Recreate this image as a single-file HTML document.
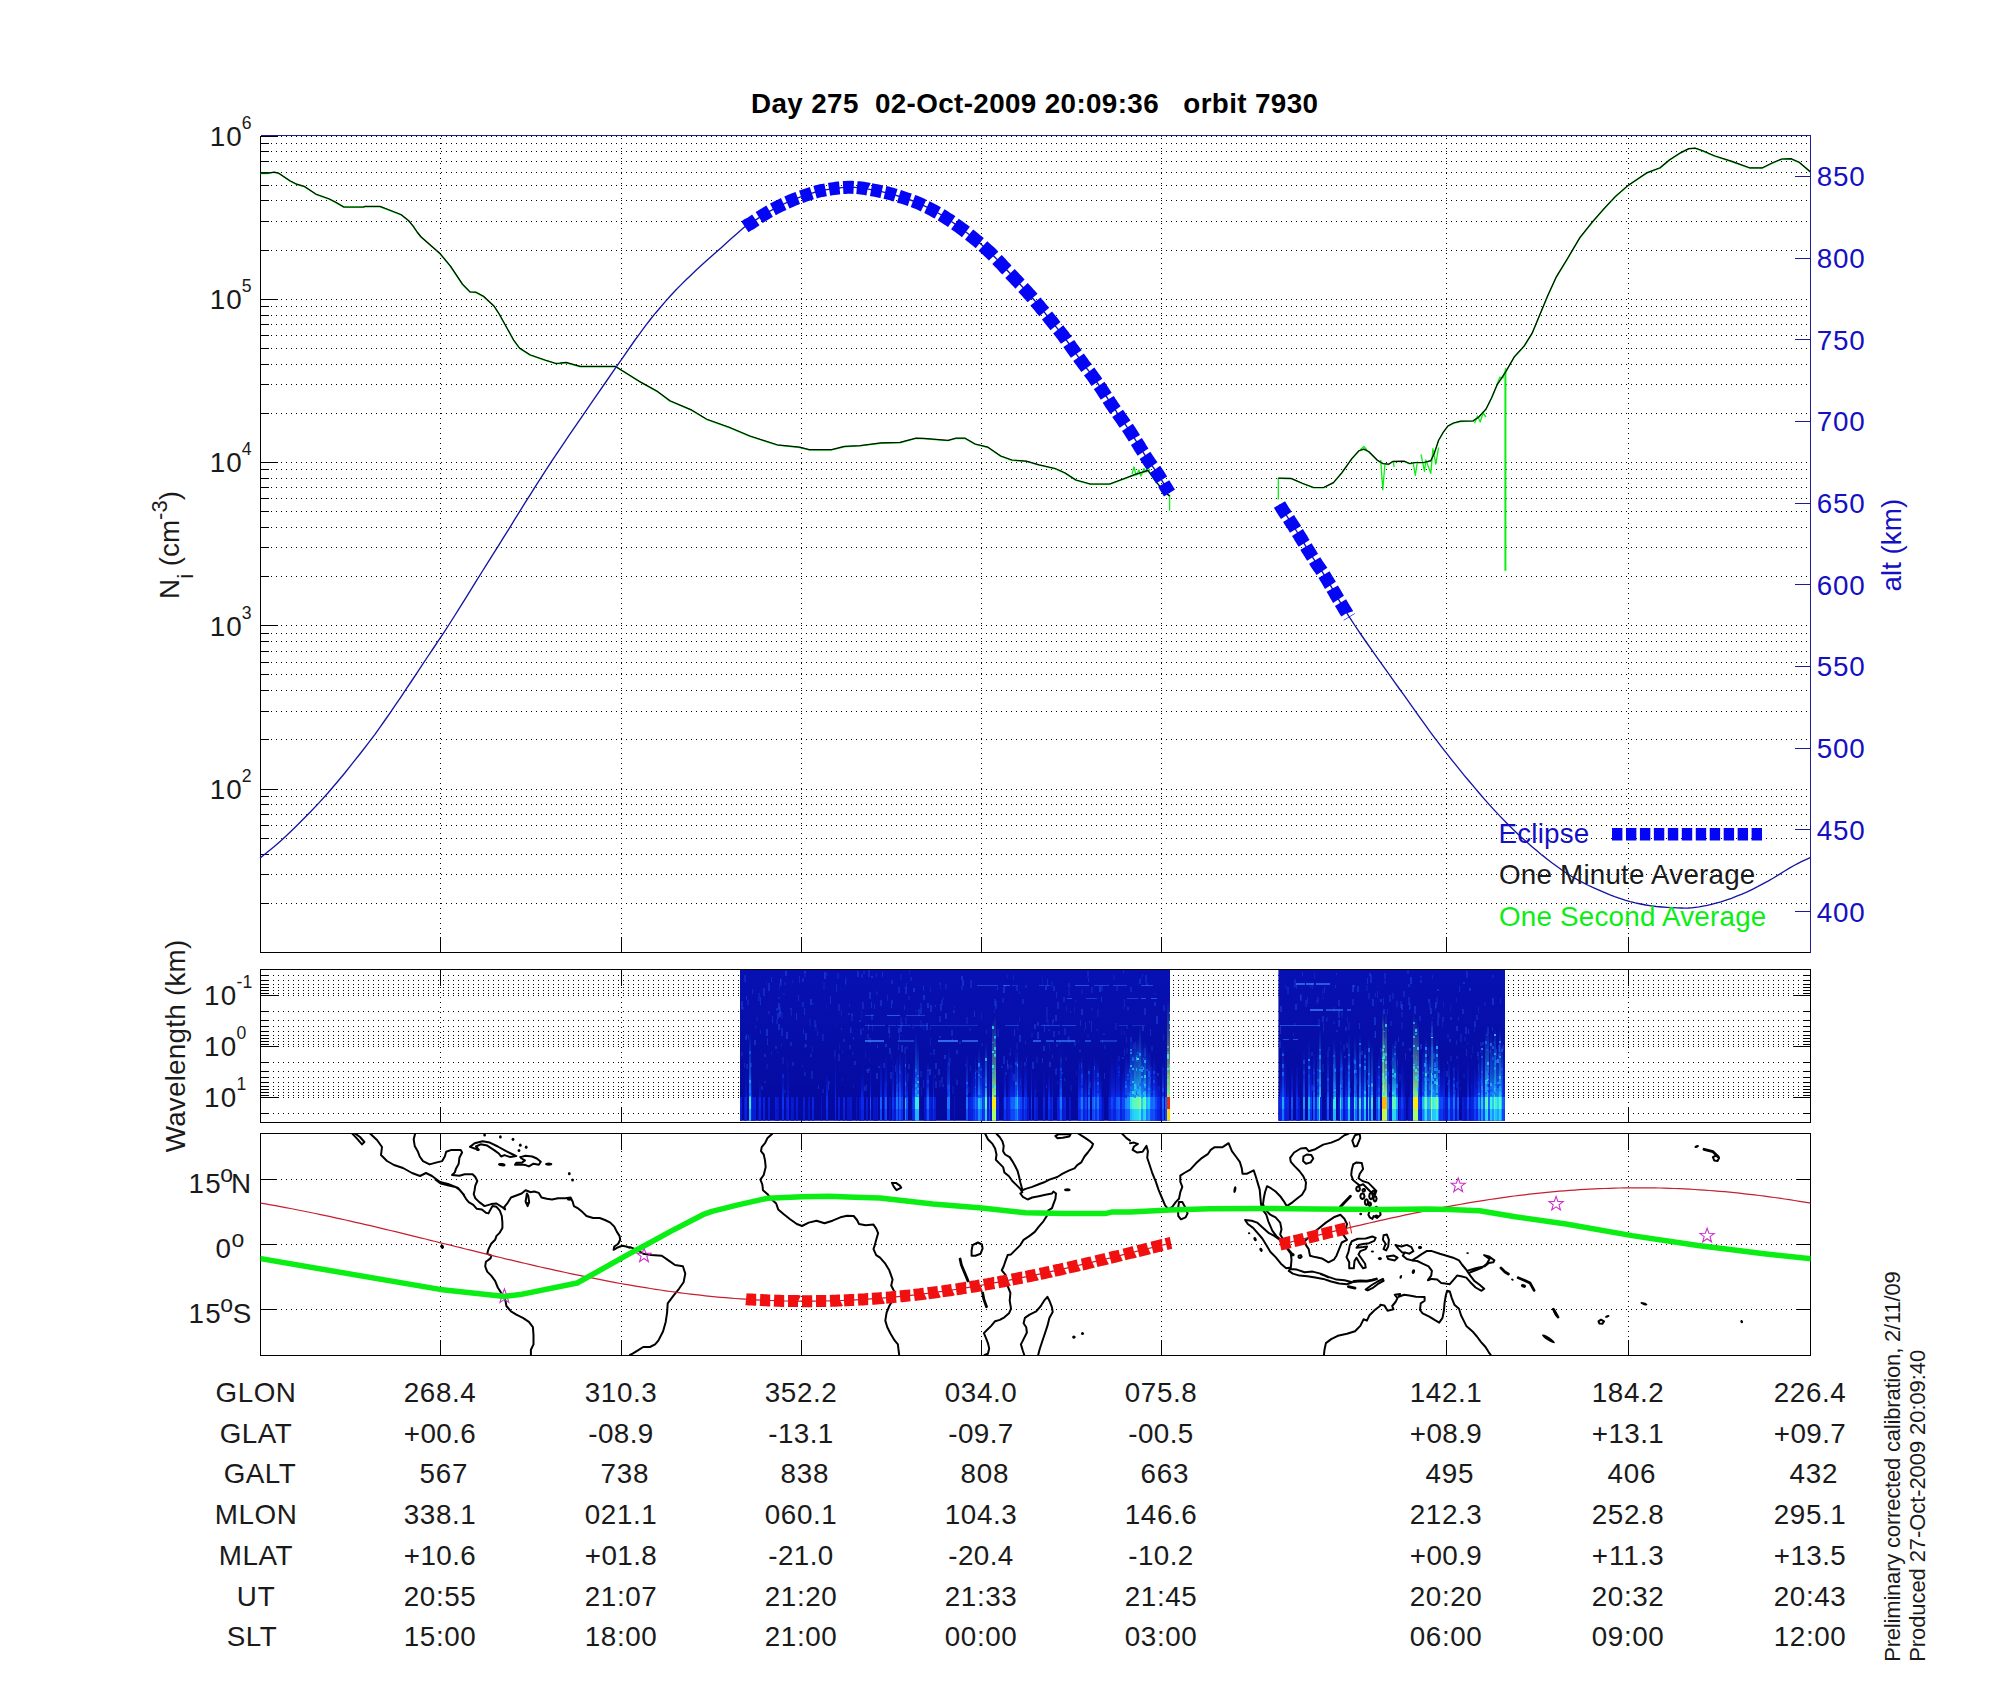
<!DOCTYPE html>
<html lang="en"><head><meta charset="utf-8"><title>Day 275 02-Oct-2009 orbit 7930</title>
<style>html,body{margin:0;padding:0;background:#fff}svg{display:block}</style></head>
<body>
<svg width="2000" height="1700" viewBox="0 0 2000 1700" font-family='"Liberation Sans", Arial, Helvetica, sans-serif' font-size="27.8" fill="#1a1a1a">
<rect width="2000" height="1700" fill="#fff"/>
<g stroke="#000" stroke-width="1" stroke-dasharray="1 4" shape-rendering="crispEdges">
<line x1="261" x2="1807" y1="136.5" y2="136.5"/>
<line x1="261" x2="1807" y1="143.5" y2="143.5"/>
<line x1="261" x2="1807" y1="151.5" y2="151.5"/>
<line x1="261" x2="1807" y1="161.5" y2="161.5"/>
<line x1="261" x2="1807" y1="172.5" y2="172.5"/>
<line x1="261" x2="1807" y1="185.5" y2="185.5"/>
<line x1="261" x2="1807" y1="200.5" y2="200.5"/>
<line x1="261" x2="1807" y1="221.5" y2="221.5"/>
<line x1="261" x2="1807" y1="250.5" y2="250.5"/>
<line x1="261" x2="1807" y1="299.5" y2="299.5"/>
<line x1="261" x2="1807" y1="306.5" y2="306.5"/>
<line x1="261" x2="1807" y1="315.5" y2="315.5"/>
<line x1="261" x2="1807" y1="324.5" y2="324.5"/>
<line x1="261" x2="1807" y1="335.5" y2="335.5"/>
<line x1="261" x2="1807" y1="348.5" y2="348.5"/>
<line x1="261" x2="1807" y1="364.5" y2="364.5"/>
<line x1="261" x2="1807" y1="384.5" y2="384.5"/>
<line x1="261" x2="1807" y1="413.5" y2="413.5"/>
<line x1="261" x2="1807" y1="462.5" y2="462.5"/>
<line x1="261" x2="1807" y1="469.5" y2="469.5"/>
<line x1="261" x2="1807" y1="478.5" y2="478.5"/>
<line x1="261" x2="1807" y1="487.5" y2="487.5"/>
<line x1="261" x2="1807" y1="498.5" y2="498.5"/>
<line x1="261" x2="1807" y1="511.5" y2="511.5"/>
<line x1="261" x2="1807" y1="527.5" y2="527.5"/>
<line x1="261" x2="1807" y1="547.5" y2="547.5"/>
<line x1="261" x2="1807" y1="576.5" y2="576.5"/>
<line x1="261" x2="1807" y1="625.5" y2="625.5"/>
<line x1="261" x2="1807" y1="633.5" y2="633.5"/>
<line x1="261" x2="1807" y1="641.5" y2="641.5"/>
<line x1="261" x2="1807" y1="651.5" y2="651.5"/>
<line x1="261" x2="1807" y1="662.5" y2="662.5"/>
<line x1="261" x2="1807" y1="674.5" y2="674.5"/>
<line x1="261" x2="1807" y1="690.5" y2="690.5"/>
<line x1="261" x2="1807" y1="711.5" y2="711.5"/>
<line x1="261" x2="1807" y1="739.5" y2="739.5"/>
<line x1="261" x2="1807" y1="789.5" y2="789.5"/>
<line x1="261" x2="1807" y1="796.5" y2="796.5"/>
<line x1="261" x2="1807" y1="804.5" y2="804.5"/>
<line x1="261" x2="1807" y1="814.5" y2="814.5"/>
<line x1="261" x2="1807" y1="825.5" y2="825.5"/>
<line x1="261" x2="1807" y1="838.5" y2="838.5"/>
<line x1="261" x2="1807" y1="854.5" y2="854.5"/>
<line x1="261" x2="1807" y1="874.5" y2="874.5"/>
<line x1="261" x2="1807" y1="903.5" y2="903.5"/>
<line x1="440.5" x2="440.5" y1="138" y2="952.5" stroke-dashoffset="0"/>
<line x1="621.5" x2="621.5" y1="138" y2="952.5" stroke-dashoffset="0"/>
<line x1="801.5" x2="801.5" y1="138" y2="952.5" stroke-dashoffset="0"/>
<line x1="981.5" x2="981.5" y1="138" y2="952.5" stroke-dashoffset="0"/>
<line x1="1161.5" x2="1161.5" y1="138" y2="952.5" stroke-dashoffset="0"/>
<line x1="1446.5" x2="1446.5" y1="138" y2="952.5" stroke-dashoffset="0"/>
<line x1="1628.5" x2="1628.5" y1="138" y2="952.5" stroke-dashoffset="0"/>
</g>
<g stroke="#000" stroke-width="1" stroke-dasharray="1 4" shape-rendering="crispEdges">
<line x1="263" x2="1810" y1="975.5" y2="975.5"/>
<line x1="263" x2="1810" y1="980.5" y2="980.5"/>
<line x1="263" x2="1810" y1="984.5" y2="984.5"/>
<line x1="263" x2="1810" y1="987.5" y2="987.5"/>
<line x1="263" x2="1810" y1="990.5" y2="990.5"/>
<line x1="263" x2="1810" y1="993.5" y2="993.5"/>
<line x1="263" x2="1810" y1="995.5" y2="995.5"/>
<line x1="263" x2="1810" y1="1011.5" y2="1011.5"/>
<line x1="263" x2="1810" y1="1020.5" y2="1020.5"/>
<line x1="263" x2="1810" y1="1026.5" y2="1026.5"/>
<line x1="263" x2="1810" y1="1031.5" y2="1031.5"/>
<line x1="263" x2="1810" y1="1035.5" y2="1035.5"/>
<line x1="263" x2="1810" y1="1038.5" y2="1038.5"/>
<line x1="263" x2="1810" y1="1041.5" y2="1041.5"/>
<line x1="263" x2="1810" y1="1044.5" y2="1044.5"/>
<line x1="263" x2="1810" y1="1046.5" y2="1046.5"/>
<line x1="263" x2="1810" y1="1062.5" y2="1062.5"/>
<line x1="263" x2="1810" y1="1071.5" y2="1071.5"/>
<line x1="263" x2="1810" y1="1077.5" y2="1077.5"/>
<line x1="263" x2="1810" y1="1082.5" y2="1082.5"/>
<line x1="263" x2="1810" y1="1086.5" y2="1086.5"/>
<line x1="263" x2="1810" y1="1089.5" y2="1089.5"/>
<line x1="263" x2="1810" y1="1092.5" y2="1092.5"/>
<line x1="263" x2="1810" y1="1095.5" y2="1095.5"/>
<line x1="263" x2="1810" y1="1097.5" y2="1097.5"/>
<line x1="263" x2="1810" y1="1113.5" y2="1113.5"/>
<line x1="440.5" x2="440.5" y1="972" y2="1122.5"/>
<line x1="621.5" x2="621.5" y1="972" y2="1122.5"/>
<line x1="801.5" x2="801.5" y1="972" y2="1122.5"/>
<line x1="981.5" x2="981.5" y1="972" y2="1122.5"/>
<line x1="1161.5" x2="1161.5" y1="972" y2="1122.5"/>
<line x1="1446.5" x2="1446.5" y1="972" y2="1122.5"/>
<line x1="1628.5" x2="1628.5" y1="972" y2="1122.5"/>
</g>
<g stroke="#000" stroke-width="1" stroke-dasharray="1 4" shape-rendering="crispEdges">
<line x1="261" x2="1810" y1="1179.5" y2="1179.5"/>
<line x1="261" x2="1810" y1="1244.5" y2="1244.5"/>
<line x1="261" x2="1810" y1="1309.5" y2="1309.5"/>
<line x1="440.5" x2="440.5" y1="1136" y2="1355.5"/>
<line x1="621.5" x2="621.5" y1="1136" y2="1355.5"/>
<line x1="801.5" x2="801.5" y1="1136" y2="1355.5"/>
<line x1="981.5" x2="981.5" y1="1136" y2="1355.5"/>
<line x1="1161.5" x2="1161.5" y1="1136" y2="1355.5"/>
<line x1="1446.5" x2="1446.5" y1="1136" y2="1355.5"/>
<line x1="1628.5" x2="1628.5" y1="1136" y2="1355.5"/>
<line x1="1810.5" x2="1810.5" y1="1136" y2="1355.5"/>
</g>
<g stroke="#000" stroke-width="1.2" fill="none" shape-rendering="crispEdges">
<path d="M260.5 135.5 V952.5 H1810.5"/>
<rect x="260.5" y="969.5" width="1550.0" height="153.0"/>
<rect x="260.5" y="1133.5" width="1550.0" height="222.0"/>
<path d="M440.5 952.5 v-16 M440.5 969.5 v16 M440.5 1122.5 v-16 M440.5 1133.5 v16 M440.5 1355.5 v-16 M621.5 952.5 v-16 M621.5 969.5 v16 M621.5 1122.5 v-16 M621.5 1133.5 v16 M621.5 1355.5 v-16 M801.5 952.5 v-16 M801.5 969.5 v16 M801.5 1122.5 v-16 M801.5 1133.5 v16 M801.5 1355.5 v-16 M981.5 952.5 v-16 M981.5 969.5 v16 M981.5 1122.5 v-16 M981.5 1133.5 v16 M981.5 1355.5 v-16 M1161.5 952.5 v-16 M1161.5 969.5 v16 M1161.5 1122.5 v-16 M1161.5 1133.5 v16 M1161.5 1355.5 v-16 M1446.5 952.5 v-16 M1446.5 969.5 v16 M1446.5 1122.5 v-16 M1446.5 1133.5 v16 M1446.5 1355.5 v-16 M1628.5 952.5 v-16 M1628.5 969.5 v16 M1628.5 1122.5 v-16 M1628.5 1133.5 v16 M1628.5 1355.5 v-16 M260.5 143.5 h8 M260.5 151.5 h8 M260.5 161.5 h8 M260.5 172.5 h8 M260.5 185.5 h8 M260.5 200.5 h8 M260.5 221.5 h8 M260.5 250.5 h8 M260.5 299.5 h17 M260.5 306.5 h8 M260.5 315.5 h8 M260.5 324.5 h8 M260.5 335.5 h8 M260.5 348.5 h8 M260.5 364.5 h8 M260.5 384.5 h8 M260.5 413.5 h8 M260.5 462.5 h17 M260.5 469.5 h8 M260.5 478.5 h8 M260.5 487.5 h8 M260.5 498.5 h8 M260.5 511.5 h8 M260.5 527.5 h8 M260.5 547.5 h8 M260.5 576.5 h8 M260.5 625.5 h17 M260.5 633.5 h8 M260.5 641.5 h8 M260.5 651.5 h8 M260.5 662.5 h8 M260.5 674.5 h8 M260.5 690.5 h8 M260.5 711.5 h8 M260.5 739.5 h8 M260.5 789.5 h17 M260.5 796.5 h8 M260.5 804.5 h8 M260.5 814.5 h8 M260.5 825.5 h8 M260.5 838.5 h8 M260.5 854.5 h8 M260.5 874.5 h8 M260.5 903.5 h8 M260.5 136.5 h17 M260.5 952.5 h17 M260.5 975.5 h8 M1810.5 975.5 h-8 M260.5 980.5 h8 M1810.5 980.5 h-8 M260.5 984.5 h8 M1810.5 984.5 h-8 M260.5 987.5 h8 M1810.5 987.5 h-8 M260.5 990.5 h8 M1810.5 990.5 h-8 M260.5 993.5 h8 M1810.5 993.5 h-8 M260.5 995.5 h17 M1810.5 995.5 h-17 M260.5 1011.5 h8 M1810.5 1011.5 h-8 M260.5 1020.5 h8 M1810.5 1020.5 h-8 M260.5 1026.5 h8 M1810.5 1026.5 h-8 M260.5 1031.5 h8 M1810.5 1031.5 h-8 M260.5 1035.5 h8 M1810.5 1035.5 h-8 M260.5 1038.5 h8 M1810.5 1038.5 h-8 M260.5 1041.5 h8 M1810.5 1041.5 h-8 M260.5 1044.5 h8 M1810.5 1044.5 h-8 M260.5 1046.5 h17 M1810.5 1046.5 h-17 M260.5 1062.5 h8 M1810.5 1062.5 h-8 M260.5 1071.5 h8 M1810.5 1071.5 h-8 M260.5 1077.5 h8 M1810.5 1077.5 h-8 M260.5 1082.5 h8 M1810.5 1082.5 h-8 M260.5 1086.5 h8 M1810.5 1086.5 h-8 M260.5 1089.5 h8 M1810.5 1089.5 h-8 M260.5 1092.5 h8 M1810.5 1092.5 h-8 M260.5 1095.5 h8 M1810.5 1095.5 h-8 M260.5 1097.5 h17 M1810.5 1097.5 h-17 M260.5 1113.5 h8 M1810.5 1113.5 h-8 M260.5 1179.5 h15 M1810.5 1179.5 h-15 M260.5 1244.5 h15 M1810.5 1244.5 h-15 M260.5 1309.5 h15 M1810.5 1309.5 h-15 "/>
</g>
<defs>
<linearGradient id="q1" x1="0" y1="0" x2="0" y2="1"><stop offset="0" stop-color="#0718ca" stop-opacity="0"/><stop offset="0.6" stop-color="#0718ca" stop-opacity="0.45"/><stop offset="1" stop-color="#0718ca" stop-opacity="0.95"/></linearGradient>
<linearGradient id="q2" x1="0" y1="0" x2="0" y2="1"><stop offset="0" stop-color="#0a28eb" stop-opacity="0"/><stop offset="0.6" stop-color="#0a28eb" stop-opacity="0.45"/><stop offset="1" stop-color="#0a28eb" stop-opacity="0.95"/></linearGradient>
<linearGradient id="q3" x1="0" y1="0" x2="0" y2="1"><stop offset="0" stop-color="#1255fa" stop-opacity="0"/><stop offset="0.6" stop-color="#1255fa" stop-opacity="0.45"/><stop offset="1" stop-color="#1255fa" stop-opacity="0.95"/></linearGradient>
<linearGradient id="q4" x1="0" y1="0" x2="0" y2="1"><stop offset="0" stop-color="#1991ff" stop-opacity="0"/><stop offset="0.6" stop-color="#1991ff" stop-opacity="0.45"/><stop offset="1" stop-color="#1991ff" stop-opacity="0.95"/></linearGradient>
<linearGradient id="q5" x1="0" y1="0" x2="0" y2="1"><stop offset="0" stop-color="#27cef6" stop-opacity="0"/><stop offset="0.6" stop-color="#27cef6" stop-opacity="0.45"/><stop offset="1" stop-color="#27cef6" stop-opacity="0.95"/></linearGradient>
<linearGradient id="q6" x1="0" y1="0" x2="0" y2="1"><stop offset="0" stop-color="#4cf7cf" stop-opacity="0"/><stop offset="0.6" stop-color="#4cf7cf" stop-opacity="0.45"/><stop offset="1" stop-color="#4cf7cf" stop-opacity="0.95"/></linearGradient>
<linearGradient id="q7" x1="0" y1="0" x2="0" y2="1"><stop offset="0" stop-color="#95fd80" stop-opacity="0"/><stop offset="0.6" stop-color="#95fd80" stop-opacity="0.45"/><stop offset="1" stop-color="#95fd80" stop-opacity="0.95"/></linearGradient>
<linearGradient id="q8" x1="0" y1="0" x2="0" y2="1"><stop offset="0" stop-color="#cdf644" stop-opacity="0"/><stop offset="0.6" stop-color="#cdf644" stop-opacity="0.45"/><stop offset="1" stop-color="#cdf644" stop-opacity="0.95"/></linearGradient>
<linearGradient id="q9" x1="0" y1="0" x2="0" y2="1"><stop offset="0" stop-color="#fae213" stop-opacity="0"/><stop offset="0.6" stop-color="#fae213" stop-opacity="0.45"/><stop offset="1" stop-color="#fae213" stop-opacity="0.95"/></linearGradient>
<linearGradient id="q10" x1="0" y1="0" x2="0" y2="1"><stop offset="0" stop-color="#fe940c" stop-opacity="0"/><stop offset="0.6" stop-color="#fe940c" stop-opacity="0.45"/><stop offset="1" stop-color="#fe940c" stop-opacity="0.95"/></linearGradient>
<linearGradient id="gbase" x1="0" y1="0" x2="0" y2="1"><stop offset="0" stop-color="#0711b2"/><stop offset="0.5" stop-color="#060ea8"/><stop offset="1" stop-color="#04099e"/></linearGradient>
<clipPath id="c2"><rect x="740" y="970" width="430.2" height="150.7"/><rect x="1278.4" y="970" width="226.8" height="150.7"/></clipPath>
</defs>
<g shape-rendering="crispEdges" clip-path="url(#c2)">
<rect x="740" y="970" width="430.2" height="150.7" fill="url(#gbase)"/>
<rect x="1278.4" y="970" width="226.8" height="150.7" fill="url(#gbase)"/>
<rect x="1006.7" y="1059.5" width="1.6" height="6.8" fill="#2e64ff" opacity="0.36"/>
<rect x="1056.8" y="1081.3" width="1.6" height="2.2" fill="#2e64ff" opacity="0.24"/>
<rect x="1143.9" y="1048.3" width="1.6" height="7.4" fill="#2e64ff" opacity="0.15"/>
<rect x="940.9" y="999.8" width="1.6" height="5.3" fill="#2e64ff" opacity="0.26"/>
<rect x="745.6" y="996.2" width="1.6" height="3.7" fill="#2e64ff" opacity="0.35"/>
<rect x="1067.9" y="989.3" width="1.6" height="6.8" fill="#2e64ff" opacity="0.15"/>
<rect x="1004.4" y="985.3" width="1.6" height="2" fill="#2e64ff" opacity="0.34"/>
<rect x="829.7" y="996" width="1.6" height="7.9" fill="#2e64ff" opacity="0.34"/>
<rect x="863.9" y="1086.1" width="1.6" height="5.2" fill="#2e64ff" opacity="0.29"/>
<rect x="827.7" y="1083.6" width="1.6" height="6.1" fill="#2e64ff" opacity="0.36"/>
<rect x="1122.7" y="1006.1" width="1.6" height="4.2" fill="#2e64ff" opacity="0.16"/>
<rect x="802.4" y="977.9" width="1.6" height="3.8" fill="#2e64ff" opacity="0.27"/>
<rect x="741.4" y="1051.8" width="1.6" height="4" fill="#2e64ff" opacity="0.20"/>
<rect x="1090.5" y="1028" width="1.6" height="3.9" fill="#2e64ff" opacity="0.24"/>
<rect x="1041.7" y="976.9" width="1.6" height="7.9" fill="#2e64ff" opacity="0.13"/>
<rect x="1061.1" y="1072" width="1.6" height="2.1" fill="#2e64ff" opacity="0.32"/>
<rect x="896.8" y="1039.8" width="1.6" height="2.1" fill="#2e64ff" opacity="0.13"/>
<rect x="817.5" y="1085.3" width="1.6" height="3.2" fill="#2e64ff" opacity="0.31"/>
<rect x="1138.1" y="1083.7" width="1.6" height="4.1" fill="#2e64ff" opacity="0.21"/>
<rect x="964.7" y="1063.6" width="1.6" height="2.6" fill="#2e64ff" opacity="0.31"/>
<rect x="1081.4" y="1073.8" width="1.6" height="2.2" fill="#2e64ff" opacity="0.36"/>
<rect x="779" y="1011.1" width="1.6" height="5.7" fill="#2e64ff" opacity="0.35"/>
<rect x="885.6" y="1081.6" width="1.6" height="5.3" fill="#2e64ff" opacity="0.20"/>
<rect x="875.7" y="991.4" width="1.6" height="2.5" fill="#2e64ff" opacity="0.16"/>
<rect x="1035.1" y="1090.3" width="1.6" height="3" fill="#2e64ff" opacity="0.13"/>
<rect x="1162.5" y="1034.4" width="1.6" height="4.4" fill="#2e64ff" opacity="0.18"/>
<rect x="994.3" y="1069.7" width="1.6" height="4.7" fill="#2e64ff" opacity="0.23"/>
<rect x="763.9" y="1080.6" width="1.6" height="2.2" fill="#2e64ff" opacity="0.24"/>
<rect x="1099" y="985.8" width="1.6" height="6.4" fill="#2e64ff" opacity="0.36"/>
<rect x="1009.9" y="1065.1" width="1.6" height="2.6" fill="#2e64ff" opacity="0.23"/>
<rect x="803.9" y="1072" width="1.6" height="3.8" fill="#2e64ff" opacity="0.23"/>
<rect x="1167.9" y="1072.9" width="1.6" height="7.9" fill="#2e64ff" opacity="0.23"/>
<rect x="949" y="1058.1" width="1.6" height="4.9" fill="#2e64ff" opacity="0.19"/>
<rect x="912.9" y="987.7" width="1.6" height="4.3" fill="#2e64ff" opacity="0.37"/>
<rect x="1151" y="1045.7" width="1.6" height="5" fill="#2e64ff" opacity="0.20"/>
<rect x="778.2" y="1002.9" width="1.6" height="6.7" fill="#2e64ff" opacity="0.34"/>
<rect x="894.7" y="1064.9" width="1.6" height="6.6" fill="#2e64ff" opacity="0.29"/>
<rect x="1024.3" y="1061.7" width="1.6" height="4.2" fill="#2e64ff" opacity="0.30"/>
<rect x="860.3" y="1028.6" width="1.6" height="6.6" fill="#2e64ff" opacity="0.29"/>
<rect x="865.8" y="1084.1" width="1.6" height="5.9" fill="#2e64ff" opacity="0.27"/>
<rect x="745" y="1036" width="1.6" height="3.5" fill="#2e64ff" opacity="0.29"/>
<rect x="938.2" y="1068.6" width="1.6" height="5.9" fill="#2e64ff" opacity="0.32"/>
<rect x="889" y="1047.7" width="1.6" height="6.4" fill="#2e64ff" opacity="0.33"/>
<rect x="889.9" y="1071.7" width="1.6" height="7.2" fill="#2e64ff" opacity="0.29"/>
<rect x="1158" y="1085.5" width="1.6" height="5.1" fill="#2e64ff" opacity="0.25"/>
<rect x="811.2" y="1071" width="1.6" height="7.6" fill="#2e64ff" opacity="0.24"/>
<rect x="1036.1" y="1056.9" width="1.6" height="6.4" fill="#2e64ff" opacity="0.16"/>
<rect x="1074.2" y="1040.1" width="1.6" height="6" fill="#2e64ff" opacity="0.23"/>
<rect x="1007.1" y="1063.5" width="1.6" height="5.8" fill="#2e64ff" opacity="0.30"/>
<rect x="751.8" y="989.3" width="1.6" height="4.6" fill="#2e64ff" opacity="0.28"/>
<rect x="833.8" y="1052.8" width="1.6" height="5.8" fill="#2e64ff" opacity="0.13"/>
<rect x="941.9" y="997.3" width="1.6" height="2.3" fill="#2e64ff" opacity="0.15"/>
<rect x="875.9" y="991.9" width="1.6" height="3.2" fill="#2e64ff" opacity="0.13"/>
<rect x="939.3" y="1015.9" width="1.6" height="5.7" fill="#2e64ff" opacity="0.27"/>
<rect x="841.8" y="1079" width="1.6" height="2" fill="#2e64ff" opacity="0.22"/>
<rect x="859.3" y="1019.5" width="1.6" height="2.7" fill="#2e64ff" opacity="0.33"/>
<rect x="900.1" y="974.4" width="1.6" height="5.7" fill="#2e64ff" opacity="0.14"/>
<rect x="973.5" y="1011" width="1.6" height="5.5" fill="#2e64ff" opacity="0.36"/>
<rect x="1090.5" y="1020.6" width="1.6" height="6.9" fill="#2e64ff" opacity="0.28"/>
<rect x="898.2" y="987.2" width="1.6" height="5.6" fill="#2e64ff" opacity="0.26"/>
<rect x="1149.9" y="1086.8" width="1.6" height="5.7" fill="#2e64ff" opacity="0.21"/>
<rect x="1122.6" y="970.1" width="1.6" height="2.6" fill="#2e64ff" opacity="0.26"/>
<rect x="1003.4" y="987" width="1.6" height="5.8" fill="#2e64ff" opacity="0.34"/>
<rect x="900.9" y="1022.1" width="1.6" height="3.4" fill="#2e64ff" opacity="0.19"/>
<rect x="1156.4" y="1015.8" width="1.6" height="7.8" fill="#2e64ff" opacity="0.35"/>
<rect x="995.1" y="1001.4" width="1.6" height="7.9" fill="#2e64ff" opacity="0.24"/>
<rect x="917.9" y="1008.5" width="1.6" height="7.9" fill="#2e64ff" opacity="0.24"/>
<rect x="862.6" y="1027.6" width="1.6" height="2.7" fill="#2e64ff" opacity="0.28"/>
<rect x="929.9" y="1005.4" width="1.6" height="6.7" fill="#2e64ff" opacity="0.33"/>
<rect x="745.7" y="1034.3" width="1.6" height="3.6" fill="#2e64ff" opacity="0.35"/>
<rect x="1074.8" y="999.7" width="1.6" height="3.6" fill="#2e64ff" opacity="0.16"/>
<rect x="1163.4" y="1005.4" width="1.6" height="5.6" fill="#2e64ff" opacity="0.24"/>
<rect x="1016.1" y="1042.9" width="1.6" height="6.5" fill="#2e64ff" opacity="0.15"/>
<rect x="1065.6" y="1006.3" width="1.6" height="5.2" fill="#2e64ff" opacity="0.20"/>
<rect x="867.1" y="1034" width="1.6" height="4.8" fill="#2e64ff" opacity="0.21"/>
<rect x="1059" y="1041.3" width="1.6" height="2.2" fill="#2e64ff" opacity="0.18"/>
<rect x="935.1" y="1080.6" width="1.6" height="7.3" fill="#2e64ff" opacity="0.26"/>
<rect x="746.2" y="1064" width="1.6" height="4.6" fill="#2e64ff" opacity="0.26"/>
<rect x="1043.2" y="1046.3" width="1.6" height="4.9" fill="#2e64ff" opacity="0.35"/>
<rect x="905.1" y="1017.3" width="1.6" height="7.1" fill="#2e64ff" opacity="0.17"/>
<rect x="866.9" y="1070.2" width="1.6" height="2.4" fill="#2e64ff" opacity="0.33"/>
<rect x="1037.4" y="1022.2" width="1.6" height="3.7" fill="#2e64ff" opacity="0.32"/>
<rect x="1130" y="987.2" width="1.6" height="4.9" fill="#2e64ff" opacity="0.26"/>
<rect x="953.1" y="1009.9" width="1.6" height="2.9" fill="#2e64ff" opacity="0.27"/>
<rect x="1087.6" y="978.3" width="1.6" height="3.4" fill="#2e64ff" opacity="0.32"/>
<rect x="1079" y="1050.1" width="1.6" height="2.2" fill="#2e64ff" opacity="0.30"/>
<rect x="1159.1" y="1090.5" width="1.6" height="6.2" fill="#2e64ff" opacity="0.13"/>
<rect x="1100.6" y="996.5" width="1.6" height="5.9" fill="#2e64ff" opacity="0.36"/>
<rect x="1045.1" y="986.2" width="1.6" height="3.8" fill="#2e64ff" opacity="0.35"/>
<rect x="804.1" y="1043.7" width="1.6" height="4.5" fill="#2e64ff" opacity="0.16"/>
<rect x="1006.5" y="975.3" width="1.6" height="2.6" fill="#2e64ff" opacity="0.21"/>
<rect x="770.8" y="976.9" width="1.6" height="5.5" fill="#2e64ff" opacity="0.31"/>
<rect x="1116.2" y="986.2" width="1.6" height="4.6" fill="#2e64ff" opacity="0.20"/>
<rect x="997" y="1029.1" width="1.6" height="7.6" fill="#2e64ff" opacity="0.21"/>
<rect x="763.9" y="1054.2" width="1.6" height="2.9" fill="#2e64ff" opacity="0.28"/>
<rect x="956.6" y="1079.9" width="1.6" height="5.3" fill="#2e64ff" opacity="0.28"/>
<rect x="852.7" y="1036.6" width="1.6" height="3.5" fill="#2e64ff" opacity="0.31"/>
<rect x="961.4" y="986.1" width="1.6" height="3.4" fill="#2e64ff" opacity="0.21"/>
<rect x="1055.5" y="991.6" width="1.6" height="6.3" fill="#2e64ff" opacity="0.28"/>
<rect x="776.5" y="1050.6" width="1.6" height="2.5" fill="#2e64ff" opacity="0.15"/>
<rect x="994.3" y="998.8" width="1.6" height="7.3" fill="#2e64ff" opacity="0.24"/>
<rect x="878.4" y="1066.1" width="1.6" height="2.2" fill="#2e64ff" opacity="0.30"/>
<rect x="763" y="988.2" width="1.6" height="7.7" fill="#2e64ff" opacity="0.29"/>
<rect x="835.5" y="984" width="1.6" height="7.8" fill="#2e64ff" opacity="0.29"/>
<rect x="1091.4" y="986.9" width="1.6" height="5.7" fill="#2e64ff" opacity="0.21"/>
<rect x="840.6" y="1010.2" width="1.6" height="5.7" fill="#2e64ff" opacity="0.21"/>
<rect x="905.2" y="986.5" width="1.6" height="7" fill="#2e64ff" opacity="0.28"/>
<rect x="1084.5" y="1022.3" width="1.6" height="7.1" fill="#2e64ff" opacity="0.25"/>
<rect x="993.8" y="1039.2" width="1.6" height="6.4" fill="#2e64ff" opacity="0.22"/>
<rect x="781.5" y="974" width="1.6" height="3.2" fill="#2e64ff" opacity="0.13"/>
<rect x="1120.8" y="1028.1" width="1.6" height="6.6" fill="#2e64ff" opacity="0.12"/>
<rect x="941.3" y="1077.4" width="1.6" height="5.7" fill="#2e64ff" opacity="0.23"/>
<rect x="939.4" y="982" width="1.6" height="2.9" fill="#2e64ff" opacity="0.16"/>
<rect x="900.4" y="1016.5" width="1.6" height="7.3" fill="#2e64ff" opacity="0.16"/>
<rect x="848.8" y="1003.5" width="1.6" height="3" fill="#2e64ff" opacity="0.19"/>
<rect x="840.7" y="1028.2" width="1.6" height="2.2" fill="#2e64ff" opacity="0.35"/>
<rect x="898" y="1083.2" width="1.6" height="6.1" fill="#2e64ff" opacity="0.29"/>
<rect x="942" y="1084.1" width="1.6" height="2.7" fill="#2e64ff" opacity="0.29"/>
<rect x="864.6" y="1051.4" width="1.6" height="6.4" fill="#2e64ff" opacity="0.16"/>
<rect x="826.1" y="973" width="1.6" height="3.4" fill="#2e64ff" opacity="0.14"/>
<rect x="911.7" y="1087.5" width="1.6" height="4.2" fill="#2e64ff" opacity="0.20"/>
<rect x="940.4" y="1004.2" width="1.6" height="6.4" fill="#2e64ff" opacity="0.30"/>
<rect x="809.9" y="999" width="1.6" height="6" fill="#2e64ff" opacity="0.36"/>
<rect x="1016.6" y="1022" width="1.6" height="7.9" fill="#2e64ff" opacity="0.12"/>
<rect x="766.1" y="1064.1" width="1.6" height="4.5" fill="#2e64ff" opacity="0.13"/>
<rect x="974.8" y="1089.4" width="1.6" height="5.1" fill="#2e64ff" opacity="0.21"/>
<rect x="780.2" y="978.6" width="1.6" height="7.4" fill="#2e64ff" opacity="0.24"/>
<rect x="1140.7" y="976.5" width="1.6" height="3.5" fill="#2e64ff" opacity="0.13"/>
<rect x="910.1" y="977.3" width="1.6" height="3.5" fill="#2e64ff" opacity="0.22"/>
<rect x="871" y="976.2" width="1.6" height="2.2" fill="#2e64ff" opacity="0.36"/>
<rect x="816.8" y="1031.4" width="1.6" height="4.4" fill="#2e64ff" opacity="0.25"/>
<rect x="776.1" y="1007.9" width="1.6" height="2.6" fill="#2e64ff" opacity="0.26"/>
<rect x="1134.5" y="1042.2" width="1.6" height="7.1" fill="#2e64ff" opacity="0.17"/>
<rect x="747.5" y="1035.1" width="1.6" height="4.9" fill="#2e64ff" opacity="0.26"/>
<rect x="901.3" y="1045.4" width="1.6" height="6.4" fill="#2e64ff" opacity="0.35"/>
<rect x="871.7" y="1024.2" width="1.6" height="7" fill="#2e64ff" opacity="0.18"/>
<rect x="789.5" y="1007.6" width="1.6" height="2.5" fill="#2e64ff" opacity="0.31"/>
<rect x="1090.9" y="1007.8" width="1.6" height="2.8" fill="#2e64ff" opacity="0.14"/>
<rect x="844.8" y="980.2" width="1.6" height="4.6" fill="#2e64ff" opacity="0.26"/>
<rect x="845.1" y="977.4" width="1.6" height="6.2" fill="#2e64ff" opacity="0.13"/>
<rect x="825.6" y="1004.5" width="1.6" height="4.2" fill="#2e64ff" opacity="0.14"/>
<rect x="920.1" y="1007.9" width="1.6" height="6.5" fill="#2e64ff" opacity="0.26"/>
<rect x="1123.7" y="1048.9" width="1.6" height="6.6" fill="#2e64ff" opacity="0.26"/>
<rect x="929.3" y="1068.6" width="1.6" height="5.9" fill="#2e64ff" opacity="0.36"/>
<rect x="1051.7" y="1054.6" width="1.6" height="3.6" fill="#2e64ff" opacity="0.32"/>
<rect x="903.7" y="985.7" width="1.6" height="2.4" fill="#2e64ff" opacity="0.16"/>
<rect x="852.4" y="1051.6" width="1.6" height="3.7" fill="#2e64ff" opacity="0.14"/>
<rect x="1067.1" y="1037.3" width="1.6" height="2.2" fill="#2e64ff" opacity="0.13"/>
<rect x="795.7" y="1013.1" width="1.6" height="7.2" fill="#2e64ff" opacity="0.36"/>
<rect x="1002.1" y="997.9" width="1.6" height="4.6" fill="#2e64ff" opacity="0.21"/>
<rect x="881.5" y="971.5" width="1.6" height="5.5" fill="#2e64ff" opacity="0.33"/>
<rect x="1051.2" y="981.5" width="1.6" height="5.2" fill="#2e64ff" opacity="0.16"/>
<rect x="1043.8" y="1023.9" width="1.6" height="7.6" fill="#2e64ff" opacity="0.32"/>
<rect x="790.6" y="1008.3" width="1.6" height="7.5" fill="#2e64ff" opacity="0.24"/>
<rect x="925.9" y="1023.3" width="1.6" height="6.6" fill="#2e64ff" opacity="0.35"/>
<rect x="968.1" y="1087" width="1.6" height="5.6" fill="#2e64ff" opacity="0.15"/>
<rect x="1088.7" y="1020.6" width="1.6" height="2.3" fill="#2e64ff" opacity="0.36"/>
<rect x="754.1" y="1039.6" width="1.6" height="4.9" fill="#2e64ff" opacity="0.34"/>
<rect x="908.2" y="996" width="1.6" height="3.7" fill="#2e64ff" opacity="0.17"/>
<rect x="980.8" y="1013.1" width="1.6" height="6.5" fill="#2e64ff" opacity="0.18"/>
<rect x="890.6" y="1000" width="1.6" height="7.9" fill="#2e64ff" opacity="0.33"/>
<rect x="1103.9" y="1044.6" width="1.6" height="4.4" fill="#2e64ff" opacity="0.16"/>
<rect x="1096.1" y="1029.2" width="1.6" height="2.2" fill="#2e64ff" opacity="0.16"/>
<rect x="782.3" y="1056.6" width="1.6" height="7.4" fill="#2e64ff" opacity="0.17"/>
<rect x="1081.3" y="1009.1" width="1.6" height="6.1" fill="#2e64ff" opacity="0.34"/>
<rect x="1006.8" y="1066.6" width="1.6" height="4.3" fill="#2e64ff" opacity="0.12"/>
<rect x="959.1" y="1040.8" width="1.6" height="3.1" fill="#2e64ff" opacity="0.22"/>
<rect x="875.8" y="973.3" width="1.6" height="3.9" fill="#2e64ff" opacity="0.22"/>
<rect x="943.9" y="1054.9" width="1.6" height="4.4" fill="#2e64ff" opacity="0.37"/>
<rect x="1089.2" y="1081.5" width="1.6" height="6.2" fill="#2e64ff" opacity="0.29"/>
<rect x="969.8" y="1066.4" width="1.6" height="4.2" fill="#2e64ff" opacity="0.27"/>
<rect x="1030.9" y="1033" width="1.6" height="3.7" fill="#2e64ff" opacity="0.14"/>
<rect x="777.4" y="1013" width="1.6" height="5.5" fill="#2e64ff" opacity="0.31"/>
<rect x="1045.9" y="1007" width="1.6" height="7.6" fill="#2e64ff" opacity="0.19"/>
<rect x="1046.6" y="978.7" width="1.6" height="6.5" fill="#2e64ff" opacity="0.29"/>
<rect x="1149.7" y="1078.3" width="1.6" height="6.1" fill="#2e64ff" opacity="0.33"/>
<rect x="1056.3" y="1043.7" width="1.6" height="3.3" fill="#2e64ff" opacity="0.25"/>
<rect x="1123.7" y="998.9" width="1.6" height="7.8" fill="#2e64ff" opacity="0.26"/>
<rect x="908.5" y="970.4" width="1.6" height="4.3" fill="#2e64ff" opacity="0.16"/>
<rect x="1019.7" y="1078.6" width="1.6" height="7.5" fill="#2e64ff" opacity="0.27"/>
<rect x="905.6" y="983.1" width="1.6" height="6.1" fill="#2e64ff" opacity="0.26"/>
<rect x="1046.3" y="1015.1" width="1.6" height="7.3" fill="#2e64ff" opacity="0.17"/>
<rect x="870.8" y="1002.3" width="1.6" height="5.7" fill="#2e64ff" opacity="0.34"/>
<rect x="811.7" y="1046.4" width="1.6" height="6.6" fill="#2e64ff" opacity="0.18"/>
<rect x="766.8" y="1038.3" width="1.6" height="7" fill="#2e64ff" opacity="0.34"/>
<rect x="1051.7" y="1020.3" width="1.6" height="4.6" fill="#2e64ff" opacity="0.25"/>
<rect x="1127.4" y="1006.5" width="1.6" height="3.7" fill="#2e64ff" opacity="0.27"/>
<rect x="1153.9" y="992.6" width="1.6" height="2.2" fill="#2e64ff" opacity="0.15"/>
<rect x="980.9" y="1042.8" width="1.6" height="3.1" fill="#2e64ff" opacity="0.17"/>
<rect x="994.6" y="1048" width="1.6" height="6.1" fill="#2e64ff" opacity="0.30"/>
<rect x="766.3" y="1028.5" width="1.6" height="7" fill="#2e64ff" opacity="0.36"/>
<rect x="876.4" y="1072.6" width="1.6" height="5.9" fill="#2e64ff" opacity="0.35"/>
<rect x="838.1" y="1054.1" width="1.6" height="7" fill="#2e64ff" opacity="0.24"/>
<rect x="783.2" y="993.4" width="1.6" height="2.9" fill="#2e64ff" opacity="0.14"/>
<rect x="805.1" y="1044.3" width="1.6" height="2.6" fill="#2e64ff" opacity="0.31"/>
<rect x="1055.2" y="1068.5" width="1.6" height="6.8" fill="#2e64ff" opacity="0.30"/>
<rect x="1135.7" y="1085.5" width="1.6" height="5.8" fill="#2e64ff" opacity="0.36"/>
<rect x="784.2" y="982.4" width="1.6" height="2.4" fill="#2e64ff" opacity="0.17"/>
<rect x="900.3" y="1025.4" width="1.6" height="6.1" fill="#2e64ff" opacity="0.31"/>
<rect x="775.9" y="1018.7" width="1.6" height="5.3" fill="#2e64ff" opacity="0.21"/>
<rect x="790.3" y="1042.1" width="1.6" height="4.2" fill="#2e64ff" opacity="0.29"/>
<rect x="952.2" y="1086.2" width="1.6" height="7.7" fill="#2e64ff" opacity="0.14"/>
<rect x="1065.3" y="1057.1" width="1.6" height="3.8" fill="#2e64ff" opacity="0.15"/>
<rect x="945.1" y="1012.7" width="1.6" height="6.4" fill="#2e64ff" opacity="0.35"/>
<rect x="903.6" y="1005.1" width="1.6" height="5" fill="#2e64ff" opacity="0.29"/>
<rect x="1077.8" y="1039.5" width="1.6" height="3.8" fill="#2e64ff" opacity="0.20"/>
<rect x="1103.1" y="1032.7" width="1.6" height="2.3" fill="#2e64ff" opacity="0.23"/>
<rect x="841.8" y="1050.4" width="1.6" height="2.4" fill="#2e64ff" opacity="0.19"/>
<rect x="781.1" y="1027.6" width="1.6" height="7.9" fill="#2e64ff" opacity="0.26"/>
<rect x="905.4" y="1082.7" width="1.6" height="2.6" fill="#2e64ff" opacity="0.21"/>
<rect x="1087.2" y="970.6" width="1.6" height="6.6" fill="#2e64ff" opacity="0.21"/>
<rect x="747" y="1000.3" width="1.6" height="4.7" fill="#2e64ff" opacity="0.22"/>
<rect x="961.3" y="976.4" width="1.6" height="3.3" fill="#2e64ff" opacity="0.36"/>
<rect x="929.5" y="1027" width="1.6" height="2.5" fill="#2e64ff" opacity="0.19"/>
<rect x="1148.8" y="1052.9" width="1.6" height="5" fill="#2e64ff" opacity="0.13"/>
<rect x="908.2" y="1064" width="1.6" height="4.6" fill="#2e64ff" opacity="0.27"/>
<rect x="1126.4" y="1047.9" width="1.6" height="5.8" fill="#2e64ff" opacity="0.13"/>
<rect x="750.2" y="1062.9" width="1.6" height="4.5" fill="#2e64ff" opacity="0.34"/>
<rect x="1093.6" y="1080.5" width="1.6" height="4.3" fill="#2e64ff" opacity="0.37"/>
<rect x="1063.8" y="1077.6" width="1.6" height="2.9" fill="#2e64ff" opacity="0.32"/>
<rect x="920.8" y="1087.3" width="1.6" height="8" fill="#2e64ff" opacity="0.17"/>
<rect x="920.4" y="1002.7" width="1.6" height="4.8" fill="#2e64ff" opacity="0.19"/>
<rect x="1025.4" y="984.9" width="1.6" height="3" fill="#2e64ff" opacity="0.23"/>
<rect x="771.6" y="1016" width="1.6" height="7.4" fill="#2e64ff" opacity="0.34"/>
<rect x="824.2" y="972.2" width="1.6" height="7" fill="#2e64ff" opacity="0.36"/>
<rect x="996.5" y="986.5" width="1.6" height="3.4" fill="#2e64ff" opacity="0.35"/>
<rect x="1141.5" y="973.8" width="1.6" height="3.1" fill="#2e64ff" opacity="0.23"/>
<rect x="854.2" y="1061" width="1.6" height="4.2" fill="#2e64ff" opacity="0.31"/>
<rect x="805.1" y="1032.6" width="1.6" height="7.8" fill="#2e64ff" opacity="0.30"/>
<rect x="778.6" y="983.4" width="1.6" height="5.9" fill="#2e64ff" opacity="0.21"/>
<rect x="897.9" y="1027.7" width="1.6" height="5.5" fill="#2e64ff" opacity="0.36"/>
<rect x="843.2" y="1038.6" width="1.6" height="3.6" fill="#2e64ff" opacity="0.26"/>
<rect x="1053.2" y="986.1" width="1.6" height="4.9" fill="#2e64ff" opacity="0.30"/>
<rect x="743.5" y="1063.1" width="1.6" height="4.5" fill="#2e64ff" opacity="0.25"/>
<rect x="1001.4" y="1065.7" width="1.6" height="2.3" fill="#2e64ff" opacity="0.25"/>
<rect x="756.4" y="1016.5" width="1.6" height="4.1" fill="#2e64ff" opacity="0.13"/>
<rect x="867.5" y="1024.3" width="1.6" height="5.9" fill="#2e64ff" opacity="0.35"/>
<rect x="898.6" y="1034" width="1.6" height="6.3" fill="#2e64ff" opacity="0.35"/>
<rect x="1146.6" y="1089.3" width="1.6" height="3.8" fill="#2e64ff" opacity="0.16"/>
<rect x="1139" y="979.3" width="1.6" height="4.7" fill="#2e64ff" opacity="0.30"/>
<rect x="966.4" y="1016.9" width="1.6" height="7.5" fill="#2e64ff" opacity="0.19"/>
<rect x="976.2" y="1070.1" width="1.6" height="2.8" fill="#2e64ff" opacity="0.21"/>
<rect x="951.7" y="1038.3" width="1.6" height="3.2" fill="#2e64ff" opacity="0.23"/>
<rect x="765.6" y="980.6" width="1.6" height="4.1" fill="#2e64ff" opacity="0.16"/>
<rect x="1154.3" y="1001.8" width="1.6" height="3.7" fill="#2e64ff" opacity="0.32"/>
<rect x="1057.4" y="1001.6" width="1.6" height="7" fill="#2e64ff" opacity="0.28"/>
<rect x="906.4" y="1045.9" width="1.6" height="3.5" fill="#2e64ff" opacity="0.19"/>
<rect x="1115.3" y="1022.9" width="1.6" height="7.4" fill="#2e64ff" opacity="0.16"/>
<rect x="798.8" y="976.3" width="1.6" height="6.4" fill="#2e64ff" opacity="0.26"/>
<rect x="744.1" y="975.2" width="1.6" height="6.9" fill="#2e64ff" opacity="0.24"/>
<rect x="1113.1" y="974.8" width="1.6" height="5.5" fill="#2e64ff" opacity="0.15"/>
<rect x="1048.8" y="1043.8" width="1.6" height="5.7" fill="#2e64ff" opacity="0.18"/>
<rect x="1146.4" y="983.4" width="1.6" height="2.4" fill="#2e64ff" opacity="0.29"/>
<rect x="779.7" y="978.1" width="1.6" height="4.8" fill="#2e64ff" opacity="0.28"/>
<rect x="1122" y="1057" width="1.6" height="2.4" fill="#2e64ff" opacity="0.28"/>
<rect x="1101.2" y="984.5" width="1.6" height="6.5" fill="#2e64ff" opacity="0.18"/>
<rect x="867.9" y="970.2" width="1.6" height="6.5" fill="#2e64ff" opacity="0.25"/>
<rect x="1126.2" y="1026.2" width="1.6" height="2.9" fill="#2e64ff" opacity="0.17"/>
<rect x="852.8" y="1084.3" width="1.6" height="3.2" fill="#2e64ff" opacity="0.14"/>
<rect x="891" y="979.5" width="1.6" height="4.6" fill="#2e64ff" opacity="0.28"/>
<rect x="1018.6" y="991.1" width="1.6" height="2.8" fill="#2e64ff" opacity="0.24"/>
<rect x="1034.3" y="1024" width="1.6" height="5.4" fill="#2e64ff" opacity="0.35"/>
<rect x="802.1" y="1002.3" width="1.6" height="5" fill="#2e64ff" opacity="0.25"/>
<rect x="1125.5" y="1037" width="1.6" height="6" fill="#2e64ff" opacity="0.22"/>
<rect x="1075.8" y="1070.9" width="1.6" height="3.8" fill="#2e64ff" opacity="0.15"/>
<rect x="851" y="1013.2" width="1.6" height="7.3" fill="#2e64ff" opacity="0.19"/>
<rect x="1009.5" y="1047.3" width="1.6" height="7.7" fill="#2e64ff" opacity="0.15"/>
<rect x="1069.7" y="1010.6" width="1.6" height="2.6" fill="#2e64ff" opacity="0.28"/>
<rect x="1101.5" y="1040.3" width="1.6" height="2.3" fill="#2e64ff" opacity="0.36"/>
<rect x="904.5" y="1046.8" width="1.6" height="6.3" fill="#2e64ff" opacity="0.19"/>
<rect x="914.9" y="1009.7" width="1.6" height="2.6" fill="#2e64ff" opacity="0.14"/>
<rect x="1047" y="1019.6" width="1.6" height="7.2" fill="#2e64ff" opacity="0.14"/>
<rect x="869.1" y="991.7" width="1.6" height="7.7" fill="#2e64ff" opacity="0.32"/>
<rect x="1123.8" y="1031.1" width="1.6" height="2.6" fill="#2e64ff" opacity="0.22"/>
<rect x="836.9" y="973.2" width="1.6" height="5.4" fill="#2e64ff" opacity="0.19"/>
<rect x="786.2" y="1031.7" width="1.6" height="7.6" fill="#2e64ff" opacity="0.36"/>
<rect x="939.6" y="982.4" width="1.6" height="6.6" fill="#2e64ff" opacity="0.15"/>
<rect x="970.1" y="980.1" width="1.6" height="7.9" fill="#2e64ff" opacity="0.26"/>
<rect x="927.3" y="1002.9" width="1.6" height="5.3" fill="#2e64ff" opacity="0.36"/>
<rect x="923.2" y="995.3" width="1.6" height="5.1" fill="#2e64ff" opacity="0.35"/>
<rect x="903.5" y="1046.5" width="1.6" height="7.5" fill="#2e64ff" opacity="0.20"/>
<rect x="1087.2" y="1033.9" width="1.6" height="2.8" fill="#2e64ff" opacity="0.13"/>
<rect x="1142.1" y="1026.2" width="1.6" height="4.7" fill="#2e64ff" opacity="0.35"/>
<rect x="985.8" y="1030.4" width="1.6" height="3.7" fill="#2e64ff" opacity="0.31"/>
<rect x="849.7" y="1026.8" width="1.6" height="6.6" fill="#2e64ff" opacity="0.27"/>
<rect x="797.5" y="994.5" width="1.6" height="6.2" fill="#2e64ff" opacity="0.30"/>
<rect x="783.9" y="1090.4" width="1.6" height="2.8" fill="#2e64ff" opacity="0.16"/>
<rect x="778.4" y="1023.9" width="1.6" height="5.7" fill="#2e64ff" opacity="0.33"/>
<rect x="809.9" y="1054.3" width="1.6" height="2.6" fill="#2e64ff" opacity="0.27"/>
<rect x="847.9" y="1013" width="1.6" height="2.3" fill="#2e64ff" opacity="0.30"/>
<rect x="792.4" y="1062.2" width="1.6" height="4" fill="#2e64ff" opacity="0.27"/>
<rect x="1013.7" y="1029" width="1.6" height="7.2" fill="#2e64ff" opacity="0.35"/>
<rect x="860.8" y="1010.3" width="1.6" height="7.3" fill="#2e64ff" opacity="0.15"/>
<rect x="919.9" y="1020" width="1.6" height="7.9" fill="#2e64ff" opacity="0.15"/>
<rect x="1020.5" y="1061.4" width="1.6" height="6.4" fill="#2e64ff" opacity="0.12"/>
<rect x="1144.1" y="1007.7" width="1.6" height="7.1" fill="#2e64ff" opacity="0.29"/>
<rect x="920.2" y="1071.1" width="1.6" height="6.1" fill="#2e64ff" opacity="0.20"/>
<rect x="1053.4" y="1031" width="1.6" height="6.3" fill="#2e64ff" opacity="0.27"/>
<rect x="1080.9" y="989.2" width="1.6" height="5" fill="#2e64ff" opacity="0.12"/>
<rect x="1078.6" y="1063.1" width="1.6" height="7" fill="#2e64ff" opacity="0.13"/>
<rect x="969.2" y="1027.8" width="1.6" height="2.7" fill="#2e64ff" opacity="0.17"/>
<rect x="1157.2" y="1072.9" width="1.6" height="3.4" fill="#2e64ff" opacity="0.33"/>
<rect x="1018.8" y="1016.5" width="1.6" height="5.9" fill="#2e64ff" opacity="0.18"/>
<rect x="857.2" y="971.2" width="1.6" height="5.9" fill="#2e64ff" opacity="0.27"/>
<rect x="1058.3" y="1030.8" width="1.6" height="4.6" fill="#2e64ff" opacity="0.20"/>
<rect x="1054.9" y="1015" width="1.6" height="5.6" fill="#2e64ff" opacity="0.31"/>
<rect x="930.3" y="1052.8" width="1.6" height="2.4" fill="#2e64ff" opacity="0.19"/>
<rect x="1100" y="987.8" width="1.6" height="2.3" fill="#2e64ff" opacity="0.12"/>
<rect x="1068" y="982.8" width="1.6" height="4.7" fill="#2e64ff" opacity="0.23"/>
<rect x="1083.8" y="1027.5" width="1.6" height="5.1" fill="#2e64ff" opacity="0.13"/>
<rect x="1080.5" y="1062.6" width="1.6" height="5.7" fill="#2e64ff" opacity="0.33"/>
<rect x="1002.9" y="1056.4" width="1.6" height="7.1" fill="#2e64ff" opacity="0.27"/>
<rect x="748.7" y="1076.8" width="1.6" height="7.9" fill="#2e64ff" opacity="0.17"/>
<rect x="768.3" y="1011" width="1.6" height="2.6" fill="#2e64ff" opacity="0.21"/>
<rect x="778.2" y="996.6" width="1.6" height="2" fill="#2e64ff" opacity="0.23"/>
<rect x="868.5" y="1058" width="1.6" height="4.3" fill="#2e64ff" opacity="0.16"/>
<rect x="1148.2" y="1078" width="1.6" height="6.1" fill="#2e64ff" opacity="0.17"/>
<rect x="912.4" y="1024.4" width="1.6" height="4.5" fill="#2e64ff" opacity="0.13"/>
<rect x="935.1" y="1062.7" width="1.6" height="6.2" fill="#2e64ff" opacity="0.34"/>
<rect x="1032.4" y="1062.1" width="1.6" height="7.2" fill="#2e64ff" opacity="0.35"/>
<rect x="1079.6" y="1020.2" width="1.6" height="6" fill="#2e64ff" opacity="0.28"/>
<rect x="1118" y="1056.1" width="1.6" height="4.7" fill="#2e64ff" opacity="0.17"/>
<rect x="880.2" y="1000.2" width="1.6" height="6.1" fill="#2e64ff" opacity="0.31"/>
<rect x="822.2" y="1034.4" width="1.6" height="7" fill="#2e64ff" opacity="0.21"/>
<rect x="780.6" y="1043.1" width="1.6" height="4.2" fill="#2e64ff" opacity="0.16"/>
<rect x="863.3" y="970.8" width="1.6" height="2.9" fill="#2e64ff" opacity="0.23"/>
<rect x="784.9" y="970.7" width="1.6" height="5.3" fill="#2e64ff" opacity="0.36"/>
<rect x="1097.1" y="1009.4" width="1.6" height="7.5" fill="#2e64ff" opacity="0.14"/>
<rect x="804.4" y="970.8" width="1.6" height="2.4" fill="#2e64ff" opacity="0.27"/>
<rect x="1064.1" y="1027.7" width="1.6" height="6.8" fill="#2e64ff" opacity="0.23"/>
<rect x="1133.4" y="1043.4" width="1.6" height="5.2" fill="#2e64ff" opacity="0.16"/>
<rect x="922.6" y="1023.1" width="1.6" height="6.9" fill="#2e64ff" opacity="0.18"/>
<rect x="866.2" y="1068.6" width="1.6" height="2.4" fill="#2e64ff" opacity="0.25"/>
<rect x="834" y="1050.3" width="1.6" height="5.6" fill="#2e64ff" opacity="0.14"/>
<rect x="1052.7" y="1019.2" width="1.6" height="3.9" fill="#2e64ff" opacity="0.33"/>
<rect x="1073.5" y="1007.4" width="1.6" height="6.1" fill="#2e64ff" opacity="0.15"/>
<rect x="962.2" y="980" width="1.6" height="5.8" fill="#2e64ff" opacity="0.35"/>
<rect x="1012.5" y="974.9" width="1.6" height="5.1" fill="#2e64ff" opacity="0.24"/>
<rect x="929.7" y="988.2" width="1.6" height="3.7" fill="#2e64ff" opacity="0.23"/>
<rect x="770.5" y="1051.4" width="1.6" height="3.5" fill="#2e64ff" opacity="0.19"/>
<rect x="778.9" y="1006.5" width="1.6" height="7.6" fill="#2e64ff" opacity="0.19"/>
<rect x="781.1" y="1011.7" width="1.6" height="7.7" fill="#2e64ff" opacity="0.14"/>
<rect x="886.6" y="995.2" width="1.6" height="6.1" fill="#2e64ff" opacity="0.24"/>
<rect x="782.1" y="1074.1" width="1.6" height="4" fill="#2e64ff" opacity="0.29"/>
<rect x="933.9" y="1075.2" width="1.6" height="2.3" fill="#2e64ff" opacity="0.18"/>
<rect x="862.3" y="1001.9" width="1.6" height="6.9" fill="#2e64ff" opacity="0.25"/>
<rect x="888.5" y="1031.2" width="1.6" height="7.1" fill="#2e64ff" opacity="0.26"/>
<rect x="933.3" y="1049.3" width="1.6" height="5.7" fill="#2e64ff" opacity="0.22"/>
<rect x="922.6" y="985.9" width="1.6" height="4.6" fill="#2e64ff" opacity="0.34"/>
<rect x="871" y="1014.1" width="1.6" height="5.6" fill="#2e64ff" opacity="0.27"/>
<rect x="815.1" y="1023.8" width="1.6" height="6.4" fill="#2e64ff" opacity="0.13"/>
<rect x="786.6" y="1061.2" width="1.6" height="7.4" fill="#2e64ff" opacity="0.14"/>
<rect x="774.9" y="1045.6" width="1.6" height="3.7" fill="#2e64ff" opacity="0.28"/>
<rect x="754.7" y="1025.1" width="1.6" height="3" fill="#2e64ff" opacity="0.20"/>
<rect x="1037" y="1031.6" width="1.6" height="7.1" fill="#2e64ff" opacity="0.33"/>
<rect x="1005.2" y="1072.3" width="1.6" height="3.1" fill="#2e64ff" opacity="0.24"/>
<rect x="876.8" y="1045.4" width="1.6" height="2.7" fill="#2e64ff" opacity="0.34"/>
<rect x="898.6" y="1064.6" width="1.6" height="7.7" fill="#2e64ff" opacity="0.36"/>
<rect x="907.1" y="1073.4" width="1.6" height="8" fill="#2e64ff" opacity="0.15"/>
<rect x="1060.1" y="1057.8" width="1.6" height="4.7" fill="#2e64ff" opacity="0.19"/>
<rect x="814.2" y="1019.7" width="1.6" height="7.6" fill="#2e64ff" opacity="0.22"/>
<rect x="849.3" y="1044.8" width="1.6" height="4.6" fill="#2e64ff" opacity="0.27"/>
<rect x="934.6" y="1004.6" width="1.6" height="2.2" fill="#2e64ff" opacity="0.32"/>
<rect x="1022.2" y="999.4" width="1.6" height="5" fill="#2e64ff" opacity="0.27"/>
<rect x="955.6" y="1078.7" width="1.6" height="6.7" fill="#2e64ff" opacity="0.20"/>
<rect x="885" y="1043.8" width="1.6" height="3" fill="#2e64ff" opacity="0.35"/>
<rect x="759.5" y="1030.3" width="1.6" height="3.6" fill="#2e64ff" opacity="0.25"/>
<rect x="759.5" y="997.1" width="1.6" height="7.9" fill="#2e64ff" opacity="0.32"/>
<rect x="834.6" y="1025" width="1.6" height="2.2" fill="#2e64ff" opacity="0.15"/>
<rect x="822.1" y="1088.8" width="1.6" height="3.9" fill="#2e64ff" opacity="0.18"/>
<rect x="768" y="983.3" width="1.6" height="8" fill="#2e64ff" opacity="0.31"/>
<rect x="1134.1" y="1070.9" width="1.6" height="6.7" fill="#2e64ff" opacity="0.18"/>
<rect x="812.4" y="1002.6" width="1.6" height="2.4" fill="#2e64ff" opacity="0.16"/>
<rect x="1048.3" y="1029.3" width="1.6" height="2.1" fill="#2e64ff" opacity="0.20"/>
<rect x="1103.8" y="1072.7" width="1.6" height="6.4" fill="#2e64ff" opacity="0.30"/>
<rect x="1130.4" y="1037.3" width="1.6" height="4.3" fill="#2e64ff" opacity="0.26"/>
<rect x="860.9" y="974.4" width="1.6" height="3.6" fill="#2e64ff" opacity="0.23"/>
<rect x="791.5" y="979.7" width="1.6" height="3.5" fill="#2e64ff" opacity="0.21"/>
<rect x="1149.8" y="1028.8" width="1.6" height="7" fill="#2e64ff" opacity="0.31"/>
<rect x="993.7" y="1008.9" width="1.6" height="4.4" fill="#2e64ff" opacity="0.20"/>
<rect x="1011.6" y="1073.2" width="1.6" height="6.7" fill="#2e64ff" opacity="0.19"/>
<rect x="804" y="971.1" width="1.6" height="5.5" fill="#2e64ff" opacity="0.18"/>
<rect x="742.4" y="1006.5" width="1.6" height="3.4" fill="#2e64ff" opacity="0.17"/>
<rect x="1024.5" y="1040.5" width="1.6" height="3.7" fill="#2e64ff" opacity="0.30"/>
<rect x="828.4" y="1081.2" width="1.6" height="2.7" fill="#2e64ff" opacity="0.27"/>
<rect x="1041.8" y="1058.4" width="1.6" height="4.9" fill="#2e64ff" opacity="0.34"/>
<rect x="1009.4" y="1053.4" width="1.6" height="2.5" fill="#2e64ff" opacity="0.17"/>
<rect x="939.4" y="1035.8" width="1.6" height="2.6" fill="#2e64ff" opacity="0.31"/>
<rect x="888.4" y="1027.4" width="1.6" height="5.1" fill="#2e64ff" opacity="0.33"/>
<rect x="869.4" y="1037.6" width="1.6" height="5.6" fill="#2e64ff" opacity="0.28"/>
<rect x="873.7" y="1003.7" width="1.6" height="4.8" fill="#2e64ff" opacity="0.27"/>
<rect x="1016" y="986.1" width="1.6" height="4.7" fill="#2e64ff" opacity="0.26"/>
<rect x="823.4" y="982.3" width="1.6" height="7.6" fill="#2e64ff" opacity="0.13"/>
<rect x="953.5" y="1005.6" width="1.6" height="2.2" fill="#2e64ff" opacity="0.19"/>
<rect x="809.1" y="1018.3" width="1.6" height="7.5" fill="#2e64ff" opacity="0.14"/>
<rect x="890.6" y="1053.9" width="1.6" height="5.7" fill="#2e64ff" opacity="0.13"/>
<rect x="838" y="1003.9" width="1.6" height="7.4" fill="#2e64ff" opacity="0.23"/>
<rect x="850.3" y="1028" width="1.6" height="4.9" fill="#2e64ff" opacity="0.16"/>
<rect x="1025.6" y="1057" width="1.6" height="4.9" fill="#2e64ff" opacity="0.25"/>
<rect x="1069.9" y="1085.4" width="1.6" height="5.7" fill="#2e64ff" opacity="0.13"/>
<rect x="956.3" y="1049.9" width="1.6" height="4" fill="#2e64ff" opacity="0.29"/>
<rect x="897.5" y="1044.4" width="1.6" height="5.7" fill="#2e64ff" opacity="0.29"/>
<rect x="1136.3" y="1055.4" width="1.6" height="6.3" fill="#2e64ff" opacity="0.30"/>
<rect x="838.7" y="1044.1" width="1.6" height="5.7" fill="#2e64ff" opacity="0.14"/>
<rect x="1063" y="997.4" width="1.6" height="5" fill="#2e64ff" opacity="0.25"/>
<rect x="1049.3" y="1062.4" width="1.6" height="4.8" fill="#2e64ff" opacity="0.35"/>
<rect x="929.7" y="1038.4" width="1.6" height="7.9" fill="#2e64ff" opacity="0.20"/>
<rect x="1045.7" y="1085.4" width="1.6" height="2.5" fill="#2e64ff" opacity="0.31"/>
<rect x="1019.1" y="1035.1" width="1.6" height="6.7" fill="#2e64ff" opacity="0.33"/>
<rect x="802.8" y="1028.7" width="1.6" height="5.7" fill="#2e64ff" opacity="0.29"/>
<rect x="1150.4" y="1066.9" width="1.6" height="7" fill="#2e64ff" opacity="0.14"/>
<rect x="922.6" y="1080.2" width="1.6" height="7.7" fill="#2e64ff" opacity="0.31"/>
<rect x="882.9" y="1062.9" width="1.6" height="5.2" fill="#2e64ff" opacity="0.29"/>
<rect x="1013" y="1074.4" width="1.6" height="6.3" fill="#2e64ff" opacity="0.36"/>
<rect x="951.3" y="1029.6" width="1.6" height="5.9" fill="#2e64ff" opacity="0.26"/>
<rect x="761" y="1085.8" width="1.6" height="3.9" fill="#2e64ff" opacity="0.24"/>
<rect x="758.1" y="993" width="1.6" height="7.6" fill="#2e64ff" opacity="0.19"/>
<rect x="867.9" y="1068" width="1.6" height="3.4" fill="#2e64ff" opacity="0.29"/>
<rect x="983.4" y="1078.2" width="1.6" height="4.9" fill="#2e64ff" opacity="0.20"/>
<rect x="850.9" y="1013.9" width="1.6" height="2" fill="#2e64ff" opacity="0.15"/>
<rect x="803.7" y="1008" width="1.6" height="6.6" fill="#2e64ff" opacity="0.36"/>
<rect x="891.7" y="1000.2" width="1.6" height="3.8" fill="#2e64ff" opacity="0.28"/>
<rect x="945" y="984.2" width="1.6" height="5.1" fill="#2e64ff" opacity="0.19"/>
<rect x="801.7" y="1064.8" width="1.6" height="2.6" fill="#2e64ff" opacity="0.23"/>
<rect x="1068" y="1035.5" width="1.6" height="7.2" fill="#2e64ff" opacity="0.20"/>
<rect x="1145.2" y="975.3" width="1.6" height="7.4" fill="#2e64ff" opacity="0.23"/>
<rect x="741.3" y="1001.3" width="1.6" height="7.9" fill="#2e64ff" opacity="0.30"/>
<rect x="1055.7" y="1067.9" width="1.6" height="2" fill="#2e64ff" opacity="0.20"/>
<rect x="939.4" y="1079.7" width="1.6" height="7.4" fill="#2e64ff" opacity="0.16"/>
<rect x="1162.8" y="1036.9" width="1.6" height="3.8" fill="#2e64ff" opacity="0.14"/>
<rect x="1374.3" y="1032.8" width="1.6" height="4.7" fill="#2e64ff" opacity="0.20"/>
<rect x="1491.5" y="1027.4" width="1.6" height="3.8" fill="#2e64ff" opacity="0.31"/>
<rect x="1333.3" y="1021" width="1.6" height="2.6" fill="#2e64ff" opacity="0.18"/>
<rect x="1502.5" y="1045" width="1.6" height="5.1" fill="#2e64ff" opacity="0.29"/>
<rect x="1429.5" y="1032.9" width="1.6" height="4.2" fill="#2e64ff" opacity="0.16"/>
<rect x="1285" y="984.6" width="1.6" height="4.4" fill="#2e64ff" opacity="0.12"/>
<rect x="1430.1" y="1010.7" width="1.6" height="3.4" fill="#2e64ff" opacity="0.20"/>
<rect x="1389.2" y="995.3" width="1.6" height="7.1" fill="#2e64ff" opacity="0.24"/>
<rect x="1293.8" y="980.3" width="1.6" height="7.3" fill="#2e64ff" opacity="0.26"/>
<rect x="1343.9" y="1056.1" width="1.6" height="2.3" fill="#2e64ff" opacity="0.34"/>
<rect x="1488.9" y="1050.2" width="1.6" height="2.3" fill="#2e64ff" opacity="0.23"/>
<rect x="1466.5" y="1041.6" width="1.6" height="3.3" fill="#2e64ff" opacity="0.18"/>
<rect x="1292.7" y="1033" width="1.6" height="3.1" fill="#2e64ff" opacity="0.23"/>
<rect x="1479.7" y="1078.7" width="1.6" height="5" fill="#2e64ff" opacity="0.32"/>
<rect x="1308.5" y="1084.4" width="1.6" height="7.2" fill="#2e64ff" opacity="0.24"/>
<rect x="1477.6" y="1005.9" width="1.6" height="7.9" fill="#2e64ff" opacity="0.20"/>
<rect x="1486.2" y="1071" width="1.6" height="7.6" fill="#2e64ff" opacity="0.30"/>
<rect x="1294.9" y="1003.7" width="1.6" height="5.9" fill="#2e64ff" opacity="0.35"/>
<rect x="1431.5" y="974.7" width="1.6" height="4.1" fill="#2e64ff" opacity="0.21"/>
<rect x="1316.9" y="997.2" width="1.6" height="5.1" fill="#2e64ff" opacity="0.21"/>
<rect x="1338.4" y="1019.7" width="1.6" height="7.7" fill="#2e64ff" opacity="0.27"/>
<rect x="1447.4" y="1082.6" width="1.6" height="2.2" fill="#2e64ff" opacity="0.34"/>
<rect x="1299.8" y="993.7" width="1.6" height="6.4" fill="#2e64ff" opacity="0.31"/>
<rect x="1416.6" y="1027.5" width="1.6" height="6.3" fill="#2e64ff" opacity="0.23"/>
<rect x="1322.1" y="996.5" width="1.6" height="2.7" fill="#2e64ff" opacity="0.13"/>
<rect x="1492.4" y="1084.7" width="1.6" height="4.1" fill="#2e64ff" opacity="0.22"/>
<rect x="1341.1" y="1064.3" width="1.6" height="5" fill="#2e64ff" opacity="0.16"/>
<rect x="1477.2" y="1082.1" width="1.6" height="2.3" fill="#2e64ff" opacity="0.23"/>
<rect x="1328.1" y="1047.1" width="1.6" height="4.2" fill="#2e64ff" opacity="0.19"/>
<rect x="1346.4" y="1043.3" width="1.6" height="5" fill="#2e64ff" opacity="0.24"/>
<rect x="1431.4" y="1027.1" width="1.6" height="7.7" fill="#2e64ff" opacity="0.23"/>
<rect x="1456.4" y="1082.3" width="1.6" height="5.7" fill="#2e64ff" opacity="0.27"/>
<rect x="1455.9" y="1055.9" width="1.6" height="3.2" fill="#2e64ff" opacity="0.22"/>
<rect x="1313.7" y="972.5" width="1.6" height="6.1" fill="#2e64ff" opacity="0.20"/>
<rect x="1335.7" y="973.1" width="1.6" height="2.1" fill="#2e64ff" opacity="0.29"/>
<rect x="1358.8" y="1022.6" width="1.6" height="6.1" fill="#2e64ff" opacity="0.35"/>
<rect x="1436" y="996.5" width="1.6" height="7.9" fill="#2e64ff" opacity="0.17"/>
<rect x="1409" y="1047.7" width="1.6" height="3.7" fill="#2e64ff" opacity="0.34"/>
<rect x="1415.5" y="1055.7" width="1.6" height="2.8" fill="#2e64ff" opacity="0.33"/>
<rect x="1343" y="1044.6" width="1.6" height="6.4" fill="#2e64ff" opacity="0.20"/>
<rect x="1338" y="1009.9" width="1.6" height="7.9" fill="#2e64ff" opacity="0.28"/>
<rect x="1384.3" y="1037.8" width="1.6" height="5.9" fill="#2e64ff" opacity="0.19"/>
<rect x="1295.5" y="983.2" width="1.6" height="5.5" fill="#2e64ff" opacity="0.27"/>
<rect x="1498.2" y="1044.9" width="1.6" height="7.1" fill="#2e64ff" opacity="0.37"/>
<rect x="1390" y="1020.9" width="1.6" height="4.8" fill="#2e64ff" opacity="0.21"/>
<rect x="1449.3" y="1039.4" width="1.6" height="2.7" fill="#2e64ff" opacity="0.36"/>
<rect x="1396.7" y="1060.4" width="1.6" height="5.3" fill="#2e64ff" opacity="0.27"/>
<rect x="1407.9" y="983.8" width="1.6" height="2.8" fill="#2e64ff" opacity="0.30"/>
<rect x="1357" y="985.5" width="1.6" height="6.9" fill="#2e64ff" opacity="0.31"/>
<rect x="1450.1" y="1016.7" width="1.6" height="2.8" fill="#2e64ff" opacity="0.31"/>
<rect x="1326.9" y="1050.6" width="1.6" height="6.2" fill="#2e64ff" opacity="0.19"/>
<rect x="1278.9" y="1041.3" width="1.6" height="6.7" fill="#2e64ff" opacity="0.27"/>
<rect x="1499.7" y="997.6" width="1.6" height="6.4" fill="#2e64ff" opacity="0.23"/>
<rect x="1408.8" y="1006.5" width="1.6" height="3.4" fill="#2e64ff" opacity="0.26"/>
<rect x="1415" y="1079.8" width="1.6" height="5.6" fill="#2e64ff" opacity="0.24"/>
<rect x="1424.7" y="1045.8" width="1.6" height="4.4" fill="#2e64ff" opacity="0.19"/>
<rect x="1431.8" y="1016.7" width="1.6" height="2.2" fill="#2e64ff" opacity="0.16"/>
<rect x="1359.1" y="1052.9" width="1.6" height="5.9" fill="#2e64ff" opacity="0.24"/>
<rect x="1461.9" y="1009.4" width="1.6" height="4.1" fill="#2e64ff" opacity="0.31"/>
<rect x="1431.1" y="1021.4" width="1.6" height="7.3" fill="#2e64ff" opacity="0.13"/>
<rect x="1399" y="1073.6" width="1.6" height="7.3" fill="#2e64ff" opacity="0.17"/>
<rect x="1459.9" y="1034.3" width="1.6" height="7.6" fill="#2e64ff" opacity="0.20"/>
<rect x="1427.8" y="1047.5" width="1.6" height="7.9" fill="#2e64ff" opacity="0.20"/>
<rect x="1366" y="985.1" width="1.6" height="6.1" fill="#2e64ff" opacity="0.14"/>
<rect x="1469.3" y="987.6" width="1.6" height="3.1" fill="#2e64ff" opacity="0.36"/>
<rect x="1390.5" y="1061.1" width="1.6" height="4.1" fill="#2e64ff" opacity="0.18"/>
<rect x="1361.2" y="1088.6" width="1.6" height="3.2" fill="#2e64ff" opacity="0.35"/>
<rect x="1476.9" y="1052.1" width="1.6" height="3.6" fill="#2e64ff" opacity="0.30"/>
<rect x="1481.9" y="1041.6" width="1.6" height="3.3" fill="#2e64ff" opacity="0.27"/>
<rect x="1493.4" y="1041.3" width="1.6" height="2.9" fill="#2e64ff" opacity="0.17"/>
<rect x="1420.1" y="975.8" width="1.6" height="2" fill="#2e64ff" opacity="0.21"/>
<rect x="1336.3" y="1029.6" width="1.6" height="2.4" fill="#2e64ff" opacity="0.26"/>
<rect x="1430.3" y="1008.3" width="1.6" height="5.5" fill="#2e64ff" opacity="0.25"/>
<rect x="1455.8" y="1039.6" width="1.6" height="5.8" fill="#2e64ff" opacity="0.26"/>
<rect x="1463.4" y="981.6" width="1.6" height="2.7" fill="#2e64ff" opacity="0.34"/>
<rect x="1465.9" y="971" width="1.6" height="7.4" fill="#2e64ff" opacity="0.27"/>
<rect x="1470.8" y="1054.6" width="1.6" height="4.3" fill="#2e64ff" opacity="0.15"/>
<rect x="1450.3" y="1055.7" width="1.6" height="4.8" fill="#2e64ff" opacity="0.19"/>
<rect x="1360.3" y="1083" width="1.6" height="4.8" fill="#2e64ff" opacity="0.17"/>
<rect x="1500.1" y="1088.1" width="1.6" height="3.1" fill="#2e64ff" opacity="0.17"/>
<rect x="1442.4" y="1016.7" width="1.6" height="4.8" fill="#2e64ff" opacity="0.29"/>
<rect x="1339.8" y="1041.7" width="1.6" height="3.2" fill="#2e64ff" opacity="0.18"/>
<rect x="1401" y="1021.6" width="1.6" height="7.4" fill="#2e64ff" opacity="0.16"/>
<rect x="1484.4" y="1001.6" width="1.6" height="4.1" fill="#2e64ff" opacity="0.15"/>
<rect x="1349.5" y="1088.4" width="1.6" height="4.2" fill="#2e64ff" opacity="0.33"/>
<rect x="1497.9" y="1054" width="1.6" height="3.1" fill="#2e64ff" opacity="0.23"/>
<rect x="1316" y="1000.1" width="1.6" height="4" fill="#2e64ff" opacity="0.16"/>
<rect x="1431.2" y="1033.1" width="1.6" height="3.7" fill="#2e64ff" opacity="0.18"/>
<rect x="1310.4" y="983.8" width="1.6" height="4.6" fill="#2e64ff" opacity="0.14"/>
<rect x="1395.9" y="1000.8" width="1.6" height="6.6" fill="#2e64ff" opacity="0.19"/>
<rect x="1470.8" y="1084.1" width="1.6" height="7.6" fill="#2e64ff" opacity="0.18"/>
<rect x="1487.2" y="1026.9" width="1.6" height="7.3" fill="#2e64ff" opacity="0.24"/>
<rect x="1400" y="1001.2" width="1.6" height="6.5" fill="#2e64ff" opacity="0.21"/>
<rect x="1477.1" y="1055.4" width="1.6" height="4.6" fill="#2e64ff" opacity="0.13"/>
<rect x="1338.8" y="1020.4" width="1.6" height="4.2" fill="#2e64ff" opacity="0.27"/>
<rect x="1279.6" y="1026.4" width="1.6" height="7.4" fill="#2e64ff" opacity="0.36"/>
<rect x="1433.2" y="1052.9" width="1.6" height="5.6" fill="#2e64ff" opacity="0.37"/>
<rect x="1456" y="1025.5" width="1.6" height="5" fill="#2e64ff" opacity="0.35"/>
<rect x="1402.4" y="1042.2" width="1.6" height="3.8" fill="#2e64ff" opacity="0.29"/>
<rect x="1388.2" y="1083.9" width="1.6" height="8" fill="#2e64ff" opacity="0.37"/>
<rect x="1492.1" y="975.3" width="1.6" height="2.4" fill="#2e64ff" opacity="0.20"/>
<rect x="1464.3" y="1037.4" width="1.6" height="3.5" fill="#2e64ff" opacity="0.15"/>
<rect x="1334.6" y="985.4" width="1.6" height="2.9" fill="#2e64ff" opacity="0.31"/>
<rect x="1321.8" y="990.1" width="1.6" height="5.7" fill="#2e64ff" opacity="0.15"/>
<rect x="1465.7" y="1048.5" width="1.6" height="7.3" fill="#2e64ff" opacity="0.30"/>
<rect x="1442.6" y="1002.3" width="1.6" height="4.5" fill="#2e64ff" opacity="0.21"/>
<rect x="1366.5" y="1080.1" width="1.6" height="4.6" fill="#2e64ff" opacity="0.32"/>
<rect x="1420.2" y="980" width="1.6" height="3.3" fill="#2e64ff" opacity="0.26"/>
<rect x="1455.8" y="998.1" width="1.6" height="3.5" fill="#2e64ff" opacity="0.21"/>
<rect x="1381.6" y="1020.7" width="1.6" height="7.5" fill="#2e64ff" opacity="0.27"/>
<rect x="1340.9" y="1011.5" width="1.6" height="5" fill="#2e64ff" opacity="0.16"/>
<rect x="1366.5" y="977.8" width="1.6" height="5.9" fill="#2e64ff" opacity="0.34"/>
<rect x="1480.4" y="1042.1" width="1.6" height="4.3" fill="#2e64ff" opacity="0.26"/>
<rect x="1403.3" y="991.3" width="1.6" height="5.2" fill="#2e64ff" opacity="0.24"/>
<rect x="1322.8" y="1023.4" width="1.6" height="7" fill="#2e64ff" opacity="0.28"/>
<rect x="1352.4" y="998.8" width="1.6" height="5.8" fill="#2e64ff" opacity="0.26"/>
<rect x="1345.4" y="1026.9" width="1.6" height="4.4" fill="#2e64ff" opacity="0.28"/>
<rect x="1475.9" y="1015" width="1.6" height="5.2" fill="#2e64ff" opacity="0.26"/>
<rect x="1428.4" y="999.4" width="1.6" height="3.5" fill="#2e64ff" opacity="0.35"/>
<rect x="1311.1" y="1052.2" width="1.6" height="3.6" fill="#2e64ff" opacity="0.24"/>
<rect x="1379.9" y="998.9" width="1.6" height="3.1" fill="#2e64ff" opacity="0.36"/>
<rect x="1287.1" y="987.2" width="1.6" height="6.4" fill="#2e64ff" opacity="0.21"/>
<rect x="1322.3" y="1063.7" width="1.6" height="7.9" fill="#2e64ff" opacity="0.17"/>
<rect x="1437.3" y="1017.9" width="1.6" height="8" fill="#2e64ff" opacity="0.27"/>
<rect x="1479.6" y="1050" width="1.6" height="2.8" fill="#2e64ff" opacity="0.23"/>
<rect x="1437" y="988.5" width="1.6" height="2.5" fill="#2e64ff" opacity="0.37"/>
<rect x="1486" y="1048.5" width="1.6" height="2.4" fill="#2e64ff" opacity="0.30"/>
<rect x="1500.7" y="1064.4" width="1.6" height="6.3" fill="#2e64ff" opacity="0.23"/>
<rect x="1420.5" y="1081.8" width="1.6" height="5" fill="#2e64ff" opacity="0.14"/>
<rect x="1311" y="1084.9" width="1.6" height="6.3" fill="#2e64ff" opacity="0.35"/>
<rect x="1311.7" y="982.7" width="1.6" height="6.1" fill="#2e64ff" opacity="0.23"/>
<rect x="1382.5" y="998.1" width="1.6" height="6.6" fill="#2e64ff" opacity="0.32"/>
<rect x="1441.6" y="1021.9" width="1.6" height="4.9" fill="#2e64ff" opacity="0.22"/>
<rect x="1383" y="1009.3" width="1.6" height="4.8" fill="#2e64ff" opacity="0.36"/>
<rect x="1458.6" y="986.3" width="1.6" height="6" fill="#2e64ff" opacity="0.32"/>
<rect x="1355.9" y="1077.3" width="1.6" height="7.6" fill="#2e64ff" opacity="0.14"/>
<rect x="1418.9" y="1015.9" width="1.6" height="4.8" fill="#2e64ff" opacity="0.26"/>
<rect x="1471.6" y="1046.1" width="1.6" height="7.3" fill="#2e64ff" opacity="0.18"/>
<rect x="1457.5" y="1017.3" width="1.6" height="3.1" fill="#2e64ff" opacity="0.32"/>
<rect x="1408.2" y="997.2" width="1.6" height="7.4" fill="#2e64ff" opacity="0.24"/>
<rect x="1429.9" y="1088.9" width="1.6" height="4" fill="#2e64ff" opacity="0.26"/>
<rect x="1401.2" y="1004.4" width="1.6" height="5.2" fill="#2e64ff" opacity="0.36"/>
<rect x="1435.2" y="1002" width="1.6" height="6.1" fill="#2e64ff" opacity="0.27"/>
<rect x="1361.3" y="1051" width="1.6" height="4.3" fill="#2e64ff" opacity="0.32"/>
<rect x="1365.6" y="1069.5" width="1.6" height="3.8" fill="#2e64ff" opacity="0.16"/>
<rect x="1352.4" y="985.2" width="1.6" height="7.2" fill="#2e64ff" opacity="0.37"/>
<rect x="1372" y="999" width="1.6" height="7.3" fill="#2e64ff" opacity="0.33"/>
<rect x="1333.3" y="1006.9" width="1.6" height="5" fill="#2e64ff" opacity="0.15"/>
<rect x="1325.8" y="1018" width="1.6" height="2.7" fill="#2e64ff" opacity="0.16"/>
<rect x="1414.3" y="1006.3" width="1.6" height="7.5" fill="#2e64ff" opacity="0.36"/>
<rect x="1429" y="1003.2" width="1.6" height="6.6" fill="#2e64ff" opacity="0.20"/>
<rect x="1474" y="1021.1" width="1.6" height="6.2" fill="#2e64ff" opacity="0.31"/>
<rect x="1436.3" y="1060.8" width="1.6" height="4.1" fill="#2e64ff" opacity="0.16"/>
<rect x="1361.2" y="1085.7" width="1.6" height="2.2" fill="#2e64ff" opacity="0.19"/>
<rect x="1348" y="1023.1" width="1.6" height="7.2" fill="#2e64ff" opacity="0.16"/>
<rect x="1301.8" y="972.1" width="1.6" height="4" fill="#2e64ff" opacity="0.30"/>
<rect x="1380.2" y="1048" width="1.6" height="5.1" fill="#2e64ff" opacity="0.21"/>
<rect x="1370" y="974.9" width="1.6" height="7.7" fill="#2e64ff" opacity="0.30"/>
<rect x="1300.3" y="994.5" width="1.6" height="6.7" fill="#2e64ff" opacity="0.25"/>
<rect x="1446.7" y="1060.7" width="1.6" height="2.9" fill="#2e64ff" opacity="0.33"/>
<rect x="1323.6" y="986.7" width="1.6" height="6.5" fill="#2e64ff" opacity="0.32"/>
<rect x="1346.5" y="1016.5" width="1.6" height="6.4" fill="#2e64ff" opacity="0.19"/>
<rect x="1378.4" y="1089.8" width="1.6" height="2.8" fill="#2e64ff" opacity="0.36"/>
<rect x="1477.8" y="1090.3" width="1.6" height="3.5" fill="#2e64ff" opacity="0.17"/>
<rect x="1376.8" y="990.6" width="1.6" height="7.5" fill="#2e64ff" opacity="0.26"/>
<rect x="1467.7" y="1029.3" width="1.6" height="5" fill="#2e64ff" opacity="0.36"/>
<rect x="1306.5" y="997.2" width="1.6" height="7.1" fill="#2e64ff" opacity="0.27"/>
<rect x="1454.2" y="1090.1" width="1.6" height="6.6" fill="#2e64ff" opacity="0.27"/>
<rect x="1447.3" y="1034.2" width="1.6" height="3.3" fill="#2e64ff" opacity="0.20"/>
<rect x="1486.3" y="1033.5" width="1.6" height="2.2" fill="#2e64ff" opacity="0.28"/>
<rect x="1501.8" y="1045.6" width="1.6" height="5" fill="#2e64ff" opacity="0.23"/>
<rect x="1420.2" y="1044.2" width="1.6" height="4.9" fill="#2e64ff" opacity="0.35"/>
<rect x="1477.8" y="1064.4" width="1.6" height="6.4" fill="#2e64ff" opacity="0.30"/>
<rect x="1322.8" y="1029.2" width="1.6" height="3.6" fill="#2e64ff" opacity="0.17"/>
<rect x="1492" y="997.9" width="1.6" height="6.9" fill="#2e64ff" opacity="0.33"/>
<rect x="1369.4" y="973" width="1.6" height="3.1" fill="#2e64ff" opacity="0.28"/>
<rect x="1437.9" y="1012.8" width="1.6" height="5.6" fill="#2e64ff" opacity="0.16"/>
<rect x="1426.3" y="1064.4" width="1.6" height="6.7" fill="#2e64ff" opacity="0.26"/>
<rect x="1407.3" y="970.3" width="1.6" height="3.6" fill="#2e64ff" opacity="0.22"/>
<rect x="1294.7" y="978.9" width="1.6" height="7.7" fill="#2e64ff" opacity="0.29"/>
<rect x="1404.8" y="1053.2" width="1.6" height="7.2" fill="#2e64ff" opacity="0.28"/>
<rect x="1374.4" y="1017.4" width="1.6" height="7.8" fill="#2e64ff" opacity="0.36"/>
<rect x="1312.5" y="1068.8" width="1.6" height="5.9" fill="#2e64ff" opacity="0.21"/>
<rect x="1434.5" y="1003.1" width="1.6" height="6.5" fill="#2e64ff" opacity="0.26"/>
<rect x="1409.9" y="976.8" width="1.6" height="7.4" fill="#2e64ff" opacity="0.36"/>
<rect x="1449.5" y="1005.4" width="1.6" height="6.3" fill="#2e64ff" opacity="0.15"/>
<rect x="1401.3" y="1011.7" width="1.6" height="4.8" fill="#2e64ff" opacity="0.19"/>
<rect x="1294.3" y="1022.5" width="1.6" height="3.4" fill="#2e64ff" opacity="0.16"/>
<rect x="1352.9" y="985" width="1.6" height="2.1" fill="#2e64ff" opacity="0.36"/>
<rect x="1290.8" y="1077.8" width="1.6" height="4.5" fill="#2e64ff" opacity="0.15"/>
<rect x="1374.8" y="1031.2" width="1.6" height="2.3" fill="#2e64ff" opacity="0.26"/>
<rect x="1280.1" y="1006" width="1.6" height="6.3" fill="#2e64ff" opacity="0.33"/>
<rect x="1318.4" y="1019.1" width="1.6" height="7.7" fill="#2e64ff" opacity="0.20"/>
<rect x="1304.9" y="999.8" width="1.6" height="7.2" fill="#2e64ff" opacity="0.21"/>
<rect x="1428" y="1083.2" width="1.6" height="5.7" fill="#2e64ff" opacity="0.17"/>
<rect x="1386.5" y="1009.3" width="1.6" height="4.9" fill="#2e64ff" opacity="0.27"/>
<rect x="1497.8" y="1053.1" width="1.6" height="5.1" fill="#2e64ff" opacity="0.32"/>
<rect x="1392.4" y="993.3" width="1.6" height="6" fill="#2e64ff" opacity="0.19"/>
<rect x="1326.1" y="1016.9" width="1.6" height="4.9" fill="#2e64ff" opacity="0.13"/>
<rect x="1359.5" y="1086" width="1.6" height="5.1" fill="#2e64ff" opacity="0.21"/>
<rect x="1381.1" y="1054.3" width="1.6" height="5" fill="#2e64ff" opacity="0.22"/>
<rect x="1408.9" y="1003.2" width="1.6" height="6.1" fill="#2e64ff" opacity="0.23"/>
<rect x="1437" y="1012" width="1.6" height="5.8" fill="#2e64ff" opacity="0.17"/>
<rect x="1387.5" y="1029.4" width="1.6" height="2.1" fill="#2e64ff" opacity="0.15"/>
<rect x="1381.9" y="1062.4" width="1.6" height="6.9" fill="#2e64ff" opacity="0.33"/>
<rect x="1459.6" y="1086.7" width="1.6" height="3.2" fill="#2e64ff" opacity="0.16"/>
<rect x="1309.6" y="1065.7" width="1.6" height="3.1" fill="#2e64ff" opacity="0.20"/>
<rect x="1309.5" y="1079.7" width="1.6" height="3.3" fill="#2e64ff" opacity="0.18"/>
<rect x="1412" y="1054.9" width="1.6" height="2.2" fill="#2e64ff" opacity="0.26"/>
<rect x="1397.5" y="1036.9" width="1.6" height="5.1" fill="#2e64ff" opacity="0.32"/>
<rect x="1463.3" y="1073.9" width="1.6" height="4" fill="#2e64ff" opacity="0.13"/>
<rect x="1384.2" y="973.2" width="1.6" height="5.8" fill="#2e64ff" opacity="0.24"/>
<rect x="1446.3" y="1070.6" width="1.6" height="6.4" fill="#2e64ff" opacity="0.29"/>
<rect x="1353.2" y="1057.6" width="1.6" height="5.8" fill="#2e64ff" opacity="0.17"/>
<rect x="1473.8" y="1027.1" width="1.6" height="5.2" fill="#2e64ff" opacity="0.17"/>
<rect x="1465.2" y="1027.2" width="1.6" height="6.5" fill="#2e64ff" opacity="0.33"/>
<rect x="1395.1" y="1040.6" width="1.6" height="4.8" fill="#2e64ff" opacity="0.18"/>
<rect x="1458" y="1081.1" width="1.6" height="2.2" fill="#2e64ff" opacity="0.13"/>
<rect x="1384" y="979.6" width="1.6" height="4.6" fill="#2e64ff" opacity="0.21"/>
<rect x="1332.6" y="1063.6" width="1.6" height="5.5" fill="#2e64ff" opacity="0.35"/>
<rect x="1322.1" y="1015.9" width="1.6" height="5.7" fill="#2e64ff" opacity="0.31"/>
<rect x="1374.6" y="992.5" width="1.6" height="4.3" fill="#2e64ff" opacity="0.26"/>
<rect x="1495.8" y="1048.6" width="1.6" height="7.1" fill="#2e64ff" opacity="0.33"/>
<rect x="1374.8" y="1031.1" width="1.6" height="7" fill="#2e64ff" opacity="0.30"/>
<rect x="1368.2" y="992.8" width="1.6" height="6.4" fill="#2e64ff" opacity="0.19"/>
<rect x="1337.9" y="1000.3" width="1.6" height="6.1" fill="#2e64ff" opacity="0.28"/>
<rect x="977" y="984.5" width="20.9" height="1.3" fill="#3f88ff" opacity="0.45"/>
<rect x="1003.2" y="984.5" width="6.5" height="1.3" fill="#3f88ff" opacity="0.60"/>
<rect x="1011.7" y="984.5" width="6.7" height="1.3" fill="#3f88ff" opacity="0.31"/>
<rect x="1039.2" y="984.5" width="4.5" height="1.3" fill="#3f88ff" opacity="0.38"/>
<rect x="1045.3" y="984.5" width="4.5" height="1.3" fill="#3f88ff" opacity="0.40"/>
<rect x="1074.9" y="984.5" width="13.7" height="1.3" fill="#3f88ff" opacity="0.57"/>
<rect x="1094.2" y="984.5" width="14.3" height="1.3" fill="#3f88ff" opacity="0.41"/>
<rect x="1112.7" y="984.5" width="14.2" height="1.3" fill="#3f88ff" opacity="0.42"/>
<rect x="1140.8" y="984.5" width="12.4" height="1.3" fill="#3f88ff" opacity="0.51"/>
<rect x="1067" y="998" width="5.4" height="1.3" fill="#3f88ff" opacity="0.52"/>
<rect x="1086" y="998" width="11.3" height="1.3" fill="#3f88ff" opacity="0.39"/>
<rect x="1127.1" y="998" width="11.3" height="1.3" fill="#3f88ff" opacity="0.40"/>
<rect x="1140.6" y="998" width="5" height="1.3" fill="#3f88ff" opacity="0.57"/>
<rect x="1151" y="998" width="6.4" height="1.3" fill="#3f88ff" opacity="0.59"/>
<rect x="865" y="1015" width="9.4" height="1.3" fill="#3f88ff" opacity="0.42"/>
<rect x="887.4" y="1015" width="12.8" height="1.3" fill="#3f88ff" opacity="0.63"/>
<rect x="905.6" y="1015" width="19.7" height="1.3" fill="#3f88ff" opacity="0.40"/>
<rect x="865" y="1025" width="20.1" height="1.3" fill="#3f88ff" opacity="0.44"/>
<rect x="888" y="1025" width="8.3" height="1.3" fill="#3f88ff" opacity="0.36"/>
<rect x="897.3" y="1025" width="13.8" height="1.3" fill="#3f88ff" opacity="0.42"/>
<rect x="913.1" y="1025" width="15.1" height="1.3" fill="#3f88ff" opacity="0.38"/>
<rect x="929.6" y="1025" width="18.1" height="1.3" fill="#3f88ff" opacity="0.32"/>
<rect x="948.2" y="1025" width="9.4" height="1.3" fill="#3f88ff" opacity="0.31"/>
<rect x="958.3" y="1025" width="20.1" height="1.3" fill="#3f88ff" opacity="0.30"/>
<rect x="1005.4" y="1025" width="13.8" height="1.3" fill="#3f88ff" opacity="0.38"/>
<rect x="1041.3" y="1025" width="18.9" height="1.3" fill="#3f88ff" opacity="0.45"/>
<rect x="1062" y="1025" width="14.1" height="1.3" fill="#3f88ff" opacity="0.48"/>
<rect x="1118.8" y="1025" width="9" height="1.3" fill="#3f88ff" opacity="0.30"/>
<rect x="1132" y="1025" width="12.6" height="1.3" fill="#3f88ff" opacity="0.28"/>
<rect x="865" y="1040" width="19.3" height="2" fill="#3f88ff" opacity="0.72"/>
<rect x="898.4" y="1040" width="15.2" height="2" fill="#3f88ff" opacity="0.42"/>
<rect x="937.9" y="1040" width="20.2" height="2" fill="#3f88ff" opacity="0.76"/>
<rect x="962.2" y="1040" width="15.8" height="2" fill="#3f88ff" opacity="0.63"/>
<rect x="1033" y="1040" width="8" height="2" fill="#3f88ff" opacity="0.61"/>
<rect x="1046.3" y="1040" width="8.1" height="2" fill="#3f88ff" opacity="0.53"/>
<rect x="1056.2" y="1040" width="19.2" height="2" fill="#3f88ff" opacity="0.62"/>
<rect x="1085.4" y="1040" width="5.8" height="2" fill="#3f88ff" opacity="0.47"/>
<rect x="1099.7" y="1040" width="16.9" height="2" fill="#3f88ff" opacity="0.35"/>
<rect x="1296" y="983.2" width="8.5" height="1.3" fill="#3f88ff" opacity="0.66"/>
<rect x="1306.4" y="983.2" width="7.2" height="1.3" fill="#3f88ff" opacity="0.68"/>
<rect x="1315.7" y="983.2" width="14.1" height="1.3" fill="#3f88ff" opacity="0.62"/>
<rect x="1310" y="1009.2" width="12.5" height="1.3" fill="#3f88ff" opacity="0.70"/>
<rect x="1326" y="1009.2" width="16.8" height="1.3" fill="#3f88ff" opacity="0.56"/>
<rect x="1347.1" y="1009.2" width="3.9" height="1.3" fill="#3f88ff" opacity="0.50"/>
<rect x="1279.5" y="1025" width="19.5" height="1.3" fill="#3f88ff" opacity="0.52"/>
<rect x="1299.3" y="1025" width="20.6" height="1.3" fill="#3f88ff" opacity="0.52"/>
<rect x="1283" y="1039" width="5.7" height="1.3" fill="#3f88ff" opacity="0.53"/>
<rect x="1293.2" y="1039" width="5.2" height="1.3" fill="#3f88ff" opacity="0.57"/>
<rect x="740" y="1097.2" width="1.8" height="11.4" fill="#0921dd"/>
<rect x="740" y="1108.6" width="1.8" height="12.1" fill="#081dd3"/>
<rect x="743.5" y="1097.2" width="1.8" height="11.4" fill="#081bd0"/>
<rect x="743.5" y="1108.6" width="1.8" height="12.1" fill="#0718c9"/>
<rect x="745.2" y="1097.2" width="1.8" height="11.4" fill="#0a27e8"/>
<rect x="745.2" y="1108.6" width="1.8" height="12.1" fill="#0921dd"/>
<rect x="745.2" y="1063.9" width="1.8" height="33.3" fill="url(#q1)"/>
<rect x="748.8" y="1097.2" width="1.8" height="11.4" fill="#36eae7"/>
<rect x="748.8" y="1108.6" width="1.8" height="12.1" fill="#1db6ff"/>
<rect x="748.8" y="1033" width="1.8" height="64.2" fill="url(#q4)"/>
<rect x="748.8" y="1094.9" width="1.8" height="2.5" fill="#1cb0ff" opacity="0.91"/>
<rect x="748.8" y="1090" width="1.8" height="1.7" fill="#1678ff" opacity="0.79"/>
<rect x="748.8" y="1051.3" width="1.8" height="2.7" fill="#135cfc" opacity="0.75"/>
<rect x="748.8" y="1079.8" width="1.8" height="3.5" fill="#1db3ff" opacity="0.67"/>
<rect x="748.8" y="1093.3" width="1.8" height="2.2" fill="#125afc" opacity="0.85"/>
<rect x="750.5" y="1097.2" width="1.8" height="11.4" fill="#0b2fed"/>
<rect x="750.5" y="1108.6" width="1.8" height="12.1" fill="#0924e3"/>
<rect x="750.5" y="1066.6" width="1.8" height="30.6" fill="url(#q2)"/>
<rect x="752.2" y="1097.2" width="1.8" height="11.4" fill="#081fd8"/>
<rect x="752.2" y="1108.6" width="1.8" height="12.1" fill="#081bcf"/>
<rect x="754" y="1097.2" width="1.8" height="11.4" fill="#0921db"/>
<rect x="754" y="1108.6" width="1.8" height="12.1" fill="#081cd2"/>
<rect x="757.5" y="1097.2" width="1.8" height="11.4" fill="#0716c5"/>
<rect x="757.5" y="1108.6" width="1.8" height="12.1" fill="#0613c0"/>
<rect x="759.2" y="1097.2" width="1.8" height="11.4" fill="#0a28eb"/>
<rect x="759.2" y="1108.6" width="1.8" height="12.1" fill="#0922df"/>
<rect x="759.2" y="1075.7" width="1.8" height="21.5" fill="url(#q1)"/>
<rect x="762.8" y="1097.2" width="1.8" height="11.4" fill="#0923e1"/>
<rect x="762.8" y="1108.6" width="1.8" height="12.1" fill="#081ed7"/>
<rect x="768" y="1097.2" width="1.8" height="11.4" fill="#081fd7"/>
<rect x="768" y="1108.6" width="1.8" height="12.1" fill="#071bcf"/>
<rect x="775" y="1097.2" width="1.8" height="11.4" fill="#081dd4"/>
<rect x="775" y="1108.6" width="1.8" height="12.1" fill="#0719cc"/>
<rect x="776.8" y="1097.2" width="1.8" height="11.4" fill="#0717c7"/>
<rect x="776.8" y="1108.6" width="1.8" height="12.1" fill="#0614c2"/>
<rect x="782" y="1097.2" width="1.8" height="11.4" fill="#0c33ef"/>
<rect x="782" y="1108.6" width="1.8" height="12.1" fill="#0a26e6"/>
<rect x="782" y="1072.7" width="1.8" height="24.5" fill="url(#q2)"/>
<rect x="785.5" y="1097.2" width="1.8" height="11.4" fill="#081ed7"/>
<rect x="785.5" y="1108.6" width="1.8" height="12.1" fill="#071acf"/>
<rect x="787.2" y="1097.2" width="1.8" height="11.4" fill="#0a28eb"/>
<rect x="787.2" y="1108.6" width="1.8" height="12.1" fill="#0922df"/>
<rect x="787.2" y="1065" width="1.8" height="32.2" fill="url(#q1)"/>
<rect x="790.8" y="1097.2" width="1.8" height="11.4" fill="#081cd2"/>
<rect x="790.8" y="1108.6" width="1.8" height="12.1" fill="#0718ca"/>
<rect x="792.5" y="1097.2" width="1.8" height="11.4" fill="#0718ca"/>
<rect x="792.5" y="1108.6" width="1.8" height="12.1" fill="#0615c4"/>
<rect x="796" y="1097.2" width="1.8" height="11.4" fill="#081ed6"/>
<rect x="796" y="1108.6" width="1.8" height="12.1" fill="#071ace"/>
<rect x="803" y="1097.2" width="1.8" height="11.4" fill="#081ed6"/>
<rect x="803" y="1108.6" width="1.8" height="12.1" fill="#071acd"/>
<rect x="808.2" y="1097.2" width="1.8" height="11.4" fill="#0716c6"/>
<rect x="808.2" y="1108.6" width="1.8" height="12.1" fill="#0614c1"/>
<rect x="811.8" y="1097.2" width="1.8" height="11.4" fill="#0924e2"/>
<rect x="811.8" y="1108.6" width="1.8" height="12.1" fill="#081fd7"/>
<rect x="820.5" y="1097.2" width="1.8" height="11.4" fill="#0716c5"/>
<rect x="820.5" y="1108.6" width="1.8" height="12.1" fill="#0613c0"/>
<rect x="825.8" y="1097.2" width="1.8" height="11.4" fill="#0b2eed"/>
<rect x="825.8" y="1108.6" width="1.8" height="12.1" fill="#0924e3"/>
<rect x="825.8" y="1072.4" width="1.8" height="24.8" fill="url(#q2)"/>
<rect x="834.5" y="1097.2" width="1.8" height="11.4" fill="#0b2bec"/>
<rect x="834.5" y="1108.6" width="1.8" height="12.1" fill="#0923e1"/>
<rect x="834.5" y="1059.9" width="1.8" height="37.3" fill="url(#q2)"/>
<rect x="838" y="1097.2" width="1.8" height="11.4" fill="#0921dc"/>
<rect x="838" y="1108.6" width="1.8" height="12.1" fill="#081cd3"/>
<rect x="843.2" y="1097.2" width="1.8" height="11.4" fill="#0924e3"/>
<rect x="843.2" y="1108.6" width="1.8" height="12.1" fill="#081fd8"/>
<rect x="846.8" y="1097.2" width="1.8" height="11.4" fill="#0717c7"/>
<rect x="846.8" y="1108.6" width="1.8" height="12.1" fill="#0614c2"/>
<rect x="848.5" y="1097.2" width="1.8" height="11.4" fill="#0718ca"/>
<rect x="848.5" y="1108.6" width="1.8" height="12.1" fill="#0715c4"/>
<rect x="850.2" y="1097.2" width="1.8" height="11.4" fill="#071acd"/>
<rect x="850.2" y="1108.6" width="1.8" height="12.1" fill="#0716c6"/>
<rect x="855.5" y="1097.2" width="1.8" height="11.4" fill="#0717c6"/>
<rect x="855.5" y="1108.6" width="1.8" height="12.1" fill="#0614c1"/>
<rect x="859" y="1097.2" width="1.8" height="11.4" fill="#0715c4"/>
<rect x="859" y="1108.6" width="1.8" height="12.1" fill="#0613bf"/>
<rect x="860.8" y="1097.2" width="1.8" height="11.4" fill="#0a2aec"/>
<rect x="860.8" y="1108.6" width="1.8" height="12.1" fill="#0923e0"/>
<rect x="860.8" y="1075" width="1.8" height="22.2" fill="url(#q2)"/>
<rect x="862.5" y="1097.2" width="1.8" height="11.4" fill="#0a28ea"/>
<rect x="862.5" y="1108.6" width="1.8" height="12.1" fill="#0922de"/>
<rect x="862.5" y="1060.4" width="1.8" height="36.8" fill="url(#q1)"/>
<rect x="866" y="1097.2" width="1.8" height="11.4" fill="#081cd3"/>
<rect x="866" y="1108.6" width="1.8" height="12.1" fill="#0719cb"/>
<rect x="869.5" y="1097.2" width="1.8" height="11.4" fill="#1151f9"/>
<rect x="869.5" y="1108.6" width="1.8" height="12.1" fill="#0d39f1"/>
<rect x="869.5" y="1065.4" width="1.8" height="31.8" fill="url(#q2)"/>
<rect x="873" y="1097.2" width="1.8" height="11.4" fill="#0718ca"/>
<rect x="873" y="1108.6" width="1.8" height="12.1" fill="#0615c4"/>
<rect x="874.8" y="1097.2" width="1.8" height="11.4" fill="#0615c3"/>
<rect x="874.8" y="1108.6" width="1.8" height="12.1" fill="#0613be"/>
<rect x="876.5" y="1097.2" width="1.8" height="11.4" fill="#081cd2"/>
<rect x="876.5" y="1108.6" width="1.8" height="12.1" fill="#0718ca"/>
<rect x="880" y="1097.2" width="1.8" height="11.4" fill="#1360fe"/>
<rect x="880" y="1108.6" width="1.8" height="12.1" fill="#0f46f5"/>
<rect x="880" y="1057.8" width="1.8" height="39.4" fill="url(#q2)"/>
<rect x="883.5" y="1097.2" width="1.8" height="11.4" fill="#0b2cec"/>
<rect x="883.5" y="1108.6" width="1.8" height="12.1" fill="#0923e2"/>
<rect x="883.5" y="1074.6" width="1.8" height="22.6" fill="url(#q2)"/>
<rect x="885.2" y="1097.2" width="1.8" height="11.4" fill="#135efd"/>
<rect x="885.2" y="1108.6" width="1.8" height="12.1" fill="#0f44f4"/>
<rect x="885.2" y="1053.5" width="1.8" height="43.7" fill="url(#q2)"/>
<rect x="888.8" y="1097.2" width="1.8" height="11.4" fill="#0716c4"/>
<rect x="888.8" y="1108.6" width="1.8" height="12.1" fill="#0613bf"/>
<rect x="892.2" y="1097.2" width="1.8" height="11.4" fill="#0d38f0"/>
<rect x="892.2" y="1108.6" width="1.8" height="12.1" fill="#0a27e9"/>
<rect x="892.2" y="1057.6" width="1.8" height="39.6" fill="url(#q2)"/>
<rect x="894" y="1097.2" width="1.8" height="11.4" fill="#081ed6"/>
<rect x="894" y="1108.6" width="1.8" height="12.1" fill="#071acd"/>
<rect x="895.8" y="1097.2" width="1.8" height="11.4" fill="#1677ff"/>
<rect x="895.8" y="1108.6" width="1.8" height="12.1" fill="#1153f9"/>
<rect x="895.8" y="1056" width="1.8" height="41.2" fill="url(#q3)"/>
<rect x="895.8" y="1091.9" width="1.8" height="3.4" fill="#1154fa" opacity="0.73"/>
<rect x="895.8" y="1081.9" width="1.8" height="3.5" fill="#0920da" opacity="0.59"/>
<rect x="895.8" y="1084.1" width="1.8" height="1.8" fill="#0e40f3" opacity="0.69"/>
<rect x="895.8" y="1075.2" width="1.8" height="2.3" fill="#081fd9" opacity="0.70"/>
<rect x="897.5" y="1097.2" width="1.8" height="11.4" fill="#0a27e9"/>
<rect x="897.5" y="1108.6" width="1.8" height="12.1" fill="#0921dd"/>
<rect x="897.5" y="1065.2" width="1.8" height="32" fill="url(#q1)"/>
<rect x="899.2" y="1097.2" width="1.8" height="11.4" fill="#1467ff"/>
<rect x="899.2" y="1108.6" width="1.8" height="12.1" fill="#104bf7"/>
<rect x="899.2" y="1051.4" width="1.8" height="45.8" fill="url(#q3)"/>
<rect x="899.2" y="1070.7" width="1.8" height="2.9" fill="#0d39f1" opacity="0.87"/>
<rect x="899.2" y="1065.5" width="1.8" height="2.8" fill="#0a27e8" opacity="0.68"/>
<rect x="899.2" y="1092.8" width="1.8" height="3" fill="#0a2aec" opacity="0.58"/>
<rect x="899.2" y="1092.3" width="1.8" height="3.5" fill="#1155fa" opacity="0.69"/>
<rect x="901" y="1097.2" width="1.8" height="11.4" fill="#0f43f4"/>
<rect x="901" y="1108.6" width="1.8" height="12.1" fill="#0b2eed"/>
<rect x="901" y="1055.6" width="1.8" height="41.6" fill="url(#q2)"/>
<rect x="904.5" y="1097.2" width="1.8" height="11.4" fill="#1ebeff"/>
<rect x="904.5" y="1108.6" width="1.8" height="12.1" fill="#1885ff"/>
<rect x="904.5" y="1044.9" width="1.8" height="52.3" fill="url(#q3)"/>
<rect x="904.5" y="1094.8" width="1.8" height="3.2" fill="#0a27e9" opacity="0.81"/>
<rect x="904.5" y="1076.4" width="1.8" height="2.5" fill="#0b31ee" opacity="0.75"/>
<rect x="904.5" y="1064" width="1.8" height="3" fill="#198fff" opacity="0.62"/>
<rect x="904.5" y="1082.1" width="1.8" height="3.5" fill="#1361fe" opacity="0.94"/>
<rect x="906.2" y="1097.2" width="1.8" height="11.4" fill="#1154fa"/>
<rect x="906.2" y="1108.6" width="1.8" height="12.1" fill="#0d3cf2"/>
<rect x="906.2" y="1067.6" width="1.8" height="29.6" fill="url(#q2)"/>
<rect x="911.5" y="1097.2" width="1.8" height="11.4" fill="#0b2ded"/>
<rect x="911.5" y="1108.6" width="1.8" height="12.1" fill="#0924e2"/>
<rect x="911.5" y="1073.7" width="1.8" height="23.5" fill="url(#q2)"/>
<rect x="913.2" y="1097.2" width="1.8" height="11.4" fill="#0e42f4"/>
<rect x="913.2" y="1108.6" width="1.8" height="12.1" fill="#0b2ded"/>
<rect x="913.2" y="1061.7" width="1.8" height="35.5" fill="url(#q2)"/>
<rect x="915" y="1097.2" width="1.8" height="11.4" fill="#36eae7"/>
<rect x="915" y="1108.6" width="1.8" height="12.1" fill="#1db6ff"/>
<rect x="915" y="1033.6" width="1.8" height="63.6" fill="url(#q4)"/>
<rect x="915" y="1089.8" width="1.8" height="2.8" fill="#1ba2ff" opacity="0.77"/>
<rect x="915" y="1073.9" width="1.8" height="1.8" fill="#0c36f0" opacity="0.83"/>
<rect x="915" y="1068.7" width="1.8" height="3.3" fill="#156eff" opacity="0.70"/>
<rect x="915" y="1083.7" width="1.8" height="3.2" fill="#1cb0ff" opacity="0.64"/>
<rect x="915" y="1078.2" width="1.8" height="2.7" fill="#1571ff" opacity="0.58"/>
<rect x="916.8" y="1097.2" width="1.8" height="11.4" fill="#36eae7"/>
<rect x="916.8" y="1108.6" width="1.8" height="12.1" fill="#1db6ff"/>
<rect x="916.8" y="1044.8" width="1.8" height="52.4" fill="url(#q4)"/>
<rect x="916.8" y="1087.9" width="1.8" height="2.2" fill="#1cacff" opacity="0.79"/>
<rect x="916.8" y="1074.9" width="1.8" height="2" fill="#177eff" opacity="0.69"/>
<rect x="916.8" y="1093.8" width="1.8" height="1.7" fill="#1ebfff" opacity="0.60"/>
<rect x="916.8" y="1090.7" width="1.8" height="2.8" fill="#156cff" opacity="0.79"/>
<rect x="916.8" y="1081.4" width="1.8" height="1.7" fill="#20c2fd" opacity="0.89"/>
<rect x="923.8" y="1097.2" width="1.8" height="11.4" fill="#0719cb"/>
<rect x="923.8" y="1108.6" width="1.8" height="12.1" fill="#0716c5"/>
<rect x="925.5" y="1097.2" width="1.8" height="11.4" fill="#0d3bf1"/>
<rect x="925.5" y="1108.6" width="1.8" height="12.1" fill="#0a28ea"/>
<rect x="925.5" y="1063.5" width="1.8" height="33.7" fill="url(#q2)"/>
<rect x="927.2" y="1097.2" width="1.8" height="11.4" fill="#1672ff"/>
<rect x="927.2" y="1108.6" width="1.8" height="12.1" fill="#1151f9"/>
<rect x="927.2" y="1061" width="1.8" height="36.2" fill="url(#q3)"/>
<rect x="927.2" y="1080.3" width="1.8" height="2.7" fill="#0d3cf2" opacity="0.83"/>
<rect x="927.2" y="1083.8" width="1.8" height="3.1" fill="#0922de" opacity="0.87"/>
<rect x="927.2" y="1069.8" width="1.8" height="1.4" fill="#104ff8" opacity="0.82"/>
<rect x="927.2" y="1086.7" width="1.8" height="1.6" fill="#0a27e9" opacity="0.65"/>
<rect x="929" y="1097.2" width="1.8" height="11.4" fill="#0820da"/>
<rect x="929" y="1108.6" width="1.8" height="12.1" fill="#081cd1"/>
<rect x="930.8" y="1097.2" width="1.8" height="11.4" fill="#071acd"/>
<rect x="930.8" y="1108.6" width="1.8" height="12.1" fill="#0717c7"/>
<rect x="932.5" y="1097.2" width="1.8" height="11.4" fill="#0e3ef2"/>
<rect x="932.5" y="1108.6" width="1.8" height="12.1" fill="#0a2aec"/>
<rect x="932.5" y="1069.5" width="1.8" height="27.7" fill="url(#q2)"/>
<rect x="934.2" y="1097.2" width="1.8" height="11.4" fill="#081fd9"/>
<rect x="934.2" y="1108.6" width="1.8" height="12.1" fill="#081bd0"/>
<rect x="946.5" y="1097.2" width="1.8" height="11.4" fill="#1675ff"/>
<rect x="946.5" y="1108.6" width="1.8" height="12.1" fill="#1153f9"/>
<rect x="946.5" y="1058" width="1.8" height="39.2" fill="url(#q3)"/>
<rect x="946.5" y="1089.3" width="1.8" height="2.5" fill="#0b31ee" opacity="0.65"/>
<rect x="946.5" y="1093.9" width="1.8" height="3.5" fill="#0925e5" opacity="0.86"/>
<rect x="946.5" y="1092" width="1.8" height="3.6" fill="#0922de" opacity="0.81"/>
<rect x="946.5" y="1084.6" width="1.8" height="2.4" fill="#0d3cf2" opacity="0.93"/>
<rect x="948.2" y="1097.2" width="1.8" height="11.4" fill="#1678ff"/>
<rect x="948.2" y="1108.6" width="1.8" height="12.1" fill="#1154fa"/>
<rect x="948.2" y="1048.2" width="1.8" height="49" fill="url(#q3)"/>
<rect x="948.2" y="1063.1" width="1.8" height="2.9" fill="#0d3bf1" opacity="0.62"/>
<rect x="948.2" y="1091.9" width="1.8" height="1.7" fill="#104df7" opacity="0.67"/>
<rect x="948.2" y="1085" width="1.8" height="3.6" fill="#1257fb" opacity="0.66"/>
<rect x="948.2" y="1090.1" width="1.8" height="2.2" fill="#0e3ff3" opacity="0.65"/>
<rect x="953.5" y="1097.2" width="1.8" height="11.4" fill="#0614c2"/>
<rect x="953.5" y="1108.6" width="1.8" height="12.1" fill="#0612bd"/>
<rect x="965.8" y="1097.2" width="1.8" height="11.4" fill="#1675ff"/>
<rect x="965.8" y="1108.6" width="1.8" height="12.1" fill="#1152f9"/>
<rect x="965.8" y="1053.9" width="1.8" height="43.3" fill="url(#q3)"/>
<rect x="965.8" y="1082.1" width="1.8" height="3.2" fill="#135cfc" opacity="0.92"/>
<rect x="965.8" y="1091.8" width="1.8" height="3.3" fill="#104af6" opacity="0.68"/>
<rect x="965.8" y="1084.2" width="1.8" height="3.4" fill="#0a29eb" opacity="0.66"/>
<rect x="965.8" y="1095.2" width="1.8" height="2.1" fill="#0a26e6" opacity="0.85"/>
<rect x="967.5" y="1097.2" width="1.8" height="11.4" fill="#081cd2"/>
<rect x="967.5" y="1108.6" width="1.8" height="12.1" fill="#0719cb"/>
<rect x="969.2" y="1097.2" width="1.8" height="11.4" fill="#0922de"/>
<rect x="969.2" y="1108.6" width="1.8" height="12.1" fill="#081dd4"/>
<rect x="971" y="1097.2" width="1.8" height="11.4" fill="#0a29eb"/>
<rect x="971" y="1108.6" width="1.8" height="12.1" fill="#0922df"/>
<rect x="971" y="1062.4" width="1.8" height="34.8" fill="url(#q1)"/>
<rect x="972.8" y="1097.2" width="1.8" height="11.4" fill="#0f47f5"/>
<rect x="972.8" y="1108.6" width="1.8" height="12.1" fill="#0c31ee"/>
<rect x="972.8" y="1068" width="1.8" height="29.2" fill="url(#q2)"/>
<rect x="974.5" y="1097.2" width="1.8" height="11.4" fill="#1674ff"/>
<rect x="974.5" y="1108.6" width="1.8" height="12.1" fill="#1152f9"/>
<rect x="974.5" y="1053.3" width="1.8" height="43.9" fill="url(#q3)"/>
<rect x="974.5" y="1077" width="1.8" height="2.2" fill="#0f47f5" opacity="0.62"/>
<rect x="974.5" y="1075.7" width="1.8" height="3.3" fill="#104bf7" opacity="0.76"/>
<rect x="974.5" y="1085.6" width="1.8" height="2.8" fill="#1259fb" opacity="0.94"/>
<rect x="974.5" y="1071.7" width="1.8" height="3.1" fill="#1154fa" opacity="0.78"/>
<rect x="976.2" y="1097.2" width="1.8" height="11.4" fill="#1257fb"/>
<rect x="976.2" y="1108.6" width="1.8" height="12.1" fill="#0e3ef2"/>
<rect x="976.2" y="1067.7" width="1.8" height="29.5" fill="url(#q2)"/>
<rect x="978" y="1097.2" width="1.8" height="11.4" fill="#22c5fb"/>
<rect x="978" y="1108.6" width="1.8" height="12.1" fill="#198eff"/>
<rect x="978" y="1048" width="1.8" height="49.2" fill="url(#q4)"/>
<rect x="978" y="1082.3" width="1.8" height="3.3" fill="#1155fa" opacity="0.84"/>
<rect x="978" y="1073.7" width="1.8" height="1.9" fill="#156dff" opacity="0.93"/>
<rect x="978" y="1064" width="1.8" height="2.6" fill="#1a99ff" opacity="0.61"/>
<rect x="978" y="1094.7" width="1.8" height="2.9" fill="#0d3af1" opacity="0.65"/>
<rect x="978" y="1062.6" width="1.8" height="3.4" fill="#1886ff" opacity="0.91"/>
<rect x="979.8" y="1097.2" width="1.8" height="11.4" fill="#1b9fff"/>
<rect x="979.8" y="1108.6" width="1.8" height="12.1" fill="#156cff"/>
<rect x="979.8" y="1056.5" width="1.8" height="40.7" fill="url(#q3)"/>
<rect x="979.8" y="1095.2" width="1.8" height="2.8" fill="#0d39f1" opacity="0.56"/>
<rect x="979.8" y="1076" width="1.8" height="2.4" fill="#104bf7" opacity="0.72"/>
<rect x="979.8" y="1078.2" width="1.8" height="2.8" fill="#0924e2" opacity="0.69"/>
<rect x="979.8" y="1068.1" width="1.8" height="2.9" fill="#0d3cf2" opacity="0.85"/>
<rect x="981.5" y="1097.2" width="1.8" height="11.4" fill="#0e41f3"/>
<rect x="981.5" y="1108.6" width="1.8" height="12.1" fill="#0b2ded"/>
<rect x="981.5" y="1061.6" width="1.8" height="35.6" fill="url(#q2)"/>
<rect x="983.2" y="1097.2" width="1.8" height="11.4" fill="#104cf7"/>
<rect x="983.2" y="1108.6" width="1.8" height="12.1" fill="#0c35ef"/>
<rect x="983.2" y="1054.3" width="1.8" height="42.9" fill="url(#q2)"/>
<rect x="985" y="1097.2" width="1.8" height="11.4" fill="#54f7c6"/>
<rect x="985" y="1108.6" width="1.8" height="12.1" fill="#27cff6"/>
<rect x="985" y="1044" width="1.8" height="53.2" fill="url(#q5)"/>
<rect x="985" y="1059.5" width="1.8" height="1.8" fill="#1257fb" opacity="0.62"/>
<rect x="985" y="1057.9" width="1.8" height="2.7" fill="#2edbef" opacity="0.75"/>
<rect x="985" y="1079.5" width="1.8" height="3.3" fill="#1463ff" opacity="0.84"/>
<rect x="985" y="1074" width="1.8" height="1.4" fill="#0e3ff3" opacity="0.56"/>
<rect x="985" y="1085.7" width="1.8" height="2.4" fill="#0e40f3" opacity="0.76"/>
<rect x="986.8" y="1097.2" width="1.8" height="11.4" fill="#081cd3"/>
<rect x="986.8" y="1108.6" width="1.8" height="12.1" fill="#0719cb"/>
<rect x="988.5" y="1097.2" width="1.8" height="11.4" fill="#1464ff"/>
<rect x="988.5" y="1108.6" width="1.8" height="12.1" fill="#0f49f6"/>
<rect x="988.5" y="1053.7" width="1.8" height="43.5" fill="url(#q2)"/>
<rect x="990.2" y="1097.2" width="1.8" height="11.4" fill="#071ace"/>
<rect x="990.2" y="1108.6" width="1.8" height="12.1" fill="#0717c7"/>
<rect x="992" y="1097.2" width="1.8" height="11.4" fill="#faeb14"/>
<rect x="992" y="1108.6" width="1.8" height="12.1" fill="#a8fe6a"/>
<rect x="992" y="1019.5" width="1.8" height="77.7" fill="url(#q7)"/>
<rect x="992" y="1041.6" width="1.8" height="1.6" fill="#1b9fff" opacity="0.71"/>
<rect x="992" y="1074.1" width="1.8" height="1.6" fill="#1db2ff" opacity="0.68"/>
<rect x="992" y="1065" width="1.8" height="3.4" fill="#36eae7" opacity="0.88"/>
<rect x="992" y="1051.4" width="1.8" height="2" fill="#36eae7" opacity="0.78"/>
<rect x="992" y="1069.8" width="1.8" height="2.6" fill="#1db9ff" opacity="0.66"/>
<rect x="992" y="1084.6" width="1.8" height="3.1" fill="#1ebaff" opacity="0.63"/>
<rect x="992" y="1026.1" width="1.8" height="3.3" fill="#35e8e8" opacity="0.80"/>
<rect x="993.8" y="1097.2" width="1.8" height="11.4" fill="#faeb14"/>
<rect x="993.8" y="1108.6" width="1.8" height="12.1" fill="#a8fe6a"/>
<rect x="993.8" y="1015.1" width="1.8" height="82.1" fill="url(#q7)"/>
<rect x="993.8" y="1054.2" width="1.8" height="2" fill="#36eae7" opacity="0.62"/>
<rect x="993.8" y="1095.1" width="1.8" height="1.7" fill="#177fff" opacity="0.68"/>
<rect x="993.8" y="1054.3" width="1.8" height="2.5" fill="#36eae7" opacity="0.61"/>
<rect x="993.8" y="1085.9" width="1.8" height="1.8" fill="#36eae7" opacity="0.62"/>
<rect x="993.8" y="1035.5" width="1.8" height="2.8" fill="#36eae7" opacity="0.84"/>
<rect x="993.8" y="1047" width="1.8" height="3.4" fill="#36eae7" opacity="0.74"/>
<rect x="993.8" y="1036.3" width="1.8" height="3" fill="#1ba7ff" opacity="0.58"/>
<rect x="995.5" y="1097.2" width="1.8" height="11.4" fill="#0820da"/>
<rect x="995.5" y="1108.6" width="1.8" height="12.1" fill="#081bd1"/>
<rect x="997.2" y="1097.2" width="1.8" height="11.4" fill="#0a27e9"/>
<rect x="997.2" y="1108.6" width="1.8" height="12.1" fill="#0921dd"/>
<rect x="997.2" y="1076.1" width="1.8" height="21.1" fill="url(#q1)"/>
<rect x="1002.5" y="1097.2" width="1.8" height="11.4" fill="#0615c3"/>
<rect x="1002.5" y="1108.6" width="1.8" height="12.1" fill="#0613be"/>
<rect x="1004.2" y="1097.2" width="1.8" height="11.4" fill="#0f48f6"/>
<rect x="1004.2" y="1108.6" width="1.8" height="12.1" fill="#0c32ee"/>
<rect x="1004.2" y="1064.2" width="1.8" height="33" fill="url(#q2)"/>
<rect x="1006" y="1097.2" width="1.8" height="11.4" fill="#081fd8"/>
<rect x="1006" y="1108.6" width="1.8" height="12.1" fill="#081bcf"/>
<rect x="1007.8" y="1097.2" width="1.8" height="11.4" fill="#0a26e7"/>
<rect x="1007.8" y="1108.6" width="1.8" height="12.1" fill="#0921db"/>
<rect x="1007.8" y="1062" width="1.8" height="35.2" fill="url(#q1)"/>
<rect x="1009.5" y="1097.2" width="1.8" height="11.4" fill="#104cf7"/>
<rect x="1009.5" y="1108.6" width="1.8" height="12.1" fill="#0c36f0"/>
<rect x="1009.5" y="1059" width="1.8" height="38.2" fill="url(#q2)"/>
<rect x="1011.2" y="1097.2" width="1.8" height="11.4" fill="#1461fe"/>
<rect x="1011.2" y="1108.6" width="1.8" height="12.1" fill="#0f47f5"/>
<rect x="1011.2" y="1056.7" width="1.8" height="40.5" fill="url(#q2)"/>
<rect x="1013" y="1097.2" width="1.8" height="11.4" fill="#1360fe"/>
<rect x="1013" y="1108.6" width="1.8" height="12.1" fill="#0f46f5"/>
<rect x="1013" y="1064.8" width="1.8" height="32.4" fill="url(#q2)"/>
<rect x="1014.8" y="1097.2" width="1.8" height="11.4" fill="#1a97ff"/>
<rect x="1014.8" y="1108.6" width="1.8" height="12.1" fill="#1466ff"/>
<rect x="1014.8" y="1048.7" width="1.8" height="48.5" fill="url(#q3)"/>
<rect x="1014.8" y="1094.3" width="1.8" height="2.3" fill="#1155fa" opacity="0.95"/>
<rect x="1014.8" y="1093.2" width="1.8" height="2.4" fill="#0e40f3" opacity="0.76"/>
<rect x="1014.8" y="1061.5" width="1.8" height="3" fill="#1153f9" opacity="0.74"/>
<rect x="1014.8" y="1081.9" width="1.8" height="2.8" fill="#156fff" opacity="0.83"/>
<rect x="1016.5" y="1097.2" width="1.8" height="11.4" fill="#21c3fc"/>
<rect x="1016.5" y="1108.6" width="1.8" height="12.1" fill="#188bff"/>
<rect x="1016.5" y="1047.4" width="1.8" height="49.8" fill="url(#q4)"/>
<rect x="1016.5" y="1093.9" width="1.8" height="1.6" fill="#1a9cff" opacity="0.95"/>
<rect x="1016.5" y="1063.9" width="1.8" height="2.8" fill="#1991ff" opacity="0.86"/>
<rect x="1016.5" y="1072.3" width="1.8" height="1.8" fill="#0e42f4" opacity="0.60"/>
<rect x="1016.5" y="1061" width="1.8" height="3.2" fill="#0c36f0" opacity="0.77"/>
<rect x="1016.5" y="1090.8" width="1.8" height="2.4" fill="#1ba2ff" opacity="0.62"/>
<rect x="1018.2" y="1097.2" width="1.8" height="11.4" fill="#1256fa"/>
<rect x="1018.2" y="1108.6" width="1.8" height="12.1" fill="#0e3df2"/>
<rect x="1018.2" y="1059.9" width="1.8" height="37.3" fill="url(#q2)"/>
<rect x="1020" y="1097.2" width="1.8" height="11.4" fill="#0f46f5"/>
<rect x="1020" y="1108.6" width="1.8" height="12.1" fill="#0b31ee"/>
<rect x="1020" y="1066.4" width="1.8" height="30.8" fill="url(#q2)"/>
<rect x="1021.8" y="1097.2" width="1.8" height="11.4" fill="#0922de"/>
<rect x="1021.8" y="1108.6" width="1.8" height="12.1" fill="#081dd4"/>
<rect x="1023.5" y="1097.2" width="1.8" height="11.4" fill="#104cf7"/>
<rect x="1023.5" y="1108.6" width="1.8" height="12.1" fill="#0c36f0"/>
<rect x="1023.5" y="1060.8" width="1.8" height="36.4" fill="url(#q2)"/>
<rect x="1025.2" y="1097.2" width="1.8" height="11.4" fill="#0c34ef"/>
<rect x="1025.2" y="1108.6" width="1.8" height="12.1" fill="#0a26e6"/>
<rect x="1025.2" y="1060.3" width="1.8" height="36.9" fill="url(#q2)"/>
<rect x="1027" y="1097.2" width="1.8" height="11.4" fill="#071ace"/>
<rect x="1027" y="1108.6" width="1.8" height="12.1" fill="#0717c7"/>
<rect x="1030.5" y="1097.2" width="1.8" height="11.4" fill="#0e3ef2"/>
<rect x="1030.5" y="1108.6" width="1.8" height="12.1" fill="#0a2aec"/>
<rect x="1030.5" y="1064.9" width="1.8" height="32.3" fill="url(#q2)"/>
<rect x="1034" y="1097.2" width="1.8" height="11.4" fill="#0a25e6"/>
<rect x="1034" y="1108.6" width="1.8" height="12.1" fill="#0920da"/>
<rect x="1034" y="1076.6" width="1.8" height="20.6" fill="url(#q1)"/>
<rect x="1035.8" y="1097.2" width="1.8" height="11.4" fill="#081cd1"/>
<rect x="1035.8" y="1108.6" width="1.8" height="12.1" fill="#0718ca"/>
<rect x="1042.8" y="1097.2" width="1.8" height="11.4" fill="#0a25e6"/>
<rect x="1042.8" y="1108.6" width="1.8" height="12.1" fill="#0920da"/>
<rect x="1042.8" y="1066.9" width="1.8" height="30.3" fill="url(#q1)"/>
<rect x="1048" y="1097.2" width="1.8" height="11.4" fill="#0c34ef"/>
<rect x="1048" y="1108.6" width="1.8" height="12.1" fill="#0a26e6"/>
<rect x="1048" y="1072.8" width="1.8" height="24.4" fill="url(#q2)"/>
<rect x="1049.8" y="1097.2" width="1.8" height="11.4" fill="#081dd4"/>
<rect x="1049.8" y="1108.6" width="1.8" height="12.1" fill="#0719cc"/>
<rect x="1051.5" y="1097.2" width="1.8" height="11.4" fill="#0a28eb"/>
<rect x="1051.5" y="1108.6" width="1.8" height="12.1" fill="#0922df"/>
<rect x="1051.5" y="1066" width="1.8" height="31.2" fill="url(#q1)"/>
<rect x="1056.8" y="1097.2" width="1.8" height="11.4" fill="#0921dc"/>
<rect x="1056.8" y="1108.6" width="1.8" height="12.1" fill="#081dd3"/>
<rect x="1058.5" y="1097.2" width="1.8" height="11.4" fill="#0c36f0"/>
<rect x="1058.5" y="1108.6" width="1.8" height="12.1" fill="#0a26e8"/>
<rect x="1058.5" y="1063.3" width="1.8" height="33.9" fill="url(#q2)"/>
<rect x="1060.2" y="1097.2" width="1.8" height="11.4" fill="#167aff"/>
<rect x="1060.2" y="1108.6" width="1.8" height="12.1" fill="#1255fa"/>
<rect x="1060.2" y="1052" width="1.8" height="45.2" fill="url(#q3)"/>
<rect x="1060.2" y="1077.6" width="1.8" height="1.9" fill="#135ffd" opacity="0.59"/>
<rect x="1060.2" y="1076.3" width="1.8" height="2.6" fill="#0920db" opacity="0.76"/>
<rect x="1060.2" y="1068.2" width="1.8" height="2.4" fill="#0e42f4" opacity="0.83"/>
<rect x="1060.2" y="1089.3" width="1.8" height="2.9" fill="#1152f9" opacity="0.59"/>
<rect x="1062" y="1097.2" width="1.8" height="11.4" fill="#081cd3"/>
<rect x="1062" y="1108.6" width="1.8" height="12.1" fill="#0719cb"/>
<rect x="1063.8" y="1097.2" width="1.8" height="11.4" fill="#0923e0"/>
<rect x="1063.8" y="1108.6" width="1.8" height="12.1" fill="#081ed6"/>
<rect x="1069" y="1097.2" width="1.8" height="11.4" fill="#0719cc"/>
<rect x="1069" y="1108.6" width="1.8" height="12.1" fill="#0716c5"/>
<rect x="1077.8" y="1097.2" width="1.8" height="11.4" fill="#0c33ef"/>
<rect x="1077.8" y="1108.6" width="1.8" height="12.1" fill="#0a25e6"/>
<rect x="1077.8" y="1058.3" width="1.8" height="38.9" fill="url(#q2)"/>
<rect x="1079.5" y="1097.2" width="1.8" height="11.4" fill="#0f47f5"/>
<rect x="1079.5" y="1108.6" width="1.8" height="12.1" fill="#0b31ee"/>
<rect x="1079.5" y="1056.4" width="1.8" height="40.8" fill="url(#q2)"/>
<rect x="1081.2" y="1097.2" width="1.8" height="11.4" fill="#1679ff"/>
<rect x="1081.2" y="1108.6" width="1.8" height="12.1" fill="#1155fa"/>
<rect x="1081.2" y="1055.1" width="1.8" height="42.1" fill="url(#q3)"/>
<rect x="1081.2" y="1084.9" width="1.8" height="3" fill="#0920db" opacity="0.88"/>
<rect x="1081.2" y="1076.3" width="1.8" height="1.6" fill="#0e42f4" opacity="0.92"/>
<rect x="1081.2" y="1079.1" width="1.8" height="1.9" fill="#0c35ef" opacity="0.90"/>
<rect x="1081.2" y="1094" width="1.8" height="2.6" fill="#0c31ee" opacity="0.66"/>
<rect x="1083" y="1097.2" width="1.8" height="11.4" fill="#0a26e6"/>
<rect x="1083" y="1108.6" width="1.8" height="12.1" fill="#0920db"/>
<rect x="1083" y="1067.1" width="1.8" height="30.1" fill="url(#q1)"/>
<rect x="1084.8" y="1097.2" width="1.8" height="11.4" fill="#0f47f5"/>
<rect x="1084.8" y="1108.6" width="1.8" height="12.1" fill="#0c31ee"/>
<rect x="1084.8" y="1070.4" width="1.8" height="26.8" fill="url(#q2)"/>
<rect x="1086.5" y="1097.2" width="1.8" height="11.4" fill="#0718ca"/>
<rect x="1086.5" y="1108.6" width="1.8" height="12.1" fill="#0615c4"/>
<rect x="1088.2" y="1097.2" width="1.8" height="11.4" fill="#1672ff"/>
<rect x="1088.2" y="1108.6" width="1.8" height="12.1" fill="#1151f9"/>
<rect x="1088.2" y="1063.7" width="1.8" height="33.5" fill="url(#q3)"/>
<rect x="1088.2" y="1087.5" width="1.8" height="1.7" fill="#0b2cec" opacity="0.67"/>
<rect x="1088.2" y="1094.5" width="1.8" height="2.4" fill="#0925e4" opacity="0.90"/>
<rect x="1088.2" y="1073.6" width="1.8" height="2.7" fill="#081fd9" opacity="0.80"/>
<rect x="1088.2" y="1070.5" width="1.8" height="3.1" fill="#1151f9" opacity="0.79"/>
<rect x="1091.8" y="1097.2" width="1.8" height="11.4" fill="#135efd"/>
<rect x="1091.8" y="1108.6" width="1.8" height="12.1" fill="#0f44f4"/>
<rect x="1091.8" y="1063.2" width="1.8" height="34" fill="url(#q2)"/>
<rect x="1093.5" y="1097.2" width="1.8" height="11.4" fill="#1782ff"/>
<rect x="1093.5" y="1108.6" width="1.8" height="12.1" fill="#1259fb"/>
<rect x="1093.5" y="1053.5" width="1.8" height="43.7" fill="url(#q3)"/>
<rect x="1093.5" y="1092.8" width="1.8" height="2.7" fill="#0e40f3" opacity="0.93"/>
<rect x="1093.5" y="1078.6" width="1.8" height="3.5" fill="#0b2cec" opacity="0.95"/>
<rect x="1093.5" y="1066.4" width="1.8" height="3.1" fill="#125bfc" opacity="0.63"/>
<rect x="1093.5" y="1071.1" width="1.8" height="3.2" fill="#0922de" opacity="0.58"/>
<rect x="1095.2" y="1097.2" width="1.8" height="11.4" fill="#0f44f4"/>
<rect x="1095.2" y="1108.6" width="1.8" height="12.1" fill="#0b2fed"/>
<rect x="1095.2" y="1058.4" width="1.8" height="38.8" fill="url(#q2)"/>
<rect x="1097" y="1097.2" width="1.8" height="11.4" fill="#177bff"/>
<rect x="1097" y="1108.6" width="1.8" height="12.1" fill="#1256fa"/>
<rect x="1097" y="1061.3" width="1.8" height="35.9" fill="url(#q3)"/>
<rect x="1097" y="1091.1" width="1.8" height="1.6" fill="#0922de" opacity="0.89"/>
<rect x="1097" y="1072.9" width="1.8" height="3.6" fill="#104df7" opacity="0.74"/>
<rect x="1097" y="1081.7" width="1.8" height="2.8" fill="#125afc" opacity="0.94"/>
<rect x="1097" y="1088.4" width="1.8" height="1.5" fill="#0c35ef" opacity="0.91"/>
<rect x="1098.8" y="1097.2" width="1.8" height="11.4" fill="#0b2eed"/>
<rect x="1098.8" y="1108.6" width="1.8" height="12.1" fill="#0924e3"/>
<rect x="1098.8" y="1072.6" width="1.8" height="24.6" fill="url(#q2)"/>
<rect x="1100.5" y="1097.2" width="1.8" height="11.4" fill="#0925e4"/>
<rect x="1100.5" y="1108.6" width="1.8" height="12.1" fill="#0820d9"/>
<rect x="1100.5" y="1073.1" width="1.8" height="24.1" fill="url(#q1)"/>
<rect x="1102.2" y="1097.2" width="1.8" height="11.4" fill="#0615c3"/>
<rect x="1102.2" y="1108.6" width="1.8" height="12.1" fill="#0613be"/>
<rect x="1107.5" y="1097.2" width="1.8" height="11.4" fill="#0716c6"/>
<rect x="1107.5" y="1108.6" width="1.8" height="12.1" fill="#0614c0"/>
<rect x="1109.2" y="1097.2" width="1.8" height="11.4" fill="#0a27e8"/>
<rect x="1109.2" y="1108.6" width="1.8" height="12.1" fill="#0921dd"/>
<rect x="1109.2" y="1065.1" width="1.8" height="32.1" fill="url(#q1)"/>
<rect x="1111" y="1097.2" width="1.8" height="11.4" fill="#0f48f6"/>
<rect x="1111" y="1108.6" width="1.8" height="12.1" fill="#0c32ee"/>
<rect x="1111" y="1055.8" width="1.8" height="41.4" fill="url(#q2)"/>
<rect x="1112.8" y="1097.2" width="1.8" height="11.4" fill="#0b2cec"/>
<rect x="1112.8" y="1108.6" width="1.8" height="12.1" fill="#0923e1"/>
<rect x="1112.8" y="1062.9" width="1.8" height="34.3" fill="url(#q2)"/>
<rect x="1114.5" y="1097.2" width="1.8" height="11.4" fill="#0a29eb"/>
<rect x="1114.5" y="1108.6" width="1.8" height="12.1" fill="#0923e0"/>
<rect x="1114.5" y="1075.5" width="1.8" height="21.7" fill="url(#q1)"/>
<rect x="1116.2" y="1097.2" width="1.8" height="11.4" fill="#125bfc"/>
<rect x="1116.2" y="1108.6" width="1.8" height="12.1" fill="#0e41f3"/>
<rect x="1116.2" y="1053.4" width="1.8" height="43.8" fill="url(#q2)"/>
<rect x="1118" y="1097.2" width="1.8" height="11.4" fill="#1467ff"/>
<rect x="1118" y="1108.6" width="1.8" height="12.1" fill="#104bf7"/>
<rect x="1118" y="1056.9" width="1.8" height="40.3" fill="url(#q2)"/>
<rect x="1118" y="1066.4" width="1.8" height="3.3" fill="#0820da" opacity="0.80"/>
<rect x="1118" y="1074.2" width="1.8" height="1.6" fill="#0923e0" opacity="0.86"/>
<rect x="1118" y="1074.7" width="1.8" height="3.2" fill="#081fd8" opacity="0.68"/>
<rect x="1118" y="1070.8" width="1.8" height="2.2" fill="#0c36f0" opacity="0.76"/>
<rect x="1119.8" y="1097.2" width="1.8" height="11.4" fill="#0a27e8"/>
<rect x="1119.8" y="1108.6" width="1.8" height="12.1" fill="#0921dd"/>
<rect x="1119.8" y="1072.2" width="1.8" height="25" fill="url(#q1)"/>
<rect x="1121.5" y="1097.2" width="1.8" height="11.4" fill="#104bf7"/>
<rect x="1121.5" y="1108.6" width="1.8" height="12.1" fill="#0c35ef"/>
<rect x="1121.5" y="1066.6" width="1.8" height="30.6" fill="url(#q2)"/>
<rect x="1123.2" y="1097.2" width="1.8" height="11.4" fill="#0f47f5"/>
<rect x="1123.2" y="1108.6" width="1.8" height="12.1" fill="#0c31ee"/>
<rect x="1123.2" y="1065.1" width="1.8" height="32.1" fill="url(#q2)"/>
<rect x="1125" y="1097.2" width="1.8" height="11.4" fill="#1889ff"/>
<rect x="1125" y="1108.6" width="1.8" height="12.1" fill="#135dfd"/>
<rect x="1125" y="1054.4" width="1.8" height="42.8" fill="url(#q3)"/>
<rect x="1125" y="1094.7" width="1.8" height="2.9" fill="#0921dc" opacity="0.70"/>
<rect x="1125" y="1081.2" width="1.8" height="2" fill="#1153f9" opacity="0.58"/>
<rect x="1125" y="1085.3" width="1.8" height="2.4" fill="#156dff" opacity="0.92"/>
<rect x="1125" y="1081.5" width="1.8" height="2.9" fill="#114ff8" opacity="0.86"/>
<rect x="1126.8" y="1097.2" width="1.8" height="11.4" fill="#1a96ff"/>
<rect x="1126.8" y="1108.6" width="1.8" height="12.1" fill="#1464ff"/>
<rect x="1126.8" y="1056" width="1.8" height="41.2" fill="url(#q3)"/>
<rect x="1126.8" y="1092.3" width="1.8" height="2.5" fill="#114ff8" opacity="0.80"/>
<rect x="1126.8" y="1076.7" width="1.8" height="3.4" fill="#0b2ded" opacity="0.63"/>
<rect x="1126.8" y="1077.2" width="1.8" height="2.5" fill="#104df7" opacity="0.59"/>
<rect x="1126.8" y="1074.2" width="1.8" height="1.7" fill="#135dfd" opacity="0.74"/>
<rect x="1128.5" y="1097.2" width="1.8" height="11.4" fill="#1991ff"/>
<rect x="1128.5" y="1108.6" width="1.8" height="12.1" fill="#1462fe"/>
<rect x="1128.5" y="1053.6" width="1.8" height="43.6" fill="url(#q3)"/>
<rect x="1128.5" y="1079.7" width="1.8" height="1.8" fill="#0924e2" opacity="0.76"/>
<rect x="1128.5" y="1093.3" width="1.8" height="2.3" fill="#156eff" opacity="0.75"/>
<rect x="1128.5" y="1070.6" width="1.8" height="1.7" fill="#1461fe" opacity="0.67"/>
<rect x="1128.5" y="1069.4" width="1.8" height="3.3" fill="#1258fb" opacity="0.73"/>
<rect x="1130.2" y="1097.2" width="1.8" height="11.4" fill="#37ece6"/>
<rect x="1130.2" y="1108.6" width="1.8" height="12.1" fill="#1db9ff"/>
<rect x="1130.2" y="1036.2" width="1.8" height="61" fill="url(#q4)"/>
<rect x="1130.2" y="1064.8" width="1.8" height="2" fill="#21c3fc" opacity="0.90"/>
<rect x="1130.2" y="1089.3" width="1.8" height="1.8" fill="#125afc" opacity="0.80"/>
<rect x="1130.2" y="1049.2" width="1.8" height="2.1" fill="#1887ff" opacity="0.82"/>
<rect x="1130.2" y="1051.5" width="1.8" height="2" fill="#1a9cff" opacity="0.78"/>
<rect x="1130.2" y="1084" width="1.8" height="2.1" fill="#0f48f6" opacity="0.84"/>
<rect x="1132" y="1097.2" width="1.8" height="11.4" fill="#4ff7cc"/>
<rect x="1132" y="1108.6" width="1.8" height="12.1" fill="#26ccf7"/>
<rect x="1132" y="1038.7" width="1.8" height="58.5" fill="url(#q4)"/>
<rect x="1132" y="1067.9" width="1.8" height="2.5" fill="#29d3f4" opacity="0.68"/>
<rect x="1132" y="1057.2" width="1.8" height="2.1" fill="#1781ff" opacity="0.56"/>
<rect x="1132" y="1080.7" width="1.8" height="2.3" fill="#2ad4f3" opacity="0.73"/>
<rect x="1132" y="1090.7" width="1.8" height="3.5" fill="#2fddee" opacity="0.85"/>
<rect x="1132" y="1058.7" width="1.8" height="2.1" fill="#1570ff" opacity="0.87"/>
<rect x="1133.8" y="1097.2" width="1.8" height="11.4" fill="#61f9b8"/>
<rect x="1133.8" y="1108.6" width="1.8" height="12.1" fill="#2bd6f2"/>
<rect x="1133.8" y="1039.4" width="1.8" height="57.8" fill="url(#q5)"/>
<rect x="1133.8" y="1095" width="1.8" height="2.7" fill="#1675ff" opacity="0.72"/>
<rect x="1133.8" y="1084.5" width="1.8" height="3.2" fill="#0e40f3" opacity="0.91"/>
<rect x="1133.8" y="1083.6" width="1.8" height="2.9" fill="#1678ff" opacity="0.63"/>
<rect x="1133.8" y="1086.5" width="1.8" height="2.7" fill="#28d0f5" opacity="0.85"/>
<rect x="1133.8" y="1083.5" width="1.8" height="3.4" fill="#25cbf8" opacity="0.85"/>
<rect x="1135.5" y="1097.2" width="1.8" height="11.4" fill="#64f9b5"/>
<rect x="1135.5" y="1108.6" width="1.8" height="12.1" fill="#2cd8f1"/>
<rect x="1135.5" y="1039.6" width="1.8" height="57.6" fill="url(#q5)"/>
<rect x="1135.5" y="1091.9" width="1.8" height="3.3" fill="#104df7" opacity="0.84"/>
<rect x="1135.5" y="1056.6" width="1.8" height="3" fill="#30dfed" opacity="0.64"/>
<rect x="1135.5" y="1068" width="1.8" height="2.8" fill="#1ebfff" opacity="0.78"/>
<rect x="1135.5" y="1089.8" width="1.8" height="3.3" fill="#1672ff" opacity="0.94"/>
<rect x="1135.5" y="1089.7" width="1.8" height="1.9" fill="#188bff" opacity="0.75"/>
<rect x="1137.2" y="1097.2" width="1.8" height="11.4" fill="#69f9b0"/>
<rect x="1137.2" y="1108.6" width="1.8" height="12.1" fill="#2edbef"/>
<rect x="1137.2" y="1037.6" width="1.8" height="59.6" fill="url(#q5)"/>
<rect x="1137.2" y="1051.6" width="1.8" height="2.1" fill="#1153f9" opacity="0.77"/>
<rect x="1137.2" y="1087.1" width="1.8" height="3.4" fill="#1780ff" opacity="0.75"/>
<rect x="1137.2" y="1093.6" width="1.8" height="2.1" fill="#1678ff" opacity="0.61"/>
<rect x="1137.2" y="1087.1" width="1.8" height="3.5" fill="#1cafff" opacity="0.75"/>
<rect x="1137.2" y="1086" width="1.8" height="3.4" fill="#1259fb" opacity="0.58"/>
<rect x="1137.2" y="1058.3" width="1.8" height="1.6" fill="#36eae7" opacity="0.93"/>
<rect x="1139" y="1097.2" width="1.8" height="11.4" fill="#87fc8f"/>
<rect x="1139" y="1108.6" width="1.8" height="12.1" fill="#37ebe6"/>
<rect x="1139" y="1026.4" width="1.8" height="70.8" fill="url(#q5)"/>
<rect x="1139" y="1093.8" width="1.8" height="3.4" fill="#1db7ff" opacity="0.72"/>
<rect x="1139" y="1083.2" width="1.8" height="2.8" fill="#1153f9" opacity="0.63"/>
<rect x="1139" y="1082" width="1.8" height="1.5" fill="#177cff" opacity="0.73"/>
<rect x="1139" y="1053.6" width="1.8" height="1.4" fill="#1cafff" opacity="0.72"/>
<rect x="1139" y="1052.9" width="1.8" height="2.7" fill="#198eff" opacity="0.85"/>
<rect x="1139" y="1069.3" width="1.8" height="2" fill="#1a9dff" opacity="0.79"/>
<rect x="1140.8" y="1097.2" width="1.8" height="11.4" fill="#26cdf7"/>
<rect x="1140.8" y="1108.6" width="1.8" height="12.1" fill="#1a96ff"/>
<rect x="1140.8" y="1041.9" width="1.8" height="55.3" fill="url(#q4)"/>
<rect x="1140.8" y="1065.5" width="1.8" height="2.6" fill="#1888ff" opacity="0.59"/>
<rect x="1140.8" y="1069.2" width="1.8" height="3.2" fill="#1ba6ff" opacity="0.81"/>
<rect x="1140.8" y="1095.1" width="1.8" height="3.1" fill="#1cb0ff" opacity="0.90"/>
<rect x="1140.8" y="1076.3" width="1.8" height="2" fill="#1b9fff" opacity="0.93"/>
<rect x="1140.8" y="1094.6" width="1.8" height="3.5" fill="#1993ff" opacity="0.82"/>
<rect x="1142.5" y="1097.2" width="1.8" height="11.4" fill="#4cf7d0"/>
<rect x="1142.5" y="1108.6" width="1.8" height="12.1" fill="#25caf8"/>
<rect x="1142.5" y="1043.9" width="1.8" height="53.3" fill="url(#q4)"/>
<rect x="1142.5" y="1091.8" width="1.8" height="3.3" fill="#22c5fb" opacity="0.85"/>
<rect x="1142.5" y="1067.2" width="1.8" height="2.5" fill="#1b9fff" opacity="0.90"/>
<rect x="1142.5" y="1080.9" width="1.8" height="3" fill="#1678ff" opacity="0.86"/>
<rect x="1142.5" y="1082.3" width="1.8" height="2.9" fill="#1570ff" opacity="0.78"/>
<rect x="1142.5" y="1057.8" width="1.8" height="1.7" fill="#135ffd" opacity="0.75"/>
<rect x="1144.2" y="1097.2" width="1.8" height="11.4" fill="#5bf8bf"/>
<rect x="1144.2" y="1108.6" width="1.8" height="12.1" fill="#29d3f4"/>
<rect x="1144.2" y="1041.5" width="1.8" height="55.7" fill="url(#q5)"/>
<rect x="1144.2" y="1084.3" width="1.8" height="1.5" fill="#25cbf8" opacity="0.84"/>
<rect x="1144.2" y="1075" width="1.8" height="3.4" fill="#2edcef" opacity="0.80"/>
<rect x="1144.2" y="1087.9" width="1.8" height="3" fill="#1258fb" opacity="0.83"/>
<rect x="1144.2" y="1086.1" width="1.8" height="1.9" fill="#1889ff" opacity="0.70"/>
<rect x="1144.2" y="1059.7" width="1.8" height="2.9" fill="#1db5ff" opacity="0.80"/>
<rect x="1146" y="1097.2" width="1.8" height="11.4" fill="#1db3ff"/>
<rect x="1146" y="1108.6" width="1.8" height="12.1" fill="#177cff"/>
<rect x="1146" y="1044" width="1.8" height="53.2" fill="url(#q3)"/>
<rect x="1146" y="1082.1" width="1.8" height="2" fill="#0b31ee" opacity="0.67"/>
<rect x="1146" y="1068.9" width="1.8" height="2.2" fill="#1465ff" opacity="0.63"/>
<rect x="1146" y="1093.5" width="1.8" height="3.4" fill="#125afc" opacity="0.72"/>
<rect x="1146" y="1058.6" width="1.8" height="3.4" fill="#0a27ea" opacity="0.56"/>
<rect x="1147.8" y="1097.2" width="1.8" height="11.4" fill="#26cef7"/>
<rect x="1147.8" y="1108.6" width="1.8" height="12.1" fill="#1a97ff"/>
<rect x="1147.8" y="1052.5" width="1.8" height="44.7" fill="url(#q4)"/>
<rect x="1147.8" y="1074.7" width="1.8" height="1.8" fill="#156cff" opacity="0.70"/>
<rect x="1147.8" y="1070.9" width="1.8" height="3.4" fill="#1360fe" opacity="0.79"/>
<rect x="1147.8" y="1088.3" width="1.8" height="1.4" fill="#1993ff" opacity="0.59"/>
<rect x="1147.8" y="1090.1" width="1.8" height="2.3" fill="#135ffd" opacity="0.90"/>
<rect x="1147.8" y="1071.3" width="1.8" height="3.2" fill="#135dfd" opacity="0.83"/>
<rect x="1149.5" y="1097.2" width="1.8" height="11.4" fill="#167aff"/>
<rect x="1149.5" y="1108.6" width="1.8" height="12.1" fill="#1255fa"/>
<rect x="1149.5" y="1053.4" width="1.8" height="43.8" fill="url(#q3)"/>
<rect x="1149.5" y="1077.1" width="1.8" height="2.6" fill="#125afc" opacity="0.90"/>
<rect x="1149.5" y="1072.6" width="1.8" height="2.2" fill="#0e43f4" opacity="0.55"/>
<rect x="1149.5" y="1085.6" width="1.8" height="2.1" fill="#0d3af1" opacity="0.68"/>
<rect x="1149.5" y="1077.9" width="1.8" height="3.5" fill="#0f44f4" opacity="0.84"/>
<rect x="1151.2" y="1097.2" width="1.8" height="11.4" fill="#1466ff"/>
<rect x="1151.2" y="1108.6" width="1.8" height="12.1" fill="#104af6"/>
<rect x="1151.2" y="1063" width="1.8" height="34.2" fill="url(#q2)"/>
<rect x="1151.2" y="1092" width="1.8" height="3.1" fill="#0920db" opacity="0.95"/>
<rect x="1151.2" y="1090.9" width="1.8" height="1.8" fill="#0b2fed" opacity="0.89"/>
<rect x="1151.2" y="1075.9" width="1.8" height="2.5" fill="#081ed5" opacity="0.92"/>
<rect x="1151.2" y="1095.1" width="1.8" height="1.5" fill="#0c31ee" opacity="0.74"/>
<rect x="1153" y="1097.2" width="1.8" height="11.4" fill="#1673ff"/>
<rect x="1153" y="1108.6" width="1.8" height="12.1" fill="#1151f9"/>
<rect x="1153" y="1058" width="1.8" height="39.2" fill="url(#q3)"/>
<rect x="1153" y="1079.7" width="1.8" height="3.2" fill="#1152f9" opacity="0.65"/>
<rect x="1153" y="1083.7" width="1.8" height="2.5" fill="#0920da" opacity="0.56"/>
<rect x="1153" y="1086" width="1.8" height="3.5" fill="#0b2ded" opacity="0.75"/>
<rect x="1153" y="1071.4" width="1.8" height="2.3" fill="#104bf7" opacity="0.77"/>
<rect x="1154.8" y="1097.2" width="1.8" height="11.4" fill="#0f46f5"/>
<rect x="1154.8" y="1108.6" width="1.8" height="12.1" fill="#0b30ee"/>
<rect x="1154.8" y="1062.4" width="1.8" height="34.8" fill="url(#q2)"/>
<rect x="1156.5" y="1097.2" width="1.8" height="11.4" fill="#0b2cec"/>
<rect x="1156.5" y="1108.6" width="1.8" height="12.1" fill="#0923e1"/>
<rect x="1156.5" y="1074" width="1.8" height="23.2" fill="url(#q2)"/>
<rect x="1158.2" y="1097.2" width="1.8" height="11.4" fill="#0a27e8"/>
<rect x="1158.2" y="1108.6" width="1.8" height="12.1" fill="#0921dd"/>
<rect x="1158.2" y="1073.2" width="1.8" height="24" fill="url(#q1)"/>
<rect x="1160" y="1097.2" width="1.8" height="11.4" fill="#0717c7"/>
<rect x="1160" y="1108.6" width="1.8" height="12.1" fill="#0614c2"/>
<rect x="1161.8" y="1097.2" width="1.8" height="11.4" fill="#1468ff"/>
<rect x="1161.8" y="1108.6" width="1.8" height="12.1" fill="#104bf7"/>
<rect x="1161.8" y="1060.3" width="1.8" height="36.9" fill="url(#q3)"/>
<rect x="1161.8" y="1095" width="1.8" height="2.5" fill="#0e43f4" opacity="0.67"/>
<rect x="1161.8" y="1088.4" width="1.8" height="3.1" fill="#104af6" opacity="0.73"/>
<rect x="1161.8" y="1092.4" width="1.8" height="3.1" fill="#0924e2" opacity="0.94"/>
<rect x="1161.8" y="1067.6" width="1.8" height="2.9" fill="#0922df" opacity="0.82"/>
<rect x="1165.2" y="1097.2" width="1.8" height="11.4" fill="#1360fe"/>
<rect x="1165.2" y="1108.6" width="1.8" height="12.1" fill="#0f46f5"/>
<rect x="1165.2" y="1051.8" width="1.8" height="45.4" fill="url(#q2)"/>
<rect x="1167" y="1097.2" width="1.8" height="11.4" fill="#eb320a"/>
<rect x="1167" y="1108.6" width="1.8" height="12.1" fill="#fbda12"/>
<rect x="1167" y="1000" width="1.8" height="97.2" fill="url(#q8)"/>
<rect x="1167" y="1055.7" width="1.8" height="2.1" fill="#36eae7" opacity="0.83"/>
<rect x="1167" y="1051.8" width="1.8" height="1.5" fill="#31e1ec" opacity="0.57"/>
<rect x="1167" y="1053.9" width="1.8" height="2.7" fill="#36eae7" opacity="0.94"/>
<rect x="1167" y="1087.8" width="1.8" height="2.6" fill="#36eae7" opacity="0.76"/>
<rect x="1167" y="1074.6" width="1.8" height="1.8" fill="#36eae7" opacity="0.77"/>
<rect x="1167" y="1056.7" width="1.8" height="2.5" fill="#36eae7" opacity="0.75"/>
<rect x="1167" y="1068.2" width="1.8" height="1.7" fill="#36eae7" opacity="0.95"/>
<rect x="1167" y="1078.7" width="1.8" height="3.2" fill="#36eae7" opacity="0.86"/>
<rect x="1167" y="1046" width="1.8" height="1.8" fill="#36eae7" opacity="0.56"/>
<rect x="1168.8" y="1097.2" width="1.5" height="11.4" fill="#eb320a"/>
<rect x="1168.8" y="1108.6" width="1.5" height="12.1" fill="#fbda12"/>
<rect x="1168.8" y="1000" width="1.5" height="97.2" fill="url(#q8)"/>
<rect x="1168.8" y="1093.3" width="1.5" height="3.5" fill="#36eae7" opacity="0.57"/>
<rect x="1168.8" y="1063.8" width="1.5" height="2" fill="#36eae7" opacity="0.56"/>
<rect x="1168.8" y="1090.8" width="1.5" height="3.5" fill="#36eae7" opacity="0.58"/>
<rect x="1168.8" y="1084.2" width="1.5" height="3.3" fill="#36eae7" opacity="0.68"/>
<rect x="1168.8" y="1011.5" width="1.5" height="2.2" fill="#36eae7" opacity="0.61"/>
<rect x="1168.8" y="1028.7" width="1.5" height="2.7" fill="#26ccf7" opacity="0.86"/>
<rect x="1168.8" y="1021.2" width="1.5" height="3.2" fill="#35e7e8" opacity="0.65"/>
<rect x="1168.8" y="1066.9" width="1.5" height="3.2" fill="#34e7e9" opacity="0.78"/>
<rect x="1168.8" y="1020.7" width="1.5" height="2.9" fill="#36eae7" opacity="0.64"/>
<rect x="1278.4" y="1097.2" width="1.8" height="11.4" fill="#0922df"/>
<rect x="1278.4" y="1108.6" width="1.8" height="12.1" fill="#081ed5"/>
<rect x="1280.2" y="1097.2" width="1.8" height="11.4" fill="#0a2bec"/>
<rect x="1280.2" y="1108.6" width="1.8" height="12.1" fill="#0923e1"/>
<rect x="1280.2" y="1073.6" width="1.8" height="23.6" fill="url(#q2)"/>
<rect x="1281.9" y="1097.2" width="1.8" height="11.4" fill="#1ca9ff"/>
<rect x="1281.9" y="1108.6" width="1.8" height="12.1" fill="#1674ff"/>
<rect x="1281.9" y="1043.5" width="1.8" height="53.7" fill="url(#q3)"/>
<rect x="1281.9" y="1072.4" width="1.8" height="3.2" fill="#1466ff" opacity="0.94"/>
<rect x="1281.9" y="1064.2" width="1.8" height="3.4" fill="#1461fe" opacity="0.85"/>
<rect x="1281.9" y="1052.8" width="1.8" height="3.1" fill="#1673ff" opacity="0.79"/>
<rect x="1281.9" y="1052.6" width="1.8" height="1.4" fill="#0a27e8" opacity="0.77"/>
<rect x="1283.7" y="1097.2" width="1.8" height="11.4" fill="#0d3bf1"/>
<rect x="1283.7" y="1108.6" width="1.8" height="12.1" fill="#0a28ea"/>
<rect x="1283.7" y="1059.4" width="1.8" height="37.8" fill="url(#q2)"/>
<rect x="1285.4" y="1097.2" width="1.8" height="11.4" fill="#0921dd"/>
<rect x="1285.4" y="1108.6" width="1.8" height="12.1" fill="#081dd4"/>
<rect x="1287.2" y="1097.2" width="1.8" height="11.4" fill="#0925e5"/>
<rect x="1287.2" y="1108.6" width="1.8" height="12.1" fill="#0820da"/>
<rect x="1287.2" y="1073.8" width="1.8" height="23.4" fill="url(#q1)"/>
<rect x="1290.7" y="1097.2" width="1.8" height="11.4" fill="#1155fa"/>
<rect x="1290.7" y="1108.6" width="1.8" height="12.1" fill="#0d3cf2"/>
<rect x="1290.7" y="1066.8" width="1.8" height="30.4" fill="url(#q2)"/>
<rect x="1295.9" y="1097.2" width="1.8" height="11.4" fill="#0c33ef"/>
<rect x="1295.9" y="1108.6" width="1.8" height="12.1" fill="#0a25e5"/>
<rect x="1295.9" y="1063.2" width="1.8" height="34" fill="url(#q2)"/>
<rect x="1297.7" y="1097.2" width="1.8" height="11.4" fill="#081bd0"/>
<rect x="1297.7" y="1108.6" width="1.8" height="12.1" fill="#0718c9"/>
<rect x="1302.9" y="1097.2" width="1.8" height="11.4" fill="#1994ff"/>
<rect x="1302.9" y="1108.6" width="1.8" height="12.1" fill="#1463ff"/>
<rect x="1302.9" y="1050.6" width="1.8" height="46.6" fill="url(#q3)"/>
<rect x="1302.9" y="1060.3" width="1.8" height="3.2" fill="#1151f9" opacity="0.63"/>
<rect x="1302.9" y="1093.6" width="1.8" height="2.4" fill="#0a27ea" opacity="0.72"/>
<rect x="1302.9" y="1094.1" width="1.8" height="3" fill="#0e43f4" opacity="0.84"/>
<rect x="1302.9" y="1071.4" width="1.8" height="2.4" fill="#0e41f3" opacity="0.68"/>
<rect x="1308.2" y="1097.2" width="1.8" height="11.4" fill="#1db7ff"/>
<rect x="1308.2" y="1108.6" width="1.8" height="12.1" fill="#1780ff"/>
<rect x="1308.2" y="1041.5" width="1.8" height="55.7" fill="url(#q3)"/>
<rect x="1308.2" y="1059.3" width="1.8" height="2.1" fill="#1a97ff" opacity="0.85"/>
<rect x="1308.2" y="1074.7" width="1.8" height="2.3" fill="#1151f9" opacity="0.56"/>
<rect x="1308.2" y="1077" width="1.8" height="3.4" fill="#0d3af1" opacity="0.80"/>
<rect x="1308.2" y="1065.9" width="1.8" height="2.7" fill="#177fff" opacity="0.80"/>
<rect x="1309.9" y="1097.2" width="1.8" height="11.4" fill="#0f46f5"/>
<rect x="1309.9" y="1108.6" width="1.8" height="12.1" fill="#0b30ee"/>
<rect x="1309.9" y="1059.2" width="1.8" height="38" fill="url(#q2)"/>
<rect x="1313.4" y="1097.2" width="1.8" height="11.4" fill="#1674ff"/>
<rect x="1313.4" y="1108.6" width="1.8" height="12.1" fill="#1152f9"/>
<rect x="1313.4" y="1052" width="1.8" height="45.2" fill="url(#q3)"/>
<rect x="1313.4" y="1088.3" width="1.8" height="1.9" fill="#104af6" opacity="0.94"/>
<rect x="1313.4" y="1087.4" width="1.8" height="2" fill="#1258fb" opacity="0.67"/>
<rect x="1313.4" y="1091.9" width="1.8" height="2.9" fill="#135efd" opacity="0.61"/>
<rect x="1313.4" y="1072.4" width="1.8" height="1.4" fill="#0d3af1" opacity="0.69"/>
<rect x="1315.2" y="1097.2" width="1.8" height="11.4" fill="#0924e2"/>
<rect x="1315.2" y="1108.6" width="1.8" height="12.1" fill="#081fd8"/>
<rect x="1316.9" y="1097.2" width="1.8" height="11.4" fill="#1993ff"/>
<rect x="1316.9" y="1108.6" width="1.8" height="12.1" fill="#1463ff"/>
<rect x="1316.9" y="1049.3" width="1.8" height="47.9" fill="url(#q3)"/>
<rect x="1316.9" y="1092" width="1.8" height="3.3" fill="#0a29eb" opacity="0.64"/>
<rect x="1316.9" y="1069.3" width="1.8" height="1.9" fill="#1152f9" opacity="0.55"/>
<rect x="1316.9" y="1086" width="1.8" height="2.8" fill="#0924e2" opacity="0.59"/>
<rect x="1316.9" y="1079.3" width="1.8" height="2.3" fill="#156aff" opacity="0.63"/>
<rect x="1318.7" y="1097.2" width="1.8" height="11.4" fill="#54f7c6"/>
<rect x="1318.7" y="1108.6" width="1.8" height="12.1" fill="#27cff6"/>
<rect x="1318.7" y="1029.8" width="1.8" height="67.4" fill="url(#q5)"/>
<rect x="1318.7" y="1070.2" width="1.8" height="1.9" fill="#1fc0fe" opacity="0.56"/>
<rect x="1318.7" y="1055.4" width="1.8" height="3.1" fill="#1ba3ff" opacity="0.61"/>
<rect x="1318.7" y="1049.4" width="1.8" height="2" fill="#1465ff" opacity="0.69"/>
<rect x="1318.7" y="1084" width="1.8" height="3" fill="#1673ff" opacity="0.81"/>
<rect x="1318.7" y="1091.5" width="1.8" height="3.5" fill="#1ba1ff" opacity="0.70"/>
<rect x="1320.4" y="1097.2" width="1.8" height="11.4" fill="#0922df"/>
<rect x="1320.4" y="1108.6" width="1.8" height="12.1" fill="#081ed5"/>
<rect x="1325.7" y="1097.2" width="1.8" height="11.4" fill="#0717c8"/>
<rect x="1325.7" y="1108.6" width="1.8" height="12.1" fill="#0615c3"/>
<rect x="1327.4" y="1097.2" width="1.8" height="11.4" fill="#156cff"/>
<rect x="1327.4" y="1108.6" width="1.8" height="12.1" fill="#104ef8"/>
<rect x="1327.4" y="1050.3" width="1.8" height="46.9" fill="url(#q3)"/>
<rect x="1327.4" y="1077.9" width="1.8" height="2.1" fill="#0a28eb" opacity="0.78"/>
<rect x="1327.4" y="1078" width="1.8" height="2.9" fill="#1259fb" opacity="0.69"/>
<rect x="1327.4" y="1081.7" width="1.8" height="3.5" fill="#0b30ee" opacity="0.62"/>
<rect x="1327.4" y="1089.4" width="1.8" height="2.3" fill="#0a26e7" opacity="0.57"/>
<rect x="1330.9" y="1097.2" width="1.8" height="11.4" fill="#0716c6"/>
<rect x="1330.9" y="1108.6" width="1.8" height="12.1" fill="#0614c0"/>
<rect x="1332.7" y="1097.2" width="1.8" height="11.4" fill="#36eae7"/>
<rect x="1332.7" y="1108.6" width="1.8" height="12.1" fill="#1db6ff"/>
<rect x="1332.7" y="1038.6" width="1.8" height="58.6" fill="url(#q4)"/>
<rect x="1332.7" y="1054.6" width="1.8" height="2.6" fill="#1258fb" opacity="0.76"/>
<rect x="1332.7" y="1078.8" width="1.8" height="2" fill="#0f48f6" opacity="0.86"/>
<rect x="1332.7" y="1094.8" width="1.8" height="1.6" fill="#0f47f5" opacity="0.90"/>
<rect x="1332.7" y="1095.1" width="1.8" height="3.5" fill="#1464ff" opacity="0.79"/>
<rect x="1332.7" y="1091.5" width="1.8" height="1.4" fill="#0d37f0" opacity="0.89"/>
<rect x="1334.4" y="1097.2" width="1.8" height="11.4" fill="#36eae7"/>
<rect x="1334.4" y="1108.6" width="1.8" height="12.1" fill="#1db6ff"/>
<rect x="1334.4" y="1047" width="1.8" height="50.2" fill="url(#q4)"/>
<rect x="1334.4" y="1087.9" width="1.8" height="1.8" fill="#0c32ee" opacity="0.85"/>
<rect x="1334.4" y="1086.9" width="1.8" height="2.7" fill="#1679ff" opacity="0.79"/>
<rect x="1334.4" y="1068.2" width="1.8" height="2.8" fill="#135efd" opacity="0.64"/>
<rect x="1334.4" y="1088.5" width="1.8" height="2.8" fill="#21c3fc" opacity="0.62"/>
<rect x="1334.4" y="1069.3" width="1.8" height="2.4" fill="#1887ff" opacity="0.71"/>
<rect x="1337.9" y="1097.2" width="1.8" height="11.4" fill="#0719cc"/>
<rect x="1337.9" y="1108.6" width="1.8" height="12.1" fill="#0716c5"/>
<rect x="1339.7" y="1097.2" width="1.8" height="11.4" fill="#36eae7"/>
<rect x="1339.7" y="1108.6" width="1.8" height="12.1" fill="#1db6ff"/>
<rect x="1339.7" y="1046.9" width="1.8" height="50.3" fill="url(#q4)"/>
<rect x="1339.7" y="1094.8" width="1.8" height="3.5" fill="#1caaff" opacity="0.65"/>
<rect x="1339.7" y="1084.8" width="1.8" height="1.9" fill="#1ba0ff" opacity="0.79"/>
<rect x="1339.7" y="1086.2" width="1.8" height="2.6" fill="#1888ff" opacity="0.65"/>
<rect x="1339.7" y="1068.4" width="1.8" height="2.5" fill="#125afc" opacity="0.72"/>
<rect x="1339.7" y="1065.6" width="1.8" height="3.6" fill="#0d39f1" opacity="0.69"/>
<rect x="1341.4" y="1097.2" width="1.8" height="11.4" fill="#177dff"/>
<rect x="1341.4" y="1108.6" width="1.8" height="12.1" fill="#1257fb"/>
<rect x="1341.4" y="1048.5" width="1.8" height="48.7" fill="url(#q3)"/>
<rect x="1341.4" y="1064.5" width="1.8" height="1.9" fill="#0925e5" opacity="0.55"/>
<rect x="1341.4" y="1067.4" width="1.8" height="2.9" fill="#0f44f4" opacity="0.62"/>
<rect x="1341.4" y="1079.8" width="1.8" height="3" fill="#0f46f5" opacity="0.82"/>
<rect x="1341.4" y="1087.6" width="1.8" height="1.7" fill="#0922df" opacity="0.84"/>
<rect x="1343.2" y="1097.2" width="1.8" height="11.4" fill="#081cd2"/>
<rect x="1343.2" y="1108.6" width="1.8" height="12.1" fill="#0718ca"/>
<rect x="1344.9" y="1097.2" width="1.8" height="11.4" fill="#0e3ef2"/>
<rect x="1344.9" y="1108.6" width="1.8" height="12.1" fill="#0a2aec"/>
<rect x="1344.9" y="1060.6" width="1.8" height="36.6" fill="url(#q2)"/>
<rect x="1346.7" y="1097.2" width="1.8" height="11.4" fill="#1150f8"/>
<rect x="1346.7" y="1108.6" width="1.8" height="12.1" fill="#0d38f0"/>
<rect x="1346.7" y="1057.7" width="1.8" height="39.5" fill="url(#q2)"/>
<rect x="1348.4" y="1097.2" width="1.8" height="11.4" fill="#36eae7"/>
<rect x="1348.4" y="1108.6" width="1.8" height="12.1" fill="#1db6ff"/>
<rect x="1348.4" y="1034.3" width="1.8" height="62.9" fill="url(#q4)"/>
<rect x="1348.4" y="1081.3" width="1.8" height="3.2" fill="#1673ff" opacity="0.69"/>
<rect x="1348.4" y="1065.3" width="1.8" height="3.6" fill="#1888ff" opacity="0.63"/>
<rect x="1348.4" y="1062.2" width="1.8" height="2.8" fill="#0e3ff3" opacity="0.74"/>
<rect x="1348.4" y="1072.2" width="1.8" height="2.2" fill="#135ffd" opacity="0.78"/>
<rect x="1348.4" y="1054" width="1.8" height="1.7" fill="#1673ff" opacity="0.75"/>
<rect x="1350.2" y="1097.2" width="1.8" height="11.4" fill="#081fd8"/>
<rect x="1350.2" y="1108.6" width="1.8" height="12.1" fill="#081bcf"/>
<rect x="1351.9" y="1097.2" width="1.8" height="11.4" fill="#071ace"/>
<rect x="1351.9" y="1108.6" width="1.8" height="12.1" fill="#0717c7"/>
<rect x="1353.7" y="1097.2" width="1.8" height="11.4" fill="#36eae7"/>
<rect x="1353.7" y="1108.6" width="1.8" height="12.1" fill="#1db6ff"/>
<rect x="1353.7" y="1035.9" width="1.8" height="61.3" fill="url(#q4)"/>
<rect x="1353.7" y="1060" width="1.8" height="3.5" fill="#177cff" opacity="0.70"/>
<rect x="1353.7" y="1070.1" width="1.8" height="2.5" fill="#1a99ff" opacity="0.86"/>
<rect x="1353.7" y="1090.8" width="1.8" height="2.5" fill="#114ff8" opacity="0.74"/>
<rect x="1353.7" y="1071.9" width="1.8" height="1.8" fill="#1990ff" opacity="0.66"/>
<rect x="1353.7" y="1060.6" width="1.8" height="2.1" fill="#156bff" opacity="0.67"/>
<rect x="1355.4" y="1097.2" width="1.8" height="11.4" fill="#1a9eff"/>
<rect x="1355.4" y="1108.6" width="1.8" height="12.1" fill="#156bff"/>
<rect x="1355.4" y="1049.2" width="1.8" height="48" fill="url(#q3)"/>
<rect x="1355.4" y="1071.9" width="1.8" height="2.8" fill="#0a26e7" opacity="0.79"/>
<rect x="1355.4" y="1081.6" width="1.8" height="2.7" fill="#0924e3" opacity="0.87"/>
<rect x="1355.4" y="1081.4" width="1.8" height="2.2" fill="#1259fb" opacity="0.70"/>
<rect x="1355.4" y="1069.6" width="1.8" height="3" fill="#1462fe" opacity="0.77"/>
<rect x="1357.2" y="1097.2" width="1.8" height="11.4" fill="#0820da"/>
<rect x="1357.2" y="1108.6" width="1.8" height="12.1" fill="#081cd1"/>
<rect x="1358.9" y="1097.2" width="1.8" height="11.4" fill="#36eae7"/>
<rect x="1358.9" y="1108.6" width="1.8" height="12.1" fill="#1db6ff"/>
<rect x="1358.9" y="1033.1" width="1.8" height="64.1" fill="url(#q4)"/>
<rect x="1358.9" y="1043.1" width="1.8" height="2.1" fill="#1783ff" opacity="0.87"/>
<rect x="1358.9" y="1093.9" width="1.8" height="3" fill="#1887ff" opacity="0.63"/>
<rect x="1358.9" y="1094.8" width="1.8" height="3.3" fill="#156eff" opacity="0.56"/>
<rect x="1358.9" y="1063.9" width="1.8" height="1.8" fill="#1a9cff" opacity="0.55"/>
<rect x="1358.9" y="1063.7" width="1.8" height="3.3" fill="#1a9cff" opacity="0.63"/>
<rect x="1360.7" y="1097.2" width="1.8" height="11.4" fill="#0a26e6"/>
<rect x="1360.7" y="1108.6" width="1.8" height="12.1" fill="#0920db"/>
<rect x="1360.7" y="1063.1" width="1.8" height="34.1" fill="url(#q1)"/>
<rect x="1362.4" y="1097.2" width="1.8" height="11.4" fill="#104df7"/>
<rect x="1362.4" y="1108.6" width="1.8" height="12.1" fill="#0c36f0"/>
<rect x="1362.4" y="1059.4" width="1.8" height="37.8" fill="url(#q2)"/>
<rect x="1364.2" y="1097.2" width="1.8" height="11.4" fill="#36eae7"/>
<rect x="1364.2" y="1108.6" width="1.8" height="12.1" fill="#1db6ff"/>
<rect x="1364.2" y="1045.1" width="1.8" height="52.1" fill="url(#q4)"/>
<rect x="1364.2" y="1067.8" width="1.8" height="2.1" fill="#1783ff" opacity="0.83"/>
<rect x="1364.2" y="1066.4" width="1.8" height="1.9" fill="#198eff" opacity="0.82"/>
<rect x="1364.2" y="1091.4" width="1.8" height="2.3" fill="#1fc0fe" opacity="0.92"/>
<rect x="1364.2" y="1060.7" width="1.8" height="2" fill="#1463ff" opacity="0.71"/>
<rect x="1364.2" y="1055.2" width="1.8" height="2.7" fill="#135ffd" opacity="0.85"/>
<rect x="1365.9" y="1097.2" width="1.8" height="11.4" fill="#081cd2"/>
<rect x="1365.9" y="1108.6" width="1.8" height="12.1" fill="#0718ca"/>
<rect x="1367.7" y="1097.2" width="1.8" height="11.4" fill="#36eae7"/>
<rect x="1367.7" y="1108.6" width="1.8" height="12.1" fill="#1db6ff"/>
<rect x="1367.7" y="1037.9" width="1.8" height="59.3" fill="url(#q4)"/>
<rect x="1367.7" y="1085.1" width="1.8" height="2.2" fill="#1db6ff" opacity="0.86"/>
<rect x="1367.7" y="1073.9" width="1.8" height="2.9" fill="#1256fa" opacity="0.83"/>
<rect x="1367.7" y="1048.3" width="1.8" height="3.5" fill="#1b9fff" opacity="0.56"/>
<rect x="1367.7" y="1093.2" width="1.8" height="3.4" fill="#1569ff" opacity="0.71"/>
<rect x="1367.7" y="1072.6" width="1.8" height="2.1" fill="#1994ff" opacity="0.64"/>
<rect x="1369.4" y="1097.2" width="1.8" height="11.4" fill="#0b30ee"/>
<rect x="1369.4" y="1108.6" width="1.8" height="12.1" fill="#0925e4"/>
<rect x="1369.4" y="1069.1" width="1.8" height="28.1" fill="url(#q2)"/>
<rect x="1371.2" y="1097.2" width="1.8" height="11.4" fill="#36eae7"/>
<rect x="1371.2" y="1108.6" width="1.8" height="12.1" fill="#1db6ff"/>
<rect x="1371.2" y="1044.1" width="1.8" height="53.1" fill="url(#q4)"/>
<rect x="1371.2" y="1091.7" width="1.8" height="1.7" fill="#1ba3ff" opacity="0.75"/>
<rect x="1371.2" y="1081" width="1.8" height="3.2" fill="#0f48f6" opacity="0.94"/>
<rect x="1371.2" y="1083.2" width="1.8" height="2.3" fill="#1cadff" opacity="0.65"/>
<rect x="1371.2" y="1083.9" width="1.8" height="3" fill="#1ebdff" opacity="0.61"/>
<rect x="1371.2" y="1095.1" width="1.8" height="2.9" fill="#20c1fd" opacity="0.64"/>
<rect x="1376.4" y="1097.2" width="1.8" height="11.4" fill="#1153f9"/>
<rect x="1376.4" y="1108.6" width="1.8" height="12.1" fill="#0d3bf1"/>
<rect x="1376.4" y="1059.8" width="1.8" height="37.4" fill="url(#q2)"/>
<rect x="1378.2" y="1097.2" width="1.8" height="11.4" fill="#1db7ff"/>
<rect x="1378.2" y="1108.6" width="1.8" height="12.1" fill="#1780ff"/>
<rect x="1378.2" y="1053.5" width="1.8" height="43.7" fill="url(#q3)"/>
<rect x="1378.2" y="1076" width="1.8" height="3.3" fill="#0d3df2" opacity="0.86"/>
<rect x="1378.2" y="1087.7" width="1.8" height="2" fill="#1153f9" opacity="0.71"/>
<rect x="1378.2" y="1065.7" width="1.8" height="2.7" fill="#156cff" opacity="0.77"/>
<rect x="1378.2" y="1091.7" width="1.8" height="2.8" fill="#0b2eed" opacity="0.59"/>
<rect x="1381.7" y="1097.2" width="1.8" height="11.4" fill="#fcb70f"/>
<rect x="1381.7" y="1108.6" width="1.8" height="12.1" fill="#c4f84d"/>
<rect x="1381.7" y="1009.9" width="1.8" height="87.3" fill="url(#q7)"/>
<rect x="1381.7" y="1087.8" width="1.8" height="2.2" fill="#24c9f9" opacity="0.70"/>
<rect x="1381.7" y="1048.6" width="1.8" height="2.1" fill="#36eae7" opacity="0.71"/>
<rect x="1381.7" y="1082.5" width="1.8" height="2.8" fill="#1a9eff" opacity="0.75"/>
<rect x="1381.7" y="1057.5" width="1.8" height="1.8" fill="#36eae7" opacity="0.60"/>
<rect x="1381.7" y="1078.4" width="1.8" height="1.9" fill="#31e1ec" opacity="0.63"/>
<rect x="1381.7" y="1072.8" width="1.8" height="2.7" fill="#36eae7" opacity="0.56"/>
<rect x="1381.7" y="1059.7" width="1.8" height="1.8" fill="#36eae7" opacity="0.85"/>
<rect x="1381.7" y="1056.9" width="1.8" height="2.5" fill="#36eae7" opacity="0.65"/>
<rect x="1383.4" y="1097.2" width="1.8" height="11.4" fill="#fcb70f"/>
<rect x="1383.4" y="1108.6" width="1.8" height="12.1" fill="#c4f84d"/>
<rect x="1383.4" y="1017.2" width="1.8" height="80" fill="url(#q7)"/>
<rect x="1383.4" y="1056.6" width="1.8" height="1.6" fill="#36eae7" opacity="0.81"/>
<rect x="1383.4" y="1053.1" width="1.8" height="3.4" fill="#36eae7" opacity="0.57"/>
<rect x="1383.4" y="1044.8" width="1.8" height="3" fill="#36eae7" opacity="0.64"/>
<rect x="1383.4" y="1055.7" width="1.8" height="3.5" fill="#36eae7" opacity="0.70"/>
<rect x="1383.4" y="1079" width="1.8" height="2.8" fill="#36eae7" opacity="0.72"/>
<rect x="1383.4" y="1091.8" width="1.8" height="2.9" fill="#36eae7" opacity="0.91"/>
<rect x="1383.4" y="1030.8" width="1.8" height="1.5" fill="#1ca8ff" opacity="0.66"/>
<rect x="1383.4" y="1093.7" width="1.8" height="2.2" fill="#36eae7" opacity="0.79"/>
<rect x="1385.2" y="1097.2" width="1.8" height="11.4" fill="#fcb70f"/>
<rect x="1385.2" y="1108.6" width="1.8" height="12.1" fill="#c4f84d"/>
<rect x="1385.2" y="1010.3" width="1.8" height="86.9" fill="url(#q7)"/>
<rect x="1385.2" y="1052.8" width="1.8" height="3" fill="#36eae7" opacity="0.57"/>
<rect x="1385.2" y="1071.5" width="1.8" height="2.2" fill="#36eae7" opacity="0.60"/>
<rect x="1385.2" y="1024.3" width="1.8" height="2.2" fill="#36eae7" opacity="0.77"/>
<rect x="1385.2" y="1076.3" width="1.8" height="2.7" fill="#36eae7" opacity="0.79"/>
<rect x="1385.2" y="1068.9" width="1.8" height="1.9" fill="#36eae7" opacity="0.66"/>
<rect x="1385.2" y="1075.7" width="1.8" height="1.6" fill="#36eae7" opacity="0.57"/>
<rect x="1385.2" y="1060.6" width="1.8" height="3.3" fill="#36eae7" opacity="0.64"/>
<rect x="1385.2" y="1071.7" width="1.8" height="3.2" fill="#1a9cff" opacity="0.58"/>
<rect x="1386.9" y="1097.2" width="1.8" height="11.4" fill="#1a9dff"/>
<rect x="1386.9" y="1108.6" width="1.8" height="12.1" fill="#156aff"/>
<rect x="1386.9" y="1053.6" width="1.8" height="43.6" fill="url(#q3)"/>
<rect x="1386.9" y="1074.2" width="1.8" height="1.7" fill="#0d39f1" opacity="0.69"/>
<rect x="1386.9" y="1070.3" width="1.8" height="2.4" fill="#0924e2" opacity="0.88"/>
<rect x="1386.9" y="1088.6" width="1.8" height="1.7" fill="#104cf7" opacity="0.73"/>
<rect x="1386.9" y="1072" width="1.8" height="3.3" fill="#0f44f4" opacity="0.63"/>
<rect x="1388.7" y="1097.2" width="1.8" height="11.4" fill="#0921dd"/>
<rect x="1388.7" y="1108.6" width="1.8" height="12.1" fill="#081dd4"/>
<rect x="1390.4" y="1097.2" width="1.8" height="11.4" fill="#081dd5"/>
<rect x="1390.4" y="1108.6" width="1.8" height="12.1" fill="#0719cd"/>
<rect x="1392.2" y="1097.2" width="1.8" height="11.4" fill="#5cf8be"/>
<rect x="1392.2" y="1108.6" width="1.8" height="12.1" fill="#2ad4f3"/>
<rect x="1392.2" y="1042.5" width="1.8" height="54.7" fill="url(#q5)"/>
<rect x="1392.2" y="1092.3" width="1.8" height="1.9" fill="#2edcef" opacity="0.90"/>
<rect x="1392.2" y="1074.6" width="1.8" height="2.1" fill="#2bd6f2" opacity="0.57"/>
<rect x="1392.2" y="1094.8" width="1.8" height="1.5" fill="#1677ff" opacity="0.64"/>
<rect x="1392.2" y="1069.1" width="1.8" height="3.5" fill="#29d2f4" opacity="0.66"/>
<rect x="1392.2" y="1057.7" width="1.8" height="3.6" fill="#104ef8" opacity="0.74"/>
<rect x="1393.9" y="1097.2" width="1.8" height="11.4" fill="#5cf8be"/>
<rect x="1393.9" y="1108.6" width="1.8" height="12.1" fill="#2ad4f3"/>
<rect x="1393.9" y="1038.7" width="1.8" height="58.5" fill="url(#q5)"/>
<rect x="1393.9" y="1075.6" width="1.8" height="2.6" fill="#1cafff" opacity="0.86"/>
<rect x="1393.9" y="1072.6" width="1.8" height="2.9" fill="#2ad4f3" opacity="0.79"/>
<rect x="1393.9" y="1053" width="1.8" height="2" fill="#156eff" opacity="0.90"/>
<rect x="1393.9" y="1090.4" width="1.8" height="2.9" fill="#1ebeff" opacity="0.60"/>
<rect x="1393.9" y="1045.6" width="1.8" height="2.4" fill="#0f49f6" opacity="0.67"/>
<rect x="1395.7" y="1097.2" width="1.8" height="11.4" fill="#1db9ff"/>
<rect x="1395.7" y="1108.6" width="1.8" height="12.1" fill="#1781ff"/>
<rect x="1395.7" y="1054.5" width="1.8" height="42.7" fill="url(#q3)"/>
<rect x="1395.7" y="1084.9" width="1.8" height="1.8" fill="#0e40f3" opacity="0.88"/>
<rect x="1395.7" y="1090.5" width="1.8" height="2.5" fill="#1152f9" opacity="0.60"/>
<rect x="1395.7" y="1084.2" width="1.8" height="3.4" fill="#1673ff" opacity="0.88"/>
<rect x="1395.7" y="1090.1" width="1.8" height="3.4" fill="#0c35ef" opacity="0.59"/>
<rect x="1399.2" y="1097.2" width="1.8" height="11.4" fill="#0922df"/>
<rect x="1399.2" y="1108.6" width="1.8" height="12.1" fill="#081dd5"/>
<rect x="1400.9" y="1097.2" width="1.8" height="11.4" fill="#0e3ff3"/>
<rect x="1400.9" y="1108.6" width="1.8" height="12.1" fill="#0a2aec"/>
<rect x="1400.9" y="1061.8" width="1.8" height="35.4" fill="url(#q2)"/>
<rect x="1402.7" y="1097.2" width="1.8" height="11.4" fill="#0a27ea"/>
<rect x="1402.7" y="1108.6" width="1.8" height="12.1" fill="#0922de"/>
<rect x="1402.7" y="1064.7" width="1.8" height="32.5" fill="url(#q1)"/>
<rect x="1404.4" y="1097.2" width="1.8" height="11.4" fill="#071acd"/>
<rect x="1404.4" y="1108.6" width="1.8" height="12.1" fill="#0717c6"/>
<rect x="1407.9" y="1097.2" width="1.8" height="11.4" fill="#0615c3"/>
<rect x="1407.9" y="1108.6" width="1.8" height="12.1" fill="#0613be"/>
<rect x="1409.7" y="1097.2" width="1.8" height="11.4" fill="#0925e4"/>
<rect x="1409.7" y="1108.6" width="1.8" height="12.1" fill="#081fd9"/>
<rect x="1409.7" y="1066" width="1.8" height="31.2" fill="url(#q1)"/>
<rect x="1411.4" y="1097.2" width="1.8" height="11.4" fill="#071acd"/>
<rect x="1411.4" y="1108.6" width="1.8" height="12.1" fill="#0717c7"/>
<rect x="1413.2" y="1097.2" width="1.8" height="11.4" fill="#faeb14"/>
<rect x="1413.2" y="1108.6" width="1.8" height="12.1" fill="#a8fe6a"/>
<rect x="1413.2" y="1013.3" width="1.8" height="83.9" fill="url(#q7)"/>
<rect x="1413.2" y="1063.8" width="1.8" height="1.6" fill="#31e0ec" opacity="0.70"/>
<rect x="1413.2" y="1093.8" width="1.8" height="2.4" fill="#36eae7" opacity="0.81"/>
<rect x="1413.2" y="1045" width="1.8" height="1.9" fill="#35e9e8" opacity="0.76"/>
<rect x="1413.2" y="1065.8" width="1.8" height="3.1" fill="#36eae7" opacity="0.70"/>
<rect x="1413.2" y="1094.7" width="1.8" height="2.3" fill="#36eae7" opacity="0.61"/>
<rect x="1413.2" y="1021.6" width="1.8" height="2.7" fill="#2bd5f2" opacity="0.66"/>
<rect x="1413.2" y="1035.9" width="1.8" height="1.7" fill="#36eae7" opacity="0.64"/>
<rect x="1414.9" y="1097.2" width="1.8" height="11.4" fill="#faeb14"/>
<rect x="1414.9" y="1108.6" width="1.8" height="12.1" fill="#a8fe6a"/>
<rect x="1414.9" y="1017.8" width="1.8" height="79.4" fill="url(#q7)"/>
<rect x="1414.9" y="1078.3" width="1.8" height="1.7" fill="#26cdf7" opacity="0.87"/>
<rect x="1414.9" y="1075.9" width="1.8" height="3" fill="#36eae7" opacity="0.75"/>
<rect x="1414.9" y="1032.8" width="1.8" height="2.6" fill="#1ba0ff" opacity="0.81"/>
<rect x="1414.9" y="1029" width="1.8" height="3.4" fill="#36eae7" opacity="0.79"/>
<rect x="1414.9" y="1089.1" width="1.8" height="3.1" fill="#36eae7" opacity="0.56"/>
<rect x="1414.9" y="1069.1" width="1.8" height="3.1" fill="#36eae7" opacity="0.92"/>
<rect x="1414.9" y="1060.9" width="1.8" height="3" fill="#1781ff" opacity="0.94"/>
<rect x="1416.7" y="1097.2" width="1.8" height="11.4" fill="#faeb14"/>
<rect x="1416.7" y="1108.6" width="1.8" height="12.1" fill="#a8fe6a"/>
<rect x="1416.7" y="1022.8" width="1.8" height="74.4" fill="url(#q7)"/>
<rect x="1416.7" y="1079.2" width="1.8" height="2.1" fill="#36eae7" opacity="0.80"/>
<rect x="1416.7" y="1074.3" width="1.8" height="3.4" fill="#2edbef" opacity="0.59"/>
<rect x="1416.7" y="1046.8" width="1.8" height="3.1" fill="#36eae7" opacity="0.74"/>
<rect x="1416.7" y="1088.8" width="1.8" height="1.9" fill="#1cadff" opacity="0.57"/>
<rect x="1416.7" y="1087.2" width="1.8" height="2.7" fill="#24c9f9" opacity="0.74"/>
<rect x="1416.7" y="1071.4" width="1.8" height="1.7" fill="#21c3fc" opacity="0.87"/>
<rect x="1416.7" y="1065.6" width="1.8" height="2.6" fill="#2ad3f3" opacity="0.57"/>
<rect x="1418.4" y="1097.2" width="1.8" height="11.4" fill="#0f48f6"/>
<rect x="1418.4" y="1108.6" width="1.8" height="12.1" fill="#0c32ee"/>
<rect x="1418.4" y="1065.3" width="1.8" height="31.9" fill="url(#q2)"/>
<rect x="1420.2" y="1097.2" width="1.8" height="11.4" fill="#0a29eb"/>
<rect x="1420.2" y="1108.6" width="1.8" height="12.1" fill="#0922df"/>
<rect x="1420.2" y="1064.1" width="1.8" height="33.1" fill="url(#q1)"/>
<rect x="1421.9" y="1097.2" width="1.8" height="11.4" fill="#1db3ff"/>
<rect x="1421.9" y="1108.6" width="1.8" height="12.1" fill="#177cff"/>
<rect x="1421.9" y="1049.2" width="1.8" height="48" fill="url(#q3)"/>
<rect x="1421.9" y="1091" width="1.8" height="2.6" fill="#0f48f6" opacity="0.88"/>
<rect x="1421.9" y="1071.5" width="1.8" height="2.2" fill="#104ff8" opacity="0.57"/>
<rect x="1421.9" y="1094.2" width="1.8" height="3.1" fill="#177dff" opacity="0.55"/>
<rect x="1421.9" y="1092.4" width="1.8" height="3.4" fill="#0b2cec" opacity="0.70"/>
<rect x="1423.7" y="1097.2" width="1.8" height="11.4" fill="#32e3eb"/>
<rect x="1423.7" y="1108.6" width="1.8" height="12.1" fill="#1caeff"/>
<rect x="1423.7" y="1049.4" width="1.8" height="47.8" fill="url(#q4)"/>
<rect x="1423.7" y="1089.9" width="1.8" height="3.2" fill="#0e40f3" opacity="0.57"/>
<rect x="1423.7" y="1063.2" width="1.8" height="2.7" fill="#1992ff" opacity="0.84"/>
<rect x="1423.7" y="1063.2" width="1.8" height="3.3" fill="#177cff" opacity="0.87"/>
<rect x="1423.7" y="1090.7" width="1.8" height="3.2" fill="#1994ff" opacity="0.75"/>
<rect x="1423.7" y="1078.2" width="1.8" height="3.2" fill="#1783ff" opacity="0.62"/>
<rect x="1425.4" y="1097.2" width="1.8" height="11.4" fill="#71faa6"/>
<rect x="1425.4" y="1108.6" width="1.8" height="12.1" fill="#30dfed"/>
<rect x="1425.4" y="1037.6" width="1.8" height="59.6" fill="url(#q5)"/>
<rect x="1425.4" y="1053.7" width="1.8" height="3.6" fill="#2dd9f0" opacity="0.60"/>
<rect x="1425.4" y="1047.3" width="1.8" height="2.7" fill="#1ba3ff" opacity="0.81"/>
<rect x="1425.4" y="1079.7" width="1.8" height="1.6" fill="#1a9dff" opacity="0.69"/>
<rect x="1425.4" y="1073.4" width="1.8" height="2.5" fill="#36eae7" opacity="0.81"/>
<rect x="1425.4" y="1081.6" width="1.8" height="2.9" fill="#1ebbff" opacity="0.59"/>
<rect x="1425.4" y="1060.4" width="1.8" height="2.3" fill="#1361fe" opacity="0.67"/>
<rect x="1427.2" y="1097.2" width="1.8" height="11.4" fill="#1db3ff"/>
<rect x="1427.2" y="1108.6" width="1.8" height="12.1" fill="#177cff"/>
<rect x="1427.2" y="1055.8" width="1.8" height="41.4" fill="url(#q3)"/>
<rect x="1427.2" y="1088.5" width="1.8" height="1.5" fill="#0a27e9" opacity="0.65"/>
<rect x="1427.2" y="1078.1" width="1.8" height="2.7" fill="#1152f9" opacity="0.85"/>
<rect x="1427.2" y="1093.3" width="1.8" height="2.4" fill="#0d39f1" opacity="0.70"/>
<rect x="1427.2" y="1070.7" width="1.8" height="3.3" fill="#1258fb" opacity="0.64"/>
<rect x="1428.9" y="1097.2" width="1.8" height="11.4" fill="#20c2fd"/>
<rect x="1428.9" y="1108.6" width="1.8" height="12.1" fill="#188aff"/>
<rect x="1428.9" y="1048.5" width="1.8" height="48.7" fill="url(#q4)"/>
<rect x="1428.9" y="1095.2" width="1.8" height="1.7" fill="#1569ff" opacity="0.94"/>
<rect x="1428.9" y="1067" width="1.8" height="2.7" fill="#1153f9" opacity="0.94"/>
<rect x="1428.9" y="1091.3" width="1.8" height="3.5" fill="#0f48f6" opacity="0.79"/>
<rect x="1428.9" y="1089.6" width="1.8" height="2.8" fill="#0f44f4" opacity="0.84"/>
<rect x="1430.7" y="1097.2" width="1.8" height="11.4" fill="#cdf644"/>
<rect x="1430.7" y="1108.6" width="1.8" height="12.1" fill="#75faa3"/>
<rect x="1430.7" y="1020.4" width="1.8" height="76.8" fill="url(#q6)"/>
<rect x="1430.7" y="1036.5" width="1.8" height="1.7" fill="#36eae7" opacity="0.92"/>
<rect x="1430.7" y="1092.8" width="1.8" height="1.6" fill="#36eae7" opacity="0.79"/>
<rect x="1430.7" y="1075.9" width="1.8" height="3.3" fill="#36eae7" opacity="0.60"/>
<rect x="1430.7" y="1047.2" width="1.8" height="3.6" fill="#135ffd" opacity="0.74"/>
<rect x="1430.7" y="1073.7" width="1.8" height="1.8" fill="#36eae7" opacity="0.68"/>
<rect x="1430.7" y="1076.8" width="1.8" height="3" fill="#1db8ff" opacity="0.71"/>
<rect x="1430.7" y="1072.9" width="1.8" height="2.2" fill="#32e2eb" opacity="0.94"/>
<rect x="1432.4" y="1097.2" width="1.8" height="11.4" fill="#41f5dc"/>
<rect x="1432.4" y="1108.6" width="1.8" height="12.1" fill="#21c4fc"/>
<rect x="1432.4" y="1037.7" width="1.8" height="59.5" fill="url(#q4)"/>
<rect x="1432.4" y="1079.3" width="1.8" height="1.8" fill="#1256fa" opacity="0.72"/>
<rect x="1432.4" y="1078.6" width="1.8" height="2.6" fill="#21c3fc" opacity="0.75"/>
<rect x="1432.4" y="1072.9" width="1.8" height="2.1" fill="#0d3cf2" opacity="0.86"/>
<rect x="1432.4" y="1081" width="1.8" height="3.4" fill="#0e42f4" opacity="0.90"/>
<rect x="1432.4" y="1089.5" width="1.8" height="2.1" fill="#1db6ff" opacity="0.66"/>
<rect x="1434.2" y="1097.2" width="1.8" height="11.4" fill="#4bf6d1"/>
<rect x="1434.2" y="1108.6" width="1.8" height="12.1" fill="#24caf9"/>
<rect x="1434.2" y="1044.6" width="1.8" height="52.6" fill="url(#q4)"/>
<rect x="1434.2" y="1063.4" width="1.8" height="3.3" fill="#1cafff" opacity="0.58"/>
<rect x="1434.2" y="1062.3" width="1.8" height="3.2" fill="#125afc" opacity="0.74"/>
<rect x="1434.2" y="1068.3" width="1.8" height="3" fill="#1ba0ff" opacity="0.78"/>
<rect x="1434.2" y="1080.9" width="1.8" height="2.6" fill="#21c3fc" opacity="0.81"/>
<rect x="1434.2" y="1074.2" width="1.8" height="3.4" fill="#27cef6" opacity="0.77"/>
<rect x="1435.9" y="1097.2" width="1.8" height="11.4" fill="#79fb9f"/>
<rect x="1435.9" y="1108.6" width="1.8" height="12.1" fill="#32e3eb"/>
<rect x="1435.9" y="1038.8" width="1.8" height="58.4" fill="url(#q5)"/>
<rect x="1435.9" y="1067.8" width="1.8" height="2.7" fill="#1781ff" opacity="0.86"/>
<rect x="1435.9" y="1079" width="1.8" height="3.1" fill="#1db3ff" opacity="0.69"/>
<rect x="1435.9" y="1082.3" width="1.8" height="2.4" fill="#2cd8f1" opacity="0.85"/>
<rect x="1435.9" y="1045.8" width="1.8" height="3" fill="#1ebfff" opacity="0.83"/>
<rect x="1435.9" y="1053.7" width="1.8" height="2.8" fill="#1ca9ff" opacity="0.83"/>
<rect x="1435.9" y="1093.3" width="1.8" height="1.9" fill="#1256fa" opacity="0.82"/>
<rect x="1437.7" y="1097.2" width="1.8" height="11.4" fill="#1ebbff"/>
<rect x="1437.7" y="1108.6" width="1.8" height="12.1" fill="#1783ff"/>
<rect x="1437.7" y="1055.1" width="1.8" height="42.1" fill="url(#q3)"/>
<rect x="1437.7" y="1085.3" width="1.8" height="1.6" fill="#1463ff" opacity="0.61"/>
<rect x="1437.7" y="1076" width="1.8" height="2.5" fill="#0e41f3" opacity="0.79"/>
<rect x="1437.7" y="1075.6" width="1.8" height="1.5" fill="#0a26e8" opacity="0.89"/>
<rect x="1437.7" y="1070.4" width="1.8" height="2.3" fill="#1993ff" opacity="0.62"/>
<rect x="1439.4" y="1097.2" width="1.8" height="11.4" fill="#0f49f6"/>
<rect x="1439.4" y="1108.6" width="1.8" height="12.1" fill="#0c32ee"/>
<rect x="1439.4" y="1066.4" width="1.8" height="30.8" fill="url(#q2)"/>
<rect x="1441.2" y="1097.2" width="1.8" height="11.4" fill="#104df7"/>
<rect x="1441.2" y="1108.6" width="1.8" height="12.1" fill="#0c36f0"/>
<rect x="1441.2" y="1068.4" width="1.8" height="28.8" fill="url(#q2)"/>
<rect x="1442.9" y="1097.2" width="1.8" height="11.4" fill="#0b2fed"/>
<rect x="1442.9" y="1108.6" width="1.8" height="12.1" fill="#0924e3"/>
<rect x="1442.9" y="1059.3" width="1.8" height="37.9" fill="url(#q2)"/>
<rect x="1444.7" y="1097.2" width="1.8" height="11.4" fill="#081cd3"/>
<rect x="1444.7" y="1108.6" width="1.8" height="12.1" fill="#0719cb"/>
<rect x="1446.4" y="1097.2" width="1.8" height="11.4" fill="#081cd2"/>
<rect x="1446.4" y="1108.6" width="1.8" height="12.1" fill="#0719cb"/>
<rect x="1448.2" y="1097.2" width="1.8" height="11.4" fill="#1678ff"/>
<rect x="1448.2" y="1108.6" width="1.8" height="12.1" fill="#1154fa"/>
<rect x="1448.2" y="1059.8" width="1.8" height="37.4" fill="url(#q3)"/>
<rect x="1448.2" y="1080.3" width="1.8" height="2.6" fill="#0d3bf1" opacity="0.92"/>
<rect x="1448.2" y="1090.1" width="1.8" height="1.7" fill="#0d39f1" opacity="0.95"/>
<rect x="1448.2" y="1095" width="1.8" height="3.1" fill="#1152f9" opacity="0.85"/>
<rect x="1448.2" y="1093.9" width="1.8" height="2.7" fill="#104df7" opacity="0.77"/>
<rect x="1449.9" y="1097.2" width="1.8" height="11.4" fill="#0a27e9"/>
<rect x="1449.9" y="1108.6" width="1.8" height="12.1" fill="#0922dd"/>
<rect x="1449.9" y="1075.5" width="1.8" height="21.7" fill="url(#q1)"/>
<rect x="1451.7" y="1097.2" width="1.8" height="11.4" fill="#0a28ea"/>
<rect x="1451.7" y="1108.6" width="1.8" height="12.1" fill="#0922de"/>
<rect x="1451.7" y="1074.5" width="1.8" height="22.7" fill="url(#q1)"/>
<rect x="1453.4" y="1097.2" width="1.8" height="11.4" fill="#1674ff"/>
<rect x="1453.4" y="1108.6" width="1.8" height="12.1" fill="#1152f9"/>
<rect x="1453.4" y="1062.1" width="1.8" height="35.1" fill="url(#q3)"/>
<rect x="1453.4" y="1078" width="1.8" height="1.7" fill="#104af6" opacity="0.63"/>
<rect x="1453.4" y="1083.8" width="1.8" height="3.5" fill="#125afc" opacity="0.58"/>
<rect x="1453.4" y="1067.8" width="1.8" height="3.2" fill="#0924e2" opacity="0.81"/>
<rect x="1453.4" y="1091.8" width="1.8" height="2.3" fill="#0d37f0" opacity="0.88"/>
<rect x="1455.2" y="1097.2" width="1.8" height="11.4" fill="#0718ca"/>
<rect x="1455.2" y="1108.6" width="1.8" height="12.1" fill="#0715c4"/>
<rect x="1456.9" y="1097.2" width="1.8" height="11.4" fill="#135ffd"/>
<rect x="1456.9" y="1108.6" width="1.8" height="12.1" fill="#0f45f5"/>
<rect x="1456.9" y="1057.3" width="1.8" height="39.9" fill="url(#q2)"/>
<rect x="1462.2" y="1097.2" width="1.8" height="11.4" fill="#081ed6"/>
<rect x="1462.2" y="1108.6" width="1.8" height="12.1" fill="#071ace"/>
<rect x="1463.9" y="1097.2" width="1.8" height="11.4" fill="#0717c7"/>
<rect x="1463.9" y="1108.6" width="1.8" height="12.1" fill="#0614c1"/>
<rect x="1465.7" y="1097.2" width="1.8" height="11.4" fill="#0615c3"/>
<rect x="1465.7" y="1108.6" width="1.8" height="12.1" fill="#0612be"/>
<rect x="1467.4" y="1097.2" width="1.8" height="11.4" fill="#0f48f6"/>
<rect x="1467.4" y="1108.6" width="1.8" height="12.1" fill="#0c32ee"/>
<rect x="1467.4" y="1059.5" width="1.8" height="37.7" fill="url(#q2)"/>
<rect x="1469.2" y="1097.2" width="1.8" height="11.4" fill="#071ace"/>
<rect x="1469.2" y="1108.6" width="1.8" height="12.1" fill="#0717c7"/>
<rect x="1470.9" y="1097.2" width="1.8" height="11.4" fill="#0925e4"/>
<rect x="1470.9" y="1108.6" width="1.8" height="12.1" fill="#081fd9"/>
<rect x="1470.9" y="1066.8" width="1.8" height="30.4" fill="url(#q1)"/>
<rect x="1472.7" y="1097.2" width="1.8" height="11.4" fill="#0a27e8"/>
<rect x="1472.7" y="1108.6" width="1.8" height="12.1" fill="#0921dd"/>
<rect x="1472.7" y="1075" width="1.8" height="22.2" fill="url(#q1)"/>
<rect x="1474.4" y="1097.2" width="1.8" height="11.4" fill="#1255fa"/>
<rect x="1474.4" y="1108.6" width="1.8" height="12.1" fill="#0d3df2"/>
<rect x="1474.4" y="1062.2" width="1.8" height="35" fill="url(#q2)"/>
<rect x="1476.2" y="1097.2" width="1.8" height="11.4" fill="#0d39f1"/>
<rect x="1476.2" y="1108.6" width="1.8" height="12.1" fill="#0a27e9"/>
<rect x="1476.2" y="1069.1" width="1.8" height="28.1" fill="url(#q2)"/>
<rect x="1477.9" y="1097.2" width="1.8" height="11.4" fill="#1ba5ff"/>
<rect x="1477.9" y="1108.6" width="1.8" height="12.1" fill="#1570ff"/>
<rect x="1477.9" y="1054.2" width="1.8" height="43" fill="url(#q3)"/>
<rect x="1477.9" y="1078.7" width="1.8" height="2.4" fill="#0a2bec" opacity="0.94"/>
<rect x="1477.9" y="1077" width="1.8" height="2.3" fill="#0924e2" opacity="0.79"/>
<rect x="1477.9" y="1075.6" width="1.8" height="2.9" fill="#0925e4" opacity="0.72"/>
<rect x="1477.9" y="1092.5" width="1.8" height="2.7" fill="#1884ff" opacity="0.85"/>
<rect x="1479.7" y="1097.2" width="1.8" height="11.4" fill="#104bf7"/>
<rect x="1479.7" y="1108.6" width="1.8" height="12.1" fill="#0c34ef"/>
<rect x="1479.7" y="1060.4" width="1.8" height="36.8" fill="url(#q2)"/>
<rect x="1481.4" y="1097.2" width="1.8" height="11.4" fill="#27cff6"/>
<rect x="1481.4" y="1108.6" width="1.8" height="12.1" fill="#1a99ff"/>
<rect x="1481.4" y="1043.5" width="1.8" height="53.7" fill="url(#q4)"/>
<rect x="1481.4" y="1086.3" width="1.8" height="3.2" fill="#1992ff" opacity="0.64"/>
<rect x="1481.4" y="1094.7" width="1.8" height="1.6" fill="#1ba0ff" opacity="0.67"/>
<rect x="1481.4" y="1056.1" width="1.8" height="1.7" fill="#1464ff" opacity="0.73"/>
<rect x="1481.4" y="1070.5" width="1.8" height="2.1" fill="#156dff" opacity="0.59"/>
<rect x="1481.4" y="1047.9" width="1.8" height="2.2" fill="#1ba3ff" opacity="0.81"/>
<rect x="1483.2" y="1097.2" width="1.8" height="11.4" fill="#1463ff"/>
<rect x="1483.2" y="1108.6" width="1.8" height="12.1" fill="#0f48f6"/>
<rect x="1483.2" y="1057.3" width="1.8" height="39.9" fill="url(#q2)"/>
<rect x="1484.9" y="1097.2" width="1.8" height="11.4" fill="#54f7c6"/>
<rect x="1484.9" y="1108.6" width="1.8" height="12.1" fill="#27cff6"/>
<rect x="1484.9" y="1030.4" width="1.8" height="66.8" fill="url(#q5)"/>
<rect x="1484.9" y="1094" width="1.8" height="2.7" fill="#1675ff" opacity="0.59"/>
<rect x="1484.9" y="1080.3" width="1.8" height="3.2" fill="#24c9f9" opacity="0.79"/>
<rect x="1484.9" y="1062.4" width="1.8" height="2.3" fill="#114ff8" opacity="0.80"/>
<rect x="1484.9" y="1040.6" width="1.8" height="3.3" fill="#156bff" opacity="0.79"/>
<rect x="1484.9" y="1091.7" width="1.8" height="2.5" fill="#104cf7" opacity="0.65"/>
<rect x="1486.7" y="1097.2" width="1.8" height="11.4" fill="#6dfaab"/>
<rect x="1486.7" y="1108.6" width="1.8" height="12.1" fill="#2fddee"/>
<rect x="1486.7" y="1026.5" width="1.8" height="70.7" fill="url(#q5)"/>
<rect x="1486.7" y="1084" width="1.8" height="3.2" fill="#1360fe" opacity="0.82"/>
<rect x="1486.7" y="1079.2" width="1.8" height="1.7" fill="#35e9e8" opacity="0.86"/>
<rect x="1486.7" y="1088.5" width="1.8" height="2.7" fill="#0e43f4" opacity="0.75"/>
<rect x="1486.7" y="1067.2" width="1.8" height="1.6" fill="#1678ff" opacity="0.76"/>
<rect x="1486.7" y="1088.8" width="1.8" height="1.4" fill="#2ad4f3" opacity="0.78"/>
<rect x="1486.7" y="1061.5" width="1.8" height="3.2" fill="#34e6e9" opacity="0.71"/>
<rect x="1488.4" y="1097.2" width="1.8" height="11.4" fill="#156bff"/>
<rect x="1488.4" y="1108.6" width="1.8" height="12.1" fill="#104df7"/>
<rect x="1488.4" y="1062.2" width="1.8" height="35" fill="url(#q3)"/>
<rect x="1488.4" y="1090.4" width="1.8" height="2.5" fill="#0c33ef" opacity="0.59"/>
<rect x="1488.4" y="1073.2" width="1.8" height="1.8" fill="#0923e1" opacity="0.60"/>
<rect x="1488.4" y="1079.5" width="1.8" height="2.5" fill="#0c36f0" opacity="0.72"/>
<rect x="1488.4" y="1084.2" width="1.8" height="2.3" fill="#0820d9" opacity="0.81"/>
<rect x="1490.2" y="1097.2" width="1.8" height="11.4" fill="#41f5db"/>
<rect x="1490.2" y="1108.6" width="1.8" height="12.1" fill="#21c4fc"/>
<rect x="1490.2" y="1030.9" width="1.8" height="66.3" fill="url(#q4)"/>
<rect x="1490.2" y="1093.8" width="1.8" height="2.1" fill="#1361fe" opacity="0.58"/>
<rect x="1490.2" y="1043.4" width="1.8" height="2.5" fill="#1ba4ff" opacity="0.57"/>
<rect x="1490.2" y="1083.1" width="1.8" height="2.8" fill="#22c5fb" opacity="0.71"/>
<rect x="1490.2" y="1063" width="1.8" height="2" fill="#0e3df2" opacity="0.95"/>
<rect x="1490.2" y="1088.7" width="1.8" height="3.3" fill="#104df7" opacity="0.56"/>
<rect x="1491.9" y="1097.2" width="1.8" height="11.4" fill="#24c9f9"/>
<rect x="1491.9" y="1108.6" width="1.8" height="12.1" fill="#1992ff"/>
<rect x="1491.9" y="1040.7" width="1.8" height="56.5" fill="url(#q4)"/>
<rect x="1491.9" y="1087.4" width="1.8" height="2.7" fill="#1887ff" opacity="0.81"/>
<rect x="1491.9" y="1092.5" width="1.8" height="2.9" fill="#188cff" opacity="0.95"/>
<rect x="1491.9" y="1046.3" width="1.8" height="2.5" fill="#1256fa" opacity="0.85"/>
<rect x="1491.9" y="1057.1" width="1.8" height="2.6" fill="#1258fb" opacity="0.80"/>
<rect x="1491.9" y="1087.3" width="1.8" height="3.5" fill="#125afc" opacity="0.62"/>
<rect x="1493.7" y="1097.2" width="1.8" height="11.4" fill="#69f9b0"/>
<rect x="1493.7" y="1108.6" width="1.8" height="12.1" fill="#2edbef"/>
<rect x="1493.7" y="1027.8" width="1.8" height="69.4" fill="url(#q5)"/>
<rect x="1493.7" y="1087.8" width="1.8" height="2.3" fill="#30dfed" opacity="0.63"/>
<rect x="1493.7" y="1067" width="1.8" height="2.6" fill="#1a99ff" opacity="0.83"/>
<rect x="1493.7" y="1092.4" width="1.8" height="1.7" fill="#0f48f6" opacity="0.65"/>
<rect x="1493.7" y="1063.3" width="1.8" height="1.4" fill="#177cff" opacity="0.62"/>
<rect x="1493.7" y="1052.9" width="1.8" height="2.1" fill="#1ba6ff" opacity="0.89"/>
<rect x="1493.7" y="1033.9" width="1.8" height="2.2" fill="#22c5fb" opacity="0.87"/>
<rect x="1495.4" y="1097.2" width="1.8" height="11.4" fill="#39f0e4"/>
<rect x="1495.4" y="1108.6" width="1.8" height="12.1" fill="#1ebdff"/>
<rect x="1495.4" y="1045.3" width="1.8" height="51.9" fill="url(#q4)"/>
<rect x="1495.4" y="1091.8" width="1.8" height="3.1" fill="#1b9fff" opacity="0.73"/>
<rect x="1495.4" y="1092.6" width="1.8" height="3.2" fill="#23c7fa" opacity="0.87"/>
<rect x="1495.4" y="1093" width="1.8" height="3.2" fill="#0f48f6" opacity="0.61"/>
<rect x="1495.4" y="1083.7" width="1.8" height="2.3" fill="#1257fb" opacity="0.66"/>
<rect x="1495.4" y="1059.9" width="1.8" height="3.3" fill="#1781ff" opacity="0.69"/>
<rect x="1497.2" y="1097.2" width="1.8" height="11.4" fill="#2cd7f1"/>
<rect x="1497.2" y="1108.6" width="1.8" height="12.1" fill="#1ba2ff"/>
<rect x="1497.2" y="1049.9" width="1.8" height="47.3" fill="url(#q4)"/>
<rect x="1497.2" y="1059" width="1.8" height="3.5" fill="#1889ff" opacity="0.83"/>
<rect x="1497.2" y="1081.9" width="1.8" height="3.1" fill="#188bff" opacity="0.95"/>
<rect x="1497.2" y="1084" width="1.8" height="3.6" fill="#0d3df2" opacity="0.82"/>
<rect x="1497.2" y="1075.6" width="1.8" height="3.4" fill="#1cacff" opacity="0.71"/>
<rect x="1497.2" y="1076.4" width="1.8" height="3.5" fill="#0e3df2" opacity="0.83"/>
<rect x="1498.9" y="1097.2" width="1.8" height="11.4" fill="#5af8c0"/>
<rect x="1498.9" y="1108.6" width="1.8" height="12.1" fill="#29d2f4"/>
<rect x="1498.9" y="1028.7" width="1.8" height="68.5" fill="url(#q5)"/>
<rect x="1498.9" y="1089.2" width="1.8" height="1.6" fill="#188aff" opacity="0.81"/>
<rect x="1498.9" y="1040.6" width="1.8" height="2.3" fill="#1884ff" opacity="0.92"/>
<rect x="1498.9" y="1083.7" width="1.8" height="2.6" fill="#104ef8" opacity="0.81"/>
<rect x="1498.9" y="1056.1" width="1.8" height="1.5" fill="#1ba4ff" opacity="0.84"/>
<rect x="1498.9" y="1076" width="1.8" height="3.4" fill="#30deed" opacity="0.67"/>
<rect x="1500.7" y="1097.2" width="1.8" height="11.4" fill="#28d1f5"/>
<rect x="1500.7" y="1108.6" width="1.8" height="12.1" fill="#1a9aff"/>
<rect x="1500.7" y="1040.8" width="1.8" height="56.4" fill="url(#q4)"/>
<rect x="1500.7" y="1067.4" width="1.8" height="3.2" fill="#1257fb" opacity="0.79"/>
<rect x="1500.7" y="1065.3" width="1.8" height="3" fill="#0c36f0" opacity="0.67"/>
<rect x="1500.7" y="1092.8" width="1.8" height="2.4" fill="#1a9aff" opacity="0.64"/>
<rect x="1500.7" y="1048.5" width="1.8" height="3" fill="#1467ff" opacity="0.59"/>
<rect x="1500.7" y="1072.5" width="1.8" height="2.4" fill="#1153f9" opacity="0.79"/>
<rect x="1502.4" y="1097.2" width="1.8" height="11.4" fill="#135ffd"/>
<rect x="1502.4" y="1108.6" width="1.8" height="12.1" fill="#0f45f5"/>
<rect x="1502.4" y="1054.8" width="1.8" height="42.4" fill="url(#q2)"/>
<rect x="1504.2" y="1097.2" width="1" height="11.4" fill="#114ff8"/>
<rect x="1504.2" y="1108.6" width="1" height="12.1" fill="#0d38f0"/>
<rect x="1504.2" y="1054.8" width="1" height="42.4" fill="url(#q2)"/>
</g>
<rect x="260.5" y="969.5" width="1550.0" height="153.0" fill="none" stroke="#000" stroke-width="1.2" shape-rendering="crispEdges"/>
<clipPath id="c1"><rect x="260.5" y="135.5" width="1550.0" height="817.0"/></clipPath>
<g clip-path="url(#c1)" fill="none" stroke-linejoin="round">
<path d="M260 173.2 L267.5 173.2 L274.2 172.1 L278.8 173.2 L290 180.8 L296.8 184.2 L304.2 186.3 L316.2 194.2 L329 198.8 L335.8 202.2 L344 207 L363.5 207 L365 206.4 L380 206.4 L387.5 209.2 L401 214.5 L408.5 220.5 L413 225.8 L417.5 232.5 L421.2 237 L440 253.5 L450.5 266.2 L462.5 284.2 L470 291.8 L476 292.2 L483.5 296.2 L494 306 L498.5 312.8 L506 326.2 L513.5 339.8 L519.5 348 L530 354.8 L545 360 L555.5 363.3 L559.6 363.2 L566 362.4 L580.4 366.4 L615.6 366.4 L622 370.4 L641.2 382.4 L657.2 391.2 L670 400.8 L690.8 409.6 L706.8 419.2 L729.2 427.2 L750 436 L777.2 444.8 L799.6 447.2 L809.2 449.6 L831.6 449.6 L844.4 446.4 L860 445.6 L880.8 442.9 L900 442.4 L916 438.1 L924 438.4 L948 440.3 L956 438.1 L964.8 438.1 L975.2 444 L988 447.2 L1000.8 456 L1012 460 L1026.4 461.1 L1039.2 464.8 L1055.2 468.5 L1064.8 472.8 L1076 480 L1090.4 484 L1109.6 484 L1122.4 479.2 L1135.2 474.4 L1148 470.4 L1156 481.6 L1164 491.2 L1169.6 496 M1278.3 478.1 L1291.1 478.4 L1302.4 483.3 L1313.6 487.5 L1323.5 487.5 L1333.4 482.6 L1341.9 472.7 L1351.8 458.6 L1358.8 450.8 L1363.8 449 L1368.7 451.5 L1377.2 460 L1382.8 463.5 L1388.5 464.2 L1392.7 461.4 L1404 461.1 L1409.7 463.5 L1415.3 462.5 L1423.8 462.5 L1430.8 460.7 L1434.4 452.9 L1438.6 440.2 L1443.5 431.8 L1447.8 426.1 L1453.4 423 L1460.5 421.2 L1473.2 420.8 L1478.8 416.9 L1485.9 409.2 L1491.5 397.9 L1497.2 384.5 L1505.7 371.8 L1514.4 356.6 L1524 346.2 L1532 333.4 L1540 314.2 L1548 295 L1556 277.4 L1567.2 259 L1580 237.4 L1592.8 221.4 L1604 208.6 L1615.2 196.6 L1628 185.4 L1647.2 172.6 L1660 167.8 L1669.6 159.8 L1680.8 152.6 L1688.8 148.6 L1695.2 148.1 L1701.6 150.2 L1714.4 155.8 L1732 161.4 L1749.6 167.8 L1762.4 167.8 L1772 163 L1781.6 159 L1791.2 158.7 L1799.2 162.2 L1810.4 171.8" stroke="#0aee14" stroke-width="1.45" transform="translate(0,0.3)"/>
<path d="M1169.6 494.4 L1169.6 510.4 M1132 474 L1134 467 L1136 475 L1139 470 L1141 476 L1144 468.5 L1146 472 L1148 467 L1150 471 M1278.3 478 L1278.3 499.5 M1380.7 460 L1382.8 489.7 L1384.9 464.2 M1393.4 461 L1394 467 M1413.2 463 L1415.3 475.5 L1417.4 461.5 M1421 454.4 L1424.5 471.3 L1425.9 460 L1430.8 473.4 L1432.9 448.7 L1435.8 464.2 L1438.6 447.3 M1474.6 423.3 L1477.5 416 L1480.2 422 L1483 413 L1486 417 M1360 450 L1363.8 446.5 L1367 450 M1497 384 L1500 377 L1503 378 L1506 368" stroke="#0aee14" stroke-width="1.3"/>
<path d="M1505.4 371.8 L1505.4 570.8" stroke="#0aee14" stroke-width="2"/>
<path d="M260 173.2 L267.5 173.2 L274.2 172.1 L278.8 173.2 L290 180.8 L296.8 184.2 L304.2 186.3 L316.2 194.2 L329 198.8 L335.8 202.2 L344 207 L363.5 207 L365 206.4 L380 206.4 L387.5 209.2 L401 214.5 L408.5 220.5 L413 225.8 L417.5 232.5 L421.2 237 L440 253.5 L450.5 266.2 L462.5 284.2 L470 291.8 L476 292.2 L483.5 296.2 L494 306 L498.5 312.8 L506 326.2 L513.5 339.8 L519.5 348 L530 354.8 L545 360 L555.5 363.3 L559.6 363.2 L566 362.4 L580.4 366.4 L615.6 366.4 L622 370.4 L641.2 382.4 L657.2 391.2 L670 400.8 L690.8 409.6 L706.8 419.2 L729.2 427.2 L750 436 L777.2 444.8 L799.6 447.2 L809.2 449.6 L831.6 449.6 L844.4 446.4 L860 445.6 L880.8 442.9 L900 442.4 L916 438.1 L924 438.4 L948 440.3 L956 438.1 L964.8 438.1 L975.2 444 L988 447.2 L1000.8 456 L1012 460 L1026.4 461.1 L1039.2 464.8 L1055.2 468.5 L1064.8 472.8 L1076 480 L1090.4 484 L1109.6 484 L1122.4 479.2 L1135.2 474.4 L1148 470.4 L1156 481.6 L1164 491.2 L1169.6 496 M1278.3 478.1 L1291.1 478.4 L1302.4 483.3 L1313.6 487.5 L1323.5 487.5 L1333.4 482.6 L1341.9 472.7 L1351.8 458.6 L1358.8 450.8 L1363.8 449 L1368.7 451.5 L1377.2 460 L1382.8 463.5 L1388.5 464.2 L1392.7 461.4 L1404 461.1 L1409.7 463.5 L1415.3 462.5 L1423.8 462.5 L1430.8 460.7 L1434.4 452.9 L1438.6 440.2 L1443.5 431.8 L1447.8 426.1 L1453.4 423 L1460.5 421.2 L1473.2 420.8 L1478.8 416.9 L1485.9 409.2 L1491.5 397.9 L1497.2 384.5 L1505.7 371.8 L1514.4 356.6 L1524 346.2 L1532 333.4 L1540 314.2 L1548 295 L1556 277.4 L1567.2 259 L1580 237.4 L1592.8 221.4 L1604 208.6 L1615.2 196.6 L1628 185.4 L1647.2 172.6 L1660 167.8 L1669.6 159.8 L1680.8 152.6 L1688.8 148.6 L1695.2 148.1 L1701.6 150.2 L1714.4 155.8 L1732 161.4 L1749.6 167.8 L1762.4 167.8 L1772 163 L1781.6 159 L1791.2 158.7 L1799.2 162.2 L1810.4 171.8" stroke="#050c05" stroke-width="1.2"/>
</g>
<g fill="none">
<path d="M260 858.1 L263.5 855.3 L268.2 851.5 L274 846.8 L280.4 841.3 L287.1 835.1 L294.4 828.1 L302.4 820.1 L310.8 811.5 L319.4 802.4 L327.7 793.2 L336 783.5 L344.6 773.2 L353 762.7 L361.1 752.5 L368.3 743.1 L374.6 734.8 L380.1 727.2 L385.1 720 L390.1 712.8 L395.3 705.2 L400.7 697.3 L406.1 689.2 L411.6 681 L417 672.8 L422.4 664.6 L427.8 656.5 L433.2 648.5 L438.6 640.4 L444 632.3 L449.4 624 L454.8 615.5 L460.2 606.9 L465.7 598.1 L471.1 589.4 L476.5 580.7 L481.9 572 L487.3 563.4 L492.8 554.7 L498.2 546.1 L503.6 537.4 L509 528.8 L514.3 520.2 L519.6 511.6 L525 502.9 L530.6 494.1 L535.9 485.7 L540.9 477.9 L546.2 469.6 L552.4 460.2 L560 448.8 L569.9 434.2 L581.8 416.8 L594.3 398.6 L606.2 381.5 L616.1 367.2 L623.7 356.3 L629.8 347.5 L635 340 L639.9 333.3 L645 326.4 L650.3 319.5 L655.4 313.2 L660.5 307.2 L665.5 301.4 L670.5 295.8 L675.6 290.3 L680.7 285.1 L685.8 280.1 L690.9 275.2 L696 270.3 L701.2 265.5 L706.4 260.8 L711.5 256.2 L716.6 251.7 L721.5 247.4 L726.4 243 L731.3 238.6 L736 234.4 L740.2 230.7 L743.6 227.8 L745.8 226 L747.1 225.2 L748 224.9 L748.9 224.5 L750.4 223.6 L752.6 222.1 L755 220.4 L757.7 218.6 L760.5 216.7 L763.2 215 L765.9 213.4 L768.5 211.8 L771.3 210.3 L774 208.9 L776.8 207.4 L779.6 206 L782.5 204.5 L785.5 203.2 L788.4 201.8 L791.2 200.6 L794 199.5 L796.7 198.4 L799.4 197.4 L802.1 196.4 L804.8 195.5 L807.5 194.6 L810.2 193.7 L812.9 192.8 L815.6 192 L818.4 191.3 L821.2 190.7 L824.1 190.1 L827.1 189.6 L830 189.1 L832.9 188.7 L835.8 188.3 L838.7 188 L841.7 187.7 L844.5 187.4 L847.3 187.3 L849.9 187.3 L852.5 187.3 L854.9 187.4 L857.4 187.6 L860 187.9 L862.7 188.2 L865.4 188.6 L868.1 189.1 L870.9 189.6 L873.6 190.1 L876.3 190.6 L879 191.1 L881.8 191.7 L884.5 192.3 L887.2 192.9 L889.9 193.6 L892.6 194.4 L895.4 195.2 L898.1 196 L900.8 196.9 L903.5 197.8 L906.2 198.6 L909 199.5 L911.7 200.5 L914.4 201.5 L917.1 202.6 L919.8 203.8 L922.6 205.1 L925.3 206.4 L928 207.7 L930.7 209.1 L933.4 210.5 L936.2 212 L938.9 213.5 L941.6 215.1 L944.3 216.8 L947 218.5 L949.8 220.3 L952.5 222.2 L955.2 224.1 L957.9 226.1 L960.7 228.1 L963.4 230.1 L966.1 232.2 L968.8 234.3 L971.4 236.3 L973.9 238.4 L976.5 240.4 L979 242.5 L981.6 244.8 L984.3 247.2 L987.1 249.8 L989.8 252.4 L992.6 255 L995.2 257.6 L997.7 260.1 L1000.1 262.7 L1002.4 265.2 L1004.7 267.8 L1007.1 270.3 L1009.5 272.8 L1011.9 275.4 L1014.2 278 L1016.6 280.5 L1019 283.1 L1021.4 285.7 L1023.8 288.3 L1026.1 290.9 L1028.5 293.5 L1030.9 296.2 L1033.3 299 L1035.7 301.8 L1038.2 304.7 L1040.5 307.6 L1042.8 310.3 L1044.9 312.9 L1047 315.5 L1049 318 L1051 320.5 L1053 323 L1055.1 325.6 L1057.1 328.1 L1059.2 330.7 L1061.2 333.2 L1063.2 335.8 L1065.1 338.4 L1066.9 340.9 L1068.8 343.5 L1070.6 346.1 L1072.5 348.8 L1074.5 351.6 L1076.5 354.4 L1078.6 357.3 L1080.6 360.2 L1082.7 363 L1084.8 365.8 L1086.8 368.5 L1088.9 371.2 L1090.9 373.9 L1092.9 376.6 L1094.8 379.3 L1096.7 382 L1098.6 384.7 L1100.4 387.4 L1102.3 390.2 L1104.2 393 L1106 395.9 L1107.9 398.9 L1109.7 401.8 L1111.6 404.6 L1113.5 407.4 L1115.4 410.1 L1117.2 412.8 L1119.1 415.5 L1121 418.2 L1122.9 420.9 L1124.8 423.6 L1126.6 426.4 L1128.5 429.1 L1130.3 431.8 L1132 434.5 L1133.7 437.2 L1135.4 439.9 L1137.1 442.6 L1138.8 445.4 L1140.6 448.3 L1142.4 451.2 L1144.3 454.2 L1146.1 457.1 L1148 460 L1149.9 462.8 L1151.8 465.5 L1153.8 468.2 L1155.7 470.8 L1157.6 473.6 L1159.5 476.6 L1161.5 479.8 L1163.3 482.9 L1165 485.7 L1166.4 488 L1167.4 489.7 L1168.2 490.9 L1168.8 491.8 L1169.2 492.5 L1169.5 493 L1169.5 493 M1279.5 504.5 L1279.9 505.3 L1280.5 506.3 L1281.3 507.5 L1282.2 509 L1283.3 510.8 L1284.7 512.9 L1286.4 515.4 L1288.2 518.1 L1290 520.8 L1291.8 523.5 L1293.5 526.1 L1295.2 528.8 L1296.8 531.5 L1298.5 534.3 L1300.2 537 L1301.9 539.8 L1303.6 542.6 L1305.3 545.4 L1307 548.2 L1308.7 551 L1310.4 553.7 L1312.1 556.5 L1313.8 559.2 L1315.5 561.9 L1317.2 564.5 L1318.6 566.7 L1319.8 568.3 L1321.1 570.2 L1322.9 572.9 L1325.6 577.2 L1329.3 583.4 L1333.8 591.2 L1338.8 599.8 L1344.1 608.7 L1349.4 617.2 L1354.9 625.5 L1360.6 634 L1366.5 642.5 L1372.4 650.8 L1378 658.8 L1383.4 666.4 L1388.6 673.7 L1393.7 680.9 L1398.8 688 L1404 695.2 L1409.3 702.7 L1414.8 710.4 L1420.3 718.1 L1425.4 725.2 L1430 731.6 L1433.9 736.9 L1437.2 741.2 L1440.2 745.2 L1443.3 749.2 L1446.9 753.7 L1450.9 758.8 L1455.2 764.1 L1459.6 769.6 L1464.2 775.3 L1469 781 L1474 786.9 L1479.1 793 L1484.4 799.1 L1489.7 805.1 L1495 810.9 L1500.2 816.4 L1505.4 821.8 L1510.6 827 L1515.8 832 L1521 836.9 L1526.2 841.6 L1531.4 846.2 L1536.6 850.6 L1541.8 854.9 L1547 859 L1552.2 863 L1557.4 866.8 L1562.6 870.5 L1567.8 874 L1573 877.2 L1578.2 880.2 L1583.4 882.9 L1588.6 885.5 L1593.8 887.9 L1599 890.2 L1604.2 892.4 L1609.4 894.6 L1614.6 896.6 L1619.8 898.4 L1625 900.1 L1630.2 901.6 L1635.4 902.9 L1640.6 904 L1645.8 905 L1651 905.8 L1656.3 906.5 L1661.8 907 L1667.2 907.4 L1672.3 907.7 L1677 907.9 L1681.1 908 L1684.7 908.1 L1688.1 908 L1691.5 907.8 L1695.2 907.4 L1699.1 906.9 L1703.1 906.2 L1707.2 905.4 L1711.5 904.4 L1716 903.2 L1720.9 901.8 L1726 900.1 L1731.4 898.3 L1736.7 896.2 L1742 894.1 L1747.2 891.8 L1752.4 889.3 L1757.6 886.7 L1762.8 883.9 L1768 881.1 L1773.4 878 L1778.9 874.7 L1784.3 871.3 L1789.4 868.2 L1794 865.5 L1798.1 863.3 L1801.9 861.4 L1805.3 859.9 L1808.1 858.6 L1810.1 857.7 L1810.1 857.7" stroke="#1616a4" stroke-width="1.35"/>
<path d="M744.9 226.8 L747.6 225 L750.4 223.6 L752.6 222.1 L754.8 220.6 L755.8 219.9M759.1 217.6 L761.3 216.2 L763.5 214.8 L765.6 213.6 L767.7 212.3 L769.6 211.2M772.9 209.4 L775.1 208.3 L777.4 207.1 L779.6 206 L782 204.8 L783.7 204M786.9 202.5 L789.2 201.5 L791.5 200.5 L793.7 199.6 L795.9 198.7 L797.8 198M801 196.8 L803.2 196.1 L805.3 195.3 L807.5 194.6 L809.7 193.9 L811.8 193.2M815.1 192.2 L817.3 191.6 L819.5 191 L821.8 190.5 L824.1 190.1 L825.6 189.8M829.1 189.3 L831.4 188.9 L833.8 188.6 L836.1 188.3 L838.5 188 L839.6 187.9M843.1 187.5 L845.4 187.4 L847.6 187.3 L849.7 187.3 L851.7 187.3 L853.7 187.4M856.9 187.6 L859 187.8 L861.1 188 L863.2 188.3 L865.4 188.6 L867.6 189 L867.8 189.1M871.1 189.6 L873.3 190 L875.5 190.5 L877.7 190.9 L879.9 191.3 L881.8 191.7M885 192.4 L887.2 192.9 L889.4 193.5 L891.6 194.1 L893.7 194.7 L895.6 195.3M898.9 196.3 L901.1 197 L903.2 197.7 L905.4 198.4 L907.6 199.1 L909.8 199.8M913 201 L915.2 201.8 L917.4 202.7 L919.6 203.7 L921.7 204.7 L923.6 205.6M926.9 207.2 L929.1 208.2 L931.3 209.4 L933.4 210.5 L935.6 211.7 L937.8 212.9M941.1 214.8 L943.2 216.1 L945.4 217.5 L947.6 218.9 L949.8 220.3 L951.7 221.6M954.9 223.9 L957.1 225.5 L959.3 227.1 L961.5 228.7 L963.7 230.3 L965.9 232M969.1 234.5 L971.1 236.1 L973.2 237.8 L975.2 239.4 L977.2 241.1 L979.3 242.8 L979.8 243.2M982.9 246 L985.1 248 L987.3 250 L989.6 252.1 L991.8 254.2 L993.6 256.1M997 259.4 L998.9 261.4 L1000.8 263.4 L1002.7 265.5 L1004.5 267.5 L1006.4 269.5 L1006.9 270M1010 273.4 L1011.9 275.4 L1013.8 277.4 L1015.7 279.5 L1017.6 281.5 L1019.5 283.6 L1020 284.1M1023 287.5 L1025 289.6 L1026.9 291.7 L1028.8 293.8 L1030.7 295.9 L1032.6 298.1M1035.5 301.5 L1037.4 303.9 L1039.4 306.1 L1041.2 308.4 L1043 310.6 L1044.3 312.1M1047 315.5 L1048.8 317.7 L1050.7 320.2 L1052.4 322.2 L1054 324.3 L1055.5 326.1M1058.2 329.4 L1059.8 331.4 L1061.4 333.5 L1063 335.5 L1064.5 337.6 L1066 339.6 L1066.4 340.2M1068.8 343.5 L1070.2 345.6 L1071.7 347.7 L1073.3 349.9 L1074.9 352.1 L1076.3 354.1M1078.6 357.3 L1080.2 359.6 L1081.9 361.9 L1083.5 364.1 L1085.2 366.3 L1086.6 368.2M1089.1 371.5 L1090.7 373.6 L1092.3 375.8 L1093.9 378 L1095.4 380.1 L1096.9 382.3M1099.1 385.5 L1100.6 387.7 L1102.1 389.9 L1103.6 392.2 L1105.1 394.5 L1106.2 396.2M1108.2 399.4 L1109.7 401.8 L1111.2 404 L1112.7 406.3 L1114.2 408.5 L1115.4 410.1M1117.6 413.3 L1119.1 415.5 L1120.6 417.7 L1122.1 419.8 L1123.6 422 L1125.1 424.2M1127.4 427.4 L1128.9 429.6 L1130.3 431.8 L1131.7 434 L1133.1 436.1 L1134.4 438.3M1136.4 441.5 L1137.8 443.7 L1139.2 446 L1140.6 448.3 L1142 450.6 L1143 452.1M1145 455.4 L1146.5 457.7 L1148 460 L1149.5 462.2 L1151.1 464.4 L1152.2 466M1154.8 469.5 L1156.3 471.7 L1157.8 473.9 L1159.2 476.1 L1160.5 478.2 L1161.6 480M1163.7 483.5 L1165 485.7 L1166.4 488 L1167.8 490.3 L1169.5 493" fill="none" stroke="#0505f5" stroke-width="13" stroke-linecap="butt"/>
<path d="M1279.5 504.5 L1281.1 507.2 L1282.5 509.6 L1284 511.8 L1285.5 514.1 L1286.4 515.4M1288.6 518.6 L1290 520.8 L1291.5 523 L1292.8 525.1 L1294.2 527.2 L1295.5 529.4M1297.5 532.6 L1298.9 534.8 L1300.2 537 L1301.6 539.2 L1302.9 541.5 L1304.1 543.4M1306 546.5 L1307.3 548.8 L1308.7 551 L1310.1 553.2 L1311.4 555.4 L1312.6 557.3M1314.7 560.5 L1316 562.7 L1317.4 564.8 L1319 567.2 L1320.7 569.5 L1322 571.4M1324 574.6 L1325.3 576.7 L1326.5 578.8 L1327.8 580.9 L1329 582.9 L1330.2 585 L1330.4 585.3M1332.3 588.6 L1333.5 590.7 L1334.7 592.7 L1335.9 594.9 L1337.1 596.9 L1338.3 599 L1338.5 599.3M1340.5 602.7 L1341.7 604.7 L1343 606.8 L1344.2 608.9 L1345.5 611 L1346.8 613 L1346.9 613.3M1349.1 616.7 L1349.4 617.2" fill="none" stroke="#0505f5" stroke-width="13" stroke-linecap="butt"/>
</g>
<g stroke="#1f1a96" stroke-width="1.3" fill="none" shape-rendering="crispEdges">
<path d="M260.5 135.5 H1810.5 V952.5 M1810.5 911.5 h-16 M1810.5 829.5 h-16 M1810.5 748.5 h-16 M1810.5 666.5 h-16 M1810.5 584.5 h-16 M1810.5 503.5 h-16 M1810.5 421.5 h-16 M1810.5 339.5 h-16 M1810.5 258.5 h-16 M1810.5 176.5 h-16 "/>
</g>
<path d="M1612 834.3 H1762" stroke="#0505f5" stroke-width="12.5" stroke-dasharray="10.4 3.56" fill="none"/>
<clipPath id="c3"><rect x="260.5" y="1133.5" width="1550.0" height="222.0"/></clipPath>
<g clip-path="url(#c3)" fill="none" stroke-linejoin="round" stroke-linecap="round">
<path d="M352 1133.4 L357 1138.6 L362 1144.4 L364.4 1142 L360 1137 L355 1133.4 M370 1133.4 L377 1140 L382 1147 L381 1155 L387 1161 L394 1165 L403 1168 L412 1173 L420 1176 L426 1173 L432 1176 L440 1182 L448 1184 L458 1188 L464 1195 M435.6 1179.6 L440.9 1183.6 L448.8 1185.6 L455.4 1186.9 L459.4 1189.6 L462.7 1193.5 L466 1198.8 L468.7 1202.1 L473.3 1204.8 L476.6 1208.7 L481.9 1209.4 L485.9 1212.7 L488.5 1213.4 L490.5 1209.4 L492.5 1206.1 L496.5 1206.8 L499.8 1210.7 L501.8 1216 L502.4 1222.6 L502.4 1227.9 L499.8 1232.6 L496.5 1235.9 L495.1 1239.8 L491.2 1243.8 L488.5 1249.1 L487.2 1253.7 L491.2 1255.7 L490.5 1258.4 L485.9 1261.7 L485.2 1266.3 L487.2 1271.6 L491.2 1275.6 L495.1 1280.9 L497.8 1287.5 L501.1 1292.8 L504.4 1296.8 L505.7 1302 L506.4 1306 L511 1311.3 L516.3 1314.6 L522.9 1317.9 L528.9 1321.9 L532.9 1327.2 L533.5 1335.1 L533.5 1344.4 L530.9 1349.7 L530.9 1355 M415.1 1133.7 L413.7 1139.3 L414.7 1145.9 L417.7 1151.2 L419.7 1156.5 L423 1161.1 L429.6 1164.4 L436.9 1162.4 L442.2 1161.1 L444.8 1156.5 L446.2 1151.8 L451.5 1149.9 L460.7 1149.9 L462.1 1152.5 L459.4 1157.8 L458.7 1163.7 L456.1 1168.4 L454.8 1172.4 L452.1 1175 L459.4 1175.7 L464.7 1174.3 L472.6 1174.3 L475.3 1177 L477.3 1181 L475.3 1185.6 L474.6 1190.2 L473.7 1194.2 L475.3 1198.2 L479.3 1202.1 L484.6 1206.1 L491.2 1204.1 L496.5 1203.5 L501.8 1206.8 L505.1 1209.4 L504.4 1206.8 L507.7 1202.8 L511 1197.5 L516.3 1195.5 L521.6 1193.5 L525.6 1190.2 L528.9 1191.5 L530.2 1192.2 L534.2 1191.5 L538.8 1192.9 L541.5 1197.5 L546.8 1198.8 L552 1199.5 L558 1198.2 L565.3 1198.2 L570.6 1197.5 L572.6 1201.5 L573.9 1206.1 L578.5 1208.7 L582.5 1212.1 L586.5 1216 L593.1 1218 L599.7 1218 L605 1220 L610.3 1222.6 L614.3 1226.6 L616.9 1231.9 L619.5 1235.9 L620.2 1239.8 L618.2 1243.8 L614.3 1246.5 L613.6 1249.8 L616.9 1247.8 L622.2 1245.8 L626.2 1246.5 L630 1247.8 M526.9 1193.5 L525.6 1201.5 L527.6 1206.1 L529.2 1202.1 L528.2 1195.5 L526.9 1193.5 M470 1146.9 L474.6 1143.2 L482.6 1141.2 L489.8 1142.6 L497.8 1146.5 L505.7 1150.9 L513 1154.5 L516.3 1156.1 L510.4 1157.1 L504.4 1155.1 L501.1 1156.5 L499.1 1153.8 L493.8 1149.9 L487.2 1145.6 L480.6 1144.3 L476 1146.5 L478.6 1149.6 L474.6 1148.5 L470 1146.9 M520.3 1157.1 L525.6 1155.8 L532.2 1156.5 L536.8 1158.5 L540.8 1161.8 L538.8 1164.7 L533.5 1163.7 L528.9 1166.4 L525.6 1165.1 L520.3 1164.4 L515 1164.7 L516.3 1162.8 L522.3 1162.4 L524.9 1160.4 L521.6 1158.5 L520.3 1157.1 M630 1247.1 L635.3 1249.1 L643.2 1253.7 L651.2 1255.1 L661.8 1255.7 L668.4 1260.4 L675 1265 L682.9 1266.3 L685.3 1273.6 L683.6 1282.2 L679 1288.8 L673.7 1295.4 L667.7 1303.4 L667.1 1312.6 L665.7 1321.9 L663.1 1331.2 L658.5 1340.4 L655.1 1344.4 L649.9 1347 L643.2 1347 L637.9 1350.4 L632.6 1353.7 L630 1355 M772.3 1133.7 L767.6 1137.9 L765 1143.2 L761.7 1147.2 L761 1151.2 L763.7 1154.5 L765 1160.4 L765.7 1167.1 L763.7 1175 L760.4 1179.6 L762.3 1184.3 L763 1190.2 L767.6 1194.2 L770.9 1198.8 L776.2 1203.5 L778.2 1209.4 L783.5 1214 L790.1 1219.3 L796.8 1224 L802 1226 L808.7 1222.6 L816.6 1220.7 L824.5 1223.3 L832.5 1220.7 L840.4 1217.3 L847 1215.8 L853.7 1216 L857 1220 L859 1224 L865.6 1225.3 L873.5 1224.6 L876.2 1228.6 L878.1 1233.2 L876.2 1239.8 L874.8 1245.1 L873.5 1249.1 L876.2 1255.1 L880 1257.7 L885.3 1263.7 L889.3 1270.3 L892.6 1279.6 L891.2 1285.5 L893.9 1290.8 L894.6 1296.8 L889.3 1306 L886.6 1312.6 L885.3 1320.6 L887.3 1327.2 L890.6 1333.8 L894.6 1340.4 L897.9 1344.4 L898.5 1349.7 L899.2 1355 M891.9 1182.9 L895.9 1182.9 L899.9 1185.6 L901.2 1187.6 L896.5 1190.2 L893.9 1186.9 L891.9 1182.9 M985.2 1133.7 L987.9 1139.3 L992.5 1143.9 L995.1 1148.5 L996.5 1154.5 L995.8 1159.8 L999.1 1163.1 L1003.1 1167.1 L1004.4 1172.4 L1009 1176.3 L1012.3 1181 L1016.3 1184.9 L1020.3 1188.9 L1022.3 1192.2 L1020.3 1193.5 L1022.9 1196.8 L1027.6 1199.5 L1032.2 1197.5 L1038.8 1196.2 L1045.4 1194.8 L1052 1193.5 L1053.4 1191.5 L1056 1193.5 L1055.4 1198.8 L1053.4 1204.1 L1052 1208.1 L1048.1 1210.7 L1046.8 1216 L1043.4 1221.3 L1038.8 1226.6 L1034.8 1231.9 L1029.6 1235.9 L1023.6 1239.8 L1020.3 1245.1 L1015 1250.4 L1011 1254.4 L1007.7 1255.1 L1005.7 1260.4 L1003.7 1266.3 L1001.8 1270.3 L1005.1 1274.3 L1007.1 1279.6 L1007.7 1286.2 L1010.4 1292.8 L1009.7 1300.7 L1011 1308.7 L1009 1313.3 L1004.4 1317.3 L999.8 1319.9 L995.1 1321.2 L991.2 1325.9 L987.2 1329.8 L983.9 1333.1 L985.9 1337.8 L987.9 1343.1 L989.2 1348.4 L987.9 1353.7 L984.6 1355 M996.5 1133.7 L999.8 1137.3 L1002.4 1141.2 L1003.7 1145.9 L1003.1 1151.2 L1005.1 1154.5 L1009.7 1157.1 L1012.3 1161.1 L1015 1165.7 L1017.6 1171 L1019 1176.3 L1020.3 1182.3 L1021.6 1186.9 L1022.3 1190.2 L1025.6 1188.9 L1032.2 1186.9 L1038.8 1184.3 L1044.1 1182.3 L1049.4 1179.6 L1057.3 1177 L1062.6 1173.7 L1069.3 1170.4 L1074.5 1168.4 L1077.2 1165.1 L1081.2 1162.4 L1084.5 1156.5 L1087.8 1152.5 L1091.8 1147.2 L1093.1 1143.9 L1089.1 1140.6 L1085.1 1137.9 L1081.2 1135.3 L1078.5 1133.7 M1055.4 1136 L1058.7 1134.2 L1070.6 1134.2 L1069.3 1136.6 L1062.6 1137.7 L1057.3 1138.2 L1055.4 1136 M972.6 1245.1 L977.9 1242.5 L981.9 1244.5 L982.6 1248.4 L980.6 1253.7 L975.3 1255.7 L971.6 1255.7 L971.6 1250.4 L972.6 1245.1 M1038.2 1355 L1039.5 1349.7 L1042.1 1341.8 L1044.8 1333.8 L1047.4 1325.9 L1049.4 1317.9 L1052.7 1312 L1052 1307.3 L1049.4 1300.7 L1047.4 1296.8 L1044.1 1300.7 L1040.8 1306 L1036.2 1311.3 L1029.6 1314.6 L1024.9 1317.9 L1023.6 1323.2 L1026.2 1327.2 L1026.9 1332.5 L1023.6 1339.1 L1020.9 1344.4 L1022.9 1351 L1024.3 1355 M1122.2 1133.7 L1126.2 1137.9 L1130 1140.6 M1130 1143.2 L1134 1142.6 L1137.9 1143.9 L1134 1146.5 L1132.6 1149.9 L1137.3 1152.5 L1142.6 1151.8 L1146.5 1145.9 L1147.9 1151.2 L1147.2 1157.8 L1149.9 1165.7 L1152.5 1173.7 L1155.8 1181.6 L1158.5 1189.6 L1161.8 1197.5 L1165.1 1205.4 L1168.4 1209.4 L1172.4 1206.8 L1175.7 1202.1 L1179 1198.8 L1180.3 1192.2 L1182.3 1186.9 L1180.3 1181.6 L1180.3 1175.7 L1184.3 1173 L1190.2 1169.7 L1196.2 1163.1 L1202.1 1157.8 L1208.1 1153.8 L1210.7 1149.9 L1214.7 1147.2 L1222.6 1147.2 L1228.6 1143.2 L1231.9 1151.2 L1235.9 1156.5 L1239.8 1161.8 L1241.8 1168.4 L1242.5 1173.7 L1247.1 1173.7 L1253.7 1170.4 L1255.7 1176.3 L1257.7 1182.9 L1259.7 1189.6 L1260.4 1197.5 L1261 1204.1 L1262.3 1209.4 L1266.3 1214.7 L1268.3 1221.3 L1272.3 1230.6 L1276.2 1235.9 L1280.9 1239.8 L1284.8 1245.1 L1288.8 1249.8 L1292.1 1253.7 M1179 1202.1 L1182.3 1202.1 L1184.9 1206.8 L1187.6 1213.4 L1185.6 1217.3 L1181 1219.3 L1178.3 1216 L1177.9 1209.4 L1179 1202.1 M1290.1 1252.4 L1284.2 1241.2 L1280.2 1234.6 L1281.5 1229.3 L1280.2 1222.6 L1275.6 1217.3 L1270.3 1214.7 L1265 1209.4 L1263 1204.1 L1263.7 1198.8 L1265 1192.2 L1267 1186.2 L1270.9 1188.2 L1275.6 1191.5 L1280.2 1196.2 L1283.5 1200.8 L1286.8 1206.1 L1292.8 1202.1 L1296.8 1198.8 L1302 1194.8 L1305.4 1188.9 L1306 1182.3 L1303.4 1176.3 L1299.4 1171 L1294.8 1166.4 L1290.8 1161.8 L1290.1 1157.8 L1294.1 1152.5 L1300.7 1148.5 L1306 1147.9 L1308.7 1151.2 L1315.3 1149.2 L1323.2 1144.6 L1331.2 1142.6 L1339.1 1139.3 L1344.4 1135.3 L1348.4 1133.7 M1303.4 1156.5 L1306.7 1154.5 L1311.3 1155.1 L1313.3 1158.5 L1310.7 1162.4 L1306 1163.7 L1303.1 1161.1 L1303.4 1156.5 M1352.3 1140.6 L1355 1135.3 L1359.6 1133.7 L1360.3 1137.9 L1357 1145.9 L1354.3 1146.5 L1352.3 1140.6 M1245.1 1220 L1251.8 1220.7 L1257.1 1222.6 L1262.3 1227.3 L1269 1233.2 L1274.3 1235.9 L1279.6 1239.8 L1283.5 1245.1 L1287.5 1249.1 L1290.8 1253.7 L1291.5 1259.7 L1290.8 1267.6 L1286.2 1268.3 L1280.9 1263.7 L1275.6 1257.1 L1270.3 1251.8 L1266.3 1245.1 L1262.3 1238.5 L1257.7 1233.2 L1253.1 1227.9 L1247.8 1224 L1245.1 1220 M1298.7 1255.7 L1300.7 1255.1 L1301.7 1256.8 L1300.1 1258.1 L1298.5 1257.3 L1298.7 1255.7 M1290.1 1269 L1296.8 1269.6 L1304.7 1272.3 L1312.6 1271.6 L1320.6 1273.6 L1328.5 1276.9 L1336.5 1279.6 L1344.4 1280.2 L1352.3 1282.2 L1347 1284.2 L1339.1 1283.5 L1331.2 1281.5 L1323.2 1278.9 L1315.3 1277.6 L1307.3 1276.2 L1299.4 1275.6 L1292.8 1273.6 L1288.8 1270.9 L1290.1 1269 M1320.6 1274 L1325.9 1276.2 L1328.5 1277.2 M1306 1245.1 L1304.7 1241.2 L1311.3 1234.6 L1319.3 1227.9 L1325.9 1222.6 L1333.8 1217.3 L1340.4 1214.7 L1344.4 1218.7 L1347 1224 L1345.7 1229.3 L1343.1 1234.6 L1347 1239.8 L1341.8 1242.5 L1339.1 1249.1 L1336.5 1255.7 L1333.8 1259.7 L1328.5 1262.3 L1321.9 1258.4 L1315.3 1257.1 L1310 1255.7 L1308.7 1249.1 L1306 1245.1 M1323.9 1355 L1324.5 1349.7 L1325.9 1343.1 L1331.2 1339.1 L1337.8 1335.8 L1347 1333.8 L1355 1331.2 L1360.3 1325.9 L1363.6 1319.3 L1366.9 1320.6 L1369.5 1315.3 L1374.8 1310 L1380 1306 M1353.2 1164.4 L1356.5 1162.4 L1361.8 1163.1 L1363.1 1169 L1359.8 1173.7 L1358.5 1178.3 L1362.4 1181 L1368.4 1182.9 L1372.4 1186.9 L1376.3 1190.9 L1375 1194.8 L1371 1192.2 L1367.1 1188.2 L1363.1 1184.3 L1359.8 1185.6 L1356.5 1182.9 L1353.2 1180.3 L1351.2 1175 L1351.8 1169.7 L1353.2 1164.4 M1359.9 1188.9 L1359.4 1190.6 L1358.1 1191.3 L1356.7 1190.6 L1356.2 1188.9 L1356.7 1187.2 L1358.1 1186.5 L1359.4 1187.2 L1359.9 1188.9 M1364.5 1196.2 L1363.9 1198.2 L1362.4 1199.1 L1360.9 1198.2 L1360.3 1196.2 L1360.9 1194.1 L1362.4 1193.3 L1363.9 1194.1 L1364.5 1196.2 M1368 1202.1 L1367.5 1204.2 L1366.4 1205 L1365.3 1204.2 L1364.8 1202.1 L1365.3 1200.1 L1366.4 1199.2 L1367.5 1200.1 L1368 1202.1 M1372.9 1196.2 L1372.3 1198.4 L1371 1199.3 L1369.7 1198.4 L1369.2 1196.2 L1369.7 1193.9 L1371 1193 L1372.3 1193.9 L1372.9 1196.2 M1376.6 1198.8 L1376.1 1200.7 L1375 1201.5 L1373.9 1200.7 L1373.4 1198.8 L1373.9 1196.9 L1375 1196.2 L1376.1 1196.9 L1376.6 1198.8 M1371 1204.1 L1370.6 1205.4 L1369.7 1206 L1368.8 1205.4 L1368.4 1204.1 L1368.8 1202.8 L1369.7 1202.3 L1370.6 1202.8 L1371 1204.1 M1365.1 1190.2 L1364.7 1191.2 L1363.7 1191.5 L1362.8 1191.2 L1362.4 1190.2 L1362.8 1189.3 L1363.7 1188.9 L1364.7 1189.3 L1365.1 1190.2 M1375 1192.2 L1374.6 1193.3 L1373.7 1193.8 L1372.7 1193.3 L1372.4 1192.2 L1372.7 1191.1 L1373.7 1190.6 L1374.6 1191.1 L1375 1192.2 M1368.4 1214.7 L1369.7 1210.7 L1373.7 1209.4 L1376.3 1206.8 L1379.6 1209.4 L1380.6 1214.7 L1377 1218 L1373.7 1216 L1372.4 1218.9 L1369.7 1217.3 L1368.4 1214.7 M1349.9 1245.1 L1351.8 1241.2 L1357.8 1238.8 L1365.7 1238.5 L1372.4 1236.5 L1375.7 1237.9 L1374.3 1240.9 L1369 1243.2 L1363.1 1244.1 L1358.5 1245.1 L1356.5 1247.8 L1363.1 1247.1 L1367.1 1246.5 L1365.7 1249.1 L1360.4 1251.1 L1358.5 1254.4 L1361.8 1259 L1365.1 1263.7 L1365.7 1267.6 L1363.1 1268.3 L1359.8 1263.7 L1356.5 1257.7 L1354.5 1261 L1353.8 1268.3 L1349.2 1268.3 L1349.2 1262.3 L1346.5 1257.1 L1348.5 1251.8 L1349.9 1245.1 M1383.6 1235.2 L1386.9 1234.6 L1388.9 1239.8 L1388.2 1246.5 L1386.2 1250.4 L1383.6 1249.1 L1385.6 1243.8 L1382.9 1239.8 L1383.6 1235.2 M1386.9 1256.4 L1393.5 1255.5 L1397.5 1257.7 L1394.8 1260.4 L1388.2 1259 L1386.9 1256.4 M1395.5 1245.1 L1401.5 1246.5 L1406.8 1244.9 L1411.4 1247.1 L1413.4 1251.1 L1409.4 1253.7 L1404.8 1252.4 L1402.8 1255.7 L1406.8 1259 L1412.1 1260.4 L1417.3 1257.1 L1421.3 1254.4 L1426.6 1251.1 L1431.9 1251.1 L1439.8 1253.7 L1446.5 1255.7 L1453.1 1257.7 L1459 1260.4 L1462.3 1265 L1465.7 1269 L1467.6 1271.6 L1470.3 1275.6 L1474.3 1280.9 L1479.6 1284.8 L1484.2 1288.8 L1481.5 1290.8 L1475.6 1287.5 L1470.3 1282.2 L1466.3 1277.6 L1461 1276.2 L1457.1 1275.6 L1453.7 1279.6 L1449.8 1284.2 L1445.1 1283.5 L1441.2 1282.9 L1437.2 1279.6 L1431.9 1278.9 L1427.9 1280.2 L1431.2 1275.6 L1431.9 1270.9 L1428.6 1266.3 L1422.6 1263.7 L1417.3 1261 L1412.1 1260.4 M1395.5 1245.1 L1398.8 1249.1 L1402.1 1252.4 L1404.8 1252.4 M1467.6 1270.6 L1475.6 1268.3 L1484.8 1266.3 L1488.8 1263 L1493.4 1262.3 L1494.4 1260.4 L1488.8 1256.4 L1484.2 1255.1 L1489.5 1259 L1486.8 1263.7 L1482.2 1267.6 L1475.6 1270.3 L1470.3 1272.3 M1365.7 1289.5 L1371 1285.5 L1377.6 1281.5 L1382.9 1278.9 L1383.6 1280.9 L1377.6 1284.2 L1372.4 1288.2 L1367.7 1290.4 L1365.7 1289.5 M1380.3 1304.7 L1384.3 1305.4 L1387.6 1310.7 L1393.5 1309.3 L1392.2 1306 L1395.5 1302 L1397.5 1298.1 L1394.8 1294.8 L1400.1 1294.1 L1398.8 1296.8 L1404.1 1294.8 L1409.4 1295.4 L1416 1296.8 L1424.6 1297 L1424.6 1300.7 L1420.7 1303.4 L1420 1310 L1422.6 1313.3 L1429.3 1316.6 L1434.6 1319.9 L1439.2 1322.6 L1442.5 1317.9 L1443.8 1311.3 L1444.5 1303.4 L1445.8 1295.4 L1447.1 1290.8 L1449.8 1291.5 L1451.8 1298.1 L1454.4 1304.7 L1459 1308.7 L1461 1315.3 L1463.7 1320.6 L1466.3 1325.9 L1472.3 1331.2 L1476.9 1336.5 L1480.9 1341.8 L1485.5 1347 L1488.8 1352.3 L1490.8 1355 M1712.9 1157.2 L1716.2 1155.5 L1719.1 1158 L1717.5 1161 L1714.2 1160.5 L1712.9 1157.2 M1598.5 1321.4 L1601 1319.7 L1604 1321.4 L1602.3 1323.8 L1599.3 1323.5 L1598.5 1321.4" stroke="#000" stroke-width="2"/>
<path d="M960.1 1259 L961.4 1265 L964.7 1272.9 L968 1280.9 M982.6 1292.8 L983.9 1299.4 L986.5 1306.7 M1353.7 1281.5 L1360.3 1280.9 L1366.9 1281.1 L1372.2 1280.2 L1376.4 1279 M1348.4 1286.6 L1355 1288.2 M1340.4 1206.8 L1350.4 1196.2 M1501 1268 L1505 1272 L1508.4 1274 M1518.2 1277.8 L1524.8 1280.5 L1530.1 1283.1 L1534.1 1290.4 M1553.4 1309.2 L1558 1317.1 M1704 1149.3 L1713 1151.7 L1718.2 1156.7" stroke="#000" stroke-width="2.8"/>
<ellipse cx="501.8" cy="1164.7" rx="3.8" ry="1.6" fill="#000" transform="rotate(8 501.8 1164.7)"/>
<ellipse cx="548.7" cy="1164.1" rx="3.6" ry="1.6" fill="#000" transform="rotate(0 548.7 1164.1)"/>
<ellipse cx="477.9" cy="1149.9" rx="1.6" ry="1.2" fill="#000" transform="rotate(0 477.9 1149.9)"/>
<ellipse cx="442.2" cy="1246.7" rx="1.7" ry="2.3" fill="#000" transform="rotate(-20 442.2 1246.7)"/>
<ellipse cx="484.6" cy="1135" rx="1.4" ry="1.6" fill="#000" transform="rotate(0 484.6 1135)"/>
<ellipse cx="500.4" cy="1136.9" rx="1.4" ry="1.6" fill="#000" transform="rotate(0 500.4 1136.9)"/>
<ellipse cx="513" cy="1139.3" rx="1.4" ry="1.6" fill="#000" transform="rotate(0 513 1139.3)"/>
<ellipse cx="520.3" cy="1145.2" rx="1.4" ry="1.6" fill="#000" transform="rotate(0 520.3 1145.2)"/>
<ellipse cx="519" cy="1150.5" rx="1.4" ry="1.6" fill="#000" transform="rotate(0 519 1150.5)"/>
<ellipse cx="526.2" cy="1147.2" rx="1.4" ry="1.6" fill="#000" transform="rotate(0 526.2 1147.2)"/>
<ellipse cx="569.3" cy="1173.7" rx="1.4" ry="1.6" fill="#000" transform="rotate(0 569.3 1173.7)"/>
<ellipse cx="572.6" cy="1180" rx="1.4" ry="1.6" fill="#000" transform="rotate(0 572.6 1180)"/>
<ellipse cx="527.2" cy="1203.5" rx="1.4" ry="1.6" fill="#000" transform="rotate(0 527.2 1203.5)"/>
<ellipse cx="569.3" cy="1199.1" rx="2.6" ry="1.6" fill="#000" transform="rotate(0 569.3 1199.1)"/>
<ellipse cx="1067.3" cy="1189.8" rx="3.2" ry="1.5" fill="#000" transform="rotate(0 1067.3 1189.8)"/>
<ellipse cx="1073.9" cy="1337.1" rx="1.8" ry="1.6" fill="#000" transform="rotate(0 1073.9 1337.1)"/>
<ellipse cx="1082.5" cy="1333.5" rx="1.5" ry="1.5" fill="#000" transform="rotate(0 1082.5 1333.5)"/>
<ellipse cx="1234.9" cy="1189.6" rx="1.4" ry="3.4" fill="#000" transform="rotate(8 1234.9 1189.6)"/>
<ellipse cx="1249.1" cy="1233.2" rx="1.2" ry="1.0" fill="#000" transform="rotate(0 1249.1 1233.2)"/>
<ellipse cx="1255.1" cy="1239.2" rx="1.5" ry="2.2" fill="#000" transform="rotate(-30 1255.1 1239.2)"/>
<ellipse cx="1261" cy="1249.8" rx="1.5" ry="2.2" fill="#000" transform="rotate(-30 1261 1249.8)"/>
<ellipse cx="1292.5" cy="1254.7" rx="2.2" ry="1.8" fill="#000" transform="rotate(0 1292.5 1254.7)"/>
<ellipse cx="1360.7" cy="1214" rx="1.4" ry="1.2" fill="#000" transform="rotate(0 1360.7 1214)"/>
<ellipse cx="1376.3" cy="1216" rx="2.0" ry="1.6" fill="#000" transform="rotate(0 1376.3 1216)"/>
<ellipse cx="1372.4" cy="1251.5" rx="1.6" ry="0.9" fill="#000" transform="rotate(0 1372.4 1251.5)"/>
<ellipse cx="1379.9" cy="1258.6" rx="2.0" ry="1.6" fill="#000" transform="rotate(0 1379.9 1258.6)"/>
<ellipse cx="1413.4" cy="1271.6" rx="1.6" ry="2.4" fill="#000" transform="rotate(15 1413.4 1271.6)"/>
<ellipse cx="1400.8" cy="1276.9" rx="1.2" ry="2.0" fill="#000" transform="rotate(20 1400.8 1276.9)"/>
<ellipse cx="1420" cy="1247.5" rx="2.0" ry="1.8" fill="#000" transform="rotate(0 1420 1247.5)"/>
<ellipse cx="1467.6" cy="1253.1" rx="1.4" ry="0.9" fill="#000" transform="rotate(0 1467.6 1253.1)"/>
<ellipse cx="1512.4" cy="1279.6" rx="1.4" ry="0.9" fill="#000" transform="rotate(30 1512.4 1279.6)"/>
<ellipse cx="1523.5" cy="1285.9" rx="2.6" ry="1.8" fill="#000" transform="rotate(20 1523.5 1285.9)"/>
<ellipse cx="1548.4" cy="1338.8" rx="7.6" ry="1.7" fill="#000" transform="rotate(33 1548.4 1338.8)"/>
<ellipse cx="1696.7" cy="1146.5" rx="2.4" ry="1.2" fill="#000" transform="rotate(-20 1696.7 1146.5)"/>
<ellipse cx="1555.3" cy="1313.1" rx="1.4" ry="4.2" fill="#000" transform="rotate(-25 1555.3 1313.1)"/>
<ellipse cx="1607.3" cy="1316.4" rx="2.4" ry="1.2" fill="#000" transform="rotate(-20 1607.3 1316.4)"/>
<ellipse cx="1643.9" cy="1303.7" rx="3.6" ry="1.3" fill="#000" transform="rotate(18 1643.9 1303.7)"/>
<ellipse cx="1741.7" cy="1321.7" rx="1.3" ry="1.6" fill="#000" transform="rotate(-30 1741.7 1321.7)"/>
<path d="M260.5 1203.1 L265.5 1203.9 L270.5 1204.8 L275.5 1205.7 L280.5 1206.6 L285.5 1207.6 L290.5 1208.5 L295.5 1209.5 L300.5 1210.5 L305.5 1211.5 L310.5 1212.5 L315.5 1213.5 L320.5 1214.6 L325.5 1215.6 L330.5 1216.7 L335.5 1217.8 L340.5 1218.9 L345.5 1220 L350.5 1221.1 L355.5 1222.3 L360.5 1223.4 L365.5 1224.6 L370.5 1225.7 L375.5 1226.9 L380.5 1228.1 L385.5 1229.3 L390.5 1230.5 L395.5 1231.7 L400.5 1232.9 L405.5 1234.1 L410.5 1235.4 L415.5 1236.6 L420.5 1237.8 L425.5 1239 L430.5 1240.3 L435.5 1241.5 L440.5 1242.8 L445.5 1244 L450.5 1245.2 L455.5 1246.5 L460.5 1247.7 L465.5 1249 L470.5 1250.2 L475.5 1251.4 L480.5 1252.7 L485.5 1253.9 L490.5 1255.1 L495.5 1256.3 L500.5 1257.5 L505.5 1258.8 L510.5 1259.9 L515.5 1261.1 L520.5 1262.3 L525.5 1263.5 L530.5 1264.7 L535.5 1265.8 L540.5 1267 L545.5 1268.1 L550.5 1269.2 L555.5 1270.3 L560.5 1271.4 L565.5 1272.5 L570.5 1273.6 L575.5 1274.7 L580.5 1275.7 L585.5 1276.7 L590.5 1277.7 L595.5 1278.7 L600.5 1279.7 L605.5 1280.7 L610.5 1281.6 L615.5 1282.6 L620.5 1283.5 L625.5 1284.4 L630.5 1285.2 L635.5 1286.1 L640.5 1286.9 L645.5 1287.7 L650.5 1288.5 L655.5 1289.3 L660.5 1290 L665.5 1290.8 L670.5 1291.5 L675.5 1292.2 L680.5 1292.8 L685.5 1293.5 L690.5 1294.1 L695.5 1294.7 L700.5 1295.2 L705.5 1295.8 L710.5 1296.3 L715.5 1296.8 L720.5 1297.3 L725.5 1297.7 L730.5 1298.1 L735.5 1298.5 L740.5 1298.9 L745.5 1299.2 L750.5 1299.5 L755.5 1299.8 L760.5 1300.1 L765.5 1300.3 L770.5 1300.5 L775.5 1300.7 L780.5 1300.8 L785.5 1301 L790.5 1301.1 L795.5 1301.1 L800.5 1301.2 L805.5 1301.2 L810.5 1301.2 L815.5 1301.1 L820.5 1301.1 L825.5 1301 L830.5 1300.9 L835.5 1300.7 L840.5 1300.5 L845.5 1300.3 L850.5 1300.1 L855.5 1299.9 L860.5 1299.6 L865.5 1299.3 L870.5 1298.9 L875.5 1298.6 L880.5 1298.2 L885.5 1297.8 L890.5 1297.3 L895.5 1296.9 L900.5 1296.4 L905.5 1295.9 L910.5 1295.3 L915.5 1294.8 L920.5 1294.2 L925.5 1293.6 L930.5 1293 L935.5 1292.3 L940.5 1291.6 L945.5 1290.9 L950.5 1290.2 L955.5 1289.5 L960.5 1288.7 L965.5 1287.9 L970.5 1287.1 L975.5 1286.3 L980.5 1285.4 L985.5 1284.5 L990.5 1283.6 L995.5 1282.7 L1000.5 1281.8 L1005.5 1280.9 L1010.5 1279.9 L1015.5 1278.9 L1020.5 1277.9 L1025.5 1276.9 L1030.5 1275.9 L1035.5 1274.9 L1040.5 1273.8 L1045.5 1272.7 L1050.5 1271.7 L1055.5 1270.6 L1060.5 1269.4 L1065.5 1268.3 L1070.5 1267.2 L1075.5 1266 L1080.5 1264.9 L1085.5 1263.7 L1090.5 1262.6 L1095.5 1261.4 L1100.5 1260.2 L1105.5 1259 L1110.5 1257.8 L1115.5 1256.6 L1120.5 1255.4 L1125.5 1254.1 L1130.5 1252.9 L1135.5 1251.7 L1140.5 1250.4 L1145.5 1249.2 L1150.5 1248 L1155.5 1246.7 L1160.5 1245.5 L1165.5 1244.3 M1279.5 1244.7 L1284.5 1243.5 L1289.5 1242.3 L1294.5 1241 L1299.5 1239.8 L1304.5 1238.6 L1309.5 1237.3 L1314.5 1236.1 L1319.5 1234.9 L1324.5 1233.6 L1329.5 1232.4 L1334.5 1231.2 L1339.5 1230 L1344.5 1228.8 L1349.5 1227.6 L1354.5 1226.4 L1359.5 1225.3 L1364.5 1224.1 L1369.5 1223 L1374.5 1221.8 L1379.5 1220.7 L1384.5 1219.6 L1389.5 1218.4 L1394.5 1217.3 L1399.5 1216.3 L1404.5 1215.2 L1409.5 1214.1 L1414.5 1213.1 L1419.5 1212.1 L1424.5 1211.1 L1429.5 1210.1 L1434.5 1209.1 L1439.5 1208.1 L1444.5 1207.2 L1449.5 1206.3 L1454.5 1205.4 L1459.5 1204.5 L1464.5 1203.6 L1469.5 1202.7 L1474.5 1201.9 L1479.5 1201.1 L1484.5 1200.3 L1489.5 1199.5 L1494.5 1198.8 L1499.5 1198.1 L1504.5 1197.4 L1509.5 1196.7 L1514.5 1196 L1519.5 1195.4 L1524.5 1194.8 L1529.5 1194.2 L1534.5 1193.7 L1539.5 1193.1 L1544.5 1192.6 L1549.5 1192.1 L1554.5 1191.7 L1559.5 1191.2 L1564.5 1190.8 L1569.5 1190.4 L1574.5 1190.1 L1579.5 1189.7 L1584.5 1189.4 L1589.5 1189.1 L1594.5 1188.9 L1599.5 1188.7 L1604.5 1188.5 L1609.5 1188.3 L1614.5 1188.1 L1619.5 1188 L1624.5 1187.9 L1629.5 1187.9 L1634.5 1187.8 L1639.5 1187.8 L1644.5 1187.8 L1649.5 1187.9 L1654.5 1187.9 L1659.5 1188 L1664.5 1188.2 L1669.5 1188.3 L1674.5 1188.5 L1679.5 1188.7 L1684.5 1188.9 L1689.5 1189.2 L1694.5 1189.5 L1699.5 1189.8 L1704.5 1190.1 L1709.5 1190.5 L1714.5 1190.9 L1719.5 1191.3 L1724.5 1191.7 L1729.5 1192.2 L1734.5 1192.7 L1739.5 1193.2 L1744.5 1193.8 L1749.5 1194.3 L1754.5 1194.9 L1759.5 1195.5 L1764.5 1196.2 L1769.5 1196.8 L1774.5 1197.5 L1779.5 1198.2 L1784.5 1199 L1789.5 1199.7 L1794.5 1200.5 L1799.5 1201.3 L1804.5 1202.1 L1809.5 1202.9 L1810.5 1203.1" stroke="#c42030" stroke-width="1.2"/>
<path d="M504.4 1288.8 L506.2 1293.9 L511.5 1294 L507.3 1297.2 L508.8 1302.4 L504.4 1299.3 L500 1302.4 L501.5 1297.2 L497.3 1294 L502.6 1293.9Z M644 1248 L645.8 1253.1 L651.1 1253.2 L646.9 1256.4 L648.4 1261.6 L644 1258.5 L639.6 1261.6 L641.1 1256.4 L636.9 1253.2 L642.2 1253.1Z M1458.2 1178 L1460 1183.1 L1465.3 1183.2 L1461.1 1186.4 L1462.6 1191.6 L1458.2 1188.5 L1453.8 1191.6 L1455.3 1186.4 L1451.1 1183.2 L1456.4 1183.1Z M1556.1 1196.4 L1557.9 1201.5 L1563.2 1201.6 L1559 1204.8 L1560.5 1210 L1556.1 1206.9 L1551.7 1210 L1553.2 1204.8 L1549 1201.6 L1554.3 1201.5Z M1707.1 1228.2 L1708.9 1233.3 L1714.2 1233.4 L1710 1236.6 L1711.5 1241.8 L1707.1 1238.7 L1702.7 1241.8 L1704.2 1236.6 L1700 1233.4 L1705.3 1233.3Z" stroke="#cc33cc" stroke-width="1.1" stroke-linejoin="miter" stroke-linecap="butt"/>
<path d="M258.5 1258.3 L440 1289.4 L505 1296.4 L520 1294.6 L577.2 1283 L630 1253.4 L643 1246.5 L669.7 1231.9 L702.8 1214.7 L712 1211.4 L735.9 1205.4 L767.6 1198.2 L802 1196.8 L828.5 1196.2 L855 1197.2 L880 1198 L932.9 1204.1 L981.9 1208.1 L1025.6 1212.7 L1065.3 1213.6 L1105 1213.6 L1111.6 1212.1 L1130 1212 L1169.7 1210 L1209.4 1208.7 L1262 1208.5 L1315 1208.9 L1383 1209.4 L1426.6 1209 L1449 1209.4 L1479.5 1210.7 L1515.3 1216.7 L1566 1224 L1632 1235.6 L1698 1245.5 L1764 1253.7 L1812.5 1258.9" stroke="#0aee14" stroke-width="5.5" stroke-linecap="butt"/>
<path d="M746 1299.2 L748 1299.4 L750 1299.5 L752 1299.6 L754 1299.7 L756 1299.8 L756.2 1299.8M760 1300 L762 1300.1 L764 1300.2 L766 1300.3 L768 1300.4 L770 1300.5 L770.2 1300.5M774 1300.6 L776 1300.7 L778 1300.8 L780 1300.8 L782 1300.9 L784 1300.9 L784.2 1300.9M788 1301 L790 1301 L792 1301.1 L794 1301.1 L796 1301.1 L798 1301.1 L798.2 1301.2M802 1301.2 L804 1301.2 L806 1301.2 L808 1301.2 L810 1301.2 L812 1301.2 L812.2 1301.2M816 1301.1 L818 1301.1 L820 1301.1 L822 1301 L824 1301 L826 1301 L826.2 1301M830 1300.9 L832 1300.8 L834 1300.8 L836 1300.7 L838 1300.6 L840 1300.6 L840.2 1300.5M844 1300.4 L846 1300.3 L848 1300.2 L850 1300.1 L852 1300 L854 1299.9 L854.2 1299.9M858 1299.7 L860 1299.6 L862 1299.5 L864 1299.4 L866 1299.2 L868 1299.1 L868.2 1299.1M872 1298.8 L874 1298.7 L876 1298.5 L878 1298.4 L880 1298.2 L882 1298.1 L882.2 1298M886 1297.7 L888 1297.6 L890 1297.4 L892 1297.2 L894 1297 L896 1296.8 L896.2 1296.8M900 1296.4 L902 1296.2 L904 1296 L906 1295.8 L908 1295.6 L910 1295.4 L910.2 1295.4M914 1295 L916 1294.7 L918 1294.5 L920 1294.3 L922 1294 L924 1293.8 L924.2 1293.7M928 1293.3 L930 1293 L932 1292.8 L934 1292.5 L936 1292.2 L938 1292 L938.2 1291.9M942 1291.4 L944 1291.1 L946 1290.8 L948 1290.6 L950 1290.3 L952 1290 L952.2 1289.9M956 1289.4 L958 1289.1 L960 1288.8 L962 1288.4 L964 1288.1 L966 1287.8 L966.2 1287.8M970 1287.2 L972 1286.8 L974 1286.5 L976 1286.2 L978 1285.8 L980 1285.5 L980.2 1285.4M984 1284.8 L986 1284.4 L988 1284.1 L990 1283.7 L992 1283.4 L994 1283 L994.2 1283M998 1282.3 L1000 1281.9 L1002 1281.5 L1004 1281.2 L1006 1280.8 L1008 1280.4 L1008.2 1280.3M1012 1279.6 L1014 1279.2 L1016 1278.8 L1018 1278.4 L1020 1278 L1022 1277.6 L1022.2 1277.6M1026 1276.8 L1028 1276.4 L1030 1276 L1032 1275.6 L1034 1275.2 L1036 1274.8 L1036.2 1274.7M1040 1273.9 L1042 1273.5 L1044 1273.1 L1046 1272.6 L1048 1272.2 L1050 1271.8 L1050.2 1271.7M1054 1270.9 L1056 1270.4 L1058 1270 L1060 1269.6 L1062 1269.1 L1064 1268.7 L1064.2 1268.6M1068 1267.8 L1070 1267.3 L1072 1266.8 L1074 1266.4 L1076 1265.9 L1078 1265.5 L1078.2 1265.4M1082 1264.5 L1084 1264.1 L1086 1263.6 L1088 1263.1 L1090 1262.7 L1092 1262.2 L1092.2 1262.1M1096 1261.3 L1098 1260.8 L1100 1260.3 L1102 1259.8 L1104 1259.4 L1106 1258.9 L1106.2 1258.8M1110 1257.9 L1112 1257.4 L1114 1256.9 L1116 1256.5 L1118 1256 L1120 1255.5 L1120.2 1255.4M1124 1254.5 L1126 1254 L1128 1253.5 L1130 1253 L1132 1252.5 L1134 1252.1 L1134.2 1252M1138 1251.1 L1140 1250.6 L1142 1250.1 L1144 1249.6 L1146 1249.1 L1148 1248.6 L1148.2 1248.5M1152 1247.6 L1154 1247.1 L1156 1246.6 L1158 1246.1 L1160 1245.6 L1162 1245.1 L1162.2 1245.1M1166 1244.1 L1168 1243.6 L1170 1243.1 L1171 1242.9" fill="none" stroke="#f01010" stroke-width="12" stroke-linecap="butt"/>
<path d="M1280 1244.6 L1282 1244.1 L1284 1243.6 L1286 1243.1 L1288 1242.6 L1290 1242.1 L1290.2 1242.1M1294 1241.1 L1296 1240.7 L1298 1240.2 L1300 1239.7 L1302 1239.2 L1304 1238.7 L1304.2 1238.6M1308 1237.7 L1310 1237.2 L1312 1236.7 L1314 1236.2 L1316 1235.7 L1318 1235.2 L1318.2 1235.2M1322 1234.2 L1324 1233.8 L1326 1233.3 L1328 1232.8 L1330 1232.3 L1332 1231.8 L1332.2 1231.8M1336 1230.9 L1338 1230.4 L1340 1229.9 L1342 1229.4 L1344 1228.9 L1346 1228.5 L1346.2 1228.4M1350 1227.5 L1351 1227.3" fill="none" stroke="#f01010" stroke-width="12" stroke-linecap="butt"/>
</g>
<text x="1034.5" y="113" text-anchor="middle" fill="#000" textLength="567" font-weight="bold" xml:space="preserve">Day 275  02-Oct-2009 20:09:36   orbit 7930</text>
<text x="241.8" y="145.8" text-anchor="end" textLength="32">10</text>
<text x="241.8" y="128.8" font-size="17.6">6</text>
<text x="241.8" y="309.1" text-anchor="end" textLength="32">10</text>
<text x="241.8" y="292.1" font-size="17.6">5</text>
<text x="241.8" y="472.4" text-anchor="end" textLength="32">10</text>
<text x="241.8" y="455.4" font-size="17.6">4</text>
<text x="241.8" y="635.7" text-anchor="end" textLength="32">10</text>
<text x="241.8" y="618.7" font-size="17.6">3</text>
<text x="241.8" y="799" text-anchor="end" textLength="32">10</text>
<text x="241.8" y="782" font-size="17.6">2</text>
<text x="1816.8" y="921.5" fill="#1510c4" textLength="48">400</text>
<text x="1816.8" y="839.9" fill="#1510c4" textLength="48">450</text>
<text x="1816.8" y="758.1" fill="#1510c4" textLength="48">500</text>
<text x="1816.8" y="676.4" fill="#1510c4" textLength="48">550</text>
<text x="1816.8" y="594.8" fill="#1510c4" textLength="48">600</text>
<text x="1816.8" y="513.1" fill="#1510c4" textLength="48">650</text>
<text x="1816.8" y="431.4" fill="#1510c4" textLength="48">700</text>
<text x="1816.8" y="349.6" fill="#1510c4" textLength="48">750</text>
<text x="1816.8" y="268" fill="#1510c4" textLength="48">800</text>
<text x="1816.8" y="186.3" fill="#1510c4" textLength="48">850</text>
<text x="1498.6" y="843" fill="#1510c4" textLength="90.6">Eclipse</text>
<text x="1499" y="883.8" textLength="256.3">One Minute Average</text>
<text x="1499" y="925.5" fill="#0aee14" textLength="267.3">One Second Average</text>
<text x="236.1" y="1005.4" text-anchor="end" textLength="32">10</text>
<text x="236.6" y="988.4" font-size="17.6">-1</text>
<text x="236.1" y="1056.4" text-anchor="end" textLength="32">10</text>
<text x="236.6" y="1039.4" font-size="17.6">0</text>
<text x="236.1" y="1107.4" text-anchor="end" textLength="32">10</text>
<text x="236.6" y="1090.4" font-size="17.6">1</text>
<text x="251.2" y="1193.1" text-anchor="end">N</text>
<text x="233" y="1181.9" text-anchor="end" font-size="23">o</text>
<text x="220.6" y="1193.1" text-anchor="end" textLength="32">15</text>
<text x="244.3" y="1246.9" text-anchor="end" font-size="23">o</text>
<text x="231" y="1258.1" text-anchor="end">0</text>
<text x="251.2" y="1323.1" text-anchor="end">S</text>
<text x="233" y="1311.9" text-anchor="end" font-size="23">o</text>
<text x="220.6" y="1323.1" text-anchor="end" textLength="32">15</text>
<text transform="translate(179,598.9) rotate(-90)">N<tspan font-size="22" dy="14">i</tspan><tspan dy="-14"> (cm</tspan><tspan font-size="22" dy="-12.4">-3</tspan><tspan dy="12.4">)</tspan></text>
<text transform="translate(1900.9,591.5) rotate(-90)" fill="#1510c4">alt (km)</text>
<text transform="translate(184.9,1152.3) rotate(-90)" textLength="212.5">Wavelength (km)</text>
<text transform="translate(1899.9,1661.8) rotate(-90)" font-size="22" textLength="390.5">Preliminary corrected calibration, 2/11/09</text>
<text transform="translate(1925.2,1661.8) rotate(-90)" font-size="22" textLength="312">Produced 27-Oct-2009 20:09:40</text>
<text x="255.7" y="1401.7" text-anchor="middle" textLength="80.5">GLON</text>
<text x="439.8" y="1401.7" text-anchor="middle" textLength="72">268.4</text>
<text x="620.8" y="1401.7" text-anchor="middle" textLength="72">310.3</text>
<text x="800.8" y="1401.7" text-anchor="middle" textLength="72">352.2</text>
<text x="980.8" y="1401.7" text-anchor="middle" textLength="72">034.0</text>
<text x="1160.8" y="1401.7" text-anchor="middle" textLength="72">075.8</text>
<text x="1445.8" y="1401.7" text-anchor="middle" textLength="72">142.1</text>
<text x="1627.8" y="1401.7" text-anchor="middle" textLength="72">184.2</text>
<text x="1809.8" y="1401.7" text-anchor="middle" textLength="72">226.4</text>
<text x="255.7" y="1442.5" text-anchor="middle" textLength="72.1">GLAT</text>
<text x="439.8" y="1442.5" text-anchor="middle" textLength="72">+00.6</text>
<text x="620.8" y="1442.5" text-anchor="middle" textLength="65">-08.9</text>
<text x="800.8" y="1442.5" text-anchor="middle" textLength="65">-13.1</text>
<text x="980.8" y="1442.5" text-anchor="middle" textLength="65">-09.7</text>
<text x="1160.8" y="1442.5" text-anchor="middle" textLength="65">-00.5</text>
<text x="1445.8" y="1442.5" text-anchor="middle" textLength="72">+08.9</text>
<text x="1627.8" y="1442.5" text-anchor="middle" textLength="72">+13.1</text>
<text x="1809.8" y="1442.5" text-anchor="middle" textLength="72">+09.7</text>
<text x="259.7" y="1483.2" text-anchor="middle" textLength="72.1">GALT</text>
<text x="443.4" y="1483.2" text-anchor="middle" textLength="48">567</text>
<text x="624.4" y="1483.2" text-anchor="middle" textLength="48">738</text>
<text x="804.4" y="1483.2" text-anchor="middle" textLength="48">838</text>
<text x="984.4" y="1483.2" text-anchor="middle" textLength="48">808</text>
<text x="1164.4" y="1483.2" text-anchor="middle" textLength="48">663</text>
<text x="1449.4" y="1483.2" text-anchor="middle" textLength="48">495</text>
<text x="1631.4" y="1483.2" text-anchor="middle" textLength="48">406</text>
<text x="1813.4" y="1483.2" text-anchor="middle" textLength="48">432</text>
<text x="255.7" y="1524" text-anchor="middle" textLength="82.1">MLON</text>
<text x="439.8" y="1524" text-anchor="middle" textLength="72">338.1</text>
<text x="620.8" y="1524" text-anchor="middle" textLength="72">021.1</text>
<text x="800.8" y="1524" text-anchor="middle" textLength="72">060.1</text>
<text x="980.8" y="1524" text-anchor="middle" textLength="72">104.3</text>
<text x="1160.8" y="1524" text-anchor="middle" textLength="72">146.6</text>
<text x="1445.8" y="1524" text-anchor="middle" textLength="72">212.3</text>
<text x="1627.8" y="1524" text-anchor="middle" textLength="72">252.8</text>
<text x="1809.8" y="1524" text-anchor="middle" textLength="72">295.1</text>
<text x="255.7" y="1564.8" text-anchor="middle" textLength="73.7">MLAT</text>
<text x="439.8" y="1564.8" text-anchor="middle" textLength="72">+10.6</text>
<text x="620.8" y="1564.8" text-anchor="middle" textLength="72">+01.8</text>
<text x="800.8" y="1564.8" text-anchor="middle" textLength="65">-21.0</text>
<text x="980.8" y="1564.8" text-anchor="middle" textLength="65">-20.4</text>
<text x="1160.8" y="1564.8" text-anchor="middle" textLength="65">-10.2</text>
<text x="1445.8" y="1564.8" text-anchor="middle" textLength="72">+00.9</text>
<text x="1627.8" y="1564.8" text-anchor="middle" textLength="72">+11.3</text>
<text x="1809.8" y="1564.8" text-anchor="middle" textLength="72">+13.5</text>
<text x="255.7" y="1605.6" text-anchor="middle" textLength="37.9">UT</text>
<text x="439.8" y="1605.6" text-anchor="middle" textLength="72">20:55</text>
<text x="620.8" y="1605.6" text-anchor="middle" textLength="72">21:07</text>
<text x="800.8" y="1605.6" text-anchor="middle" textLength="72">21:20</text>
<text x="980.8" y="1605.6" text-anchor="middle" textLength="72">21:33</text>
<text x="1160.8" y="1605.6" text-anchor="middle" textLength="72">21:45</text>
<text x="1445.8" y="1605.6" text-anchor="middle" textLength="72">20:20</text>
<text x="1627.8" y="1605.6" text-anchor="middle" textLength="72">20:32</text>
<text x="1809.8" y="1605.6" text-anchor="middle" textLength="72">20:43</text>
<text x="251.7" y="1646.3" text-anchor="middle" textLength="50">SLT</text>
<text x="439.8" y="1646.3" text-anchor="middle" textLength="72">15:00</text>
<text x="620.8" y="1646.3" text-anchor="middle" textLength="72">18:00</text>
<text x="800.8" y="1646.3" text-anchor="middle" textLength="72">21:00</text>
<text x="980.8" y="1646.3" text-anchor="middle" textLength="72">00:00</text>
<text x="1160.8" y="1646.3" text-anchor="middle" textLength="72">03:00</text>
<text x="1445.8" y="1646.3" text-anchor="middle" textLength="72">06:00</text>
<text x="1627.8" y="1646.3" text-anchor="middle" textLength="72">09:00</text>
<text x="1809.8" y="1646.3" text-anchor="middle" textLength="72">12:00</text>
</svg>
</body></html>
